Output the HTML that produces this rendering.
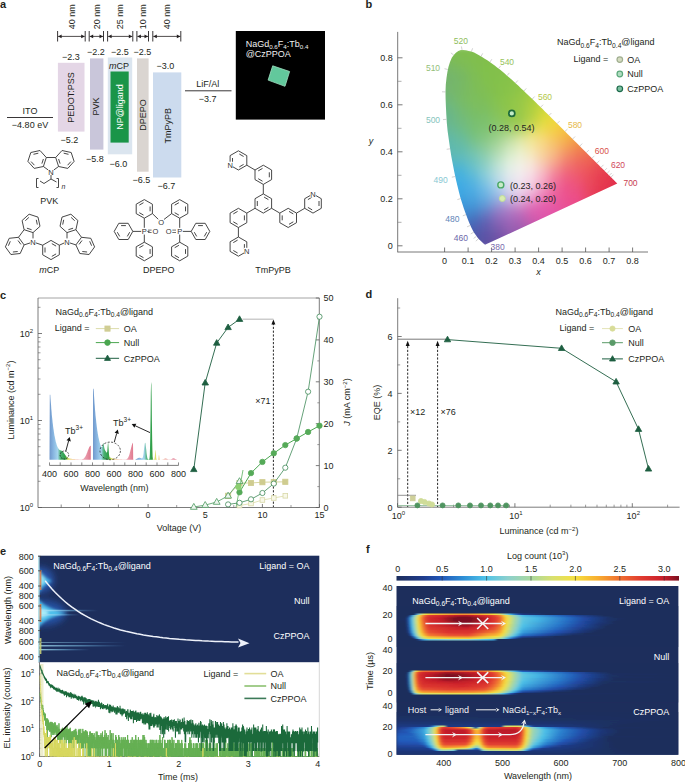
<!DOCTYPE html><html><head><meta charset="utf-8"><style>html,body{margin:0;padding:0;background:#fff;width:685px;height:783px;overflow:hidden}svg{display:block}</style></head><body><svg width="685" height="783" viewBox="0 0 685 783" style="font-family:'Liberation Sans',sans-serif"><defs><filter id="soft" x="-20%" y="-20%" width="140%" height="140%"><feGaussianBlur stdDeviation="0.5"/></filter><clipPath id="gam"><path d="M485.5,244.6 L485.4,244.7 L485.3,244.7 L485.2,244.7 L484.9,244.6 L484.3,244.2 L483.2,243.2 L481.4,241.6 L478.4,238.8 L473.8,232.2 L473.1,231.1 L472.2,229.3 L471.2,227.3 L470.2,225 L469,222.3 L467.8,219.2 L466.5,215.8 L465.1,212.1 L463.6,207.8 L462.1,203 L460.5,197.9 L459,192.2 L457.4,185.8 L455.8,179.1 L454.3,172 L452.8,164.3 L451.3,156.2 L450,148 L448.8,139.6 L447.6,131.1 L446.8,122.7 L446.3,114.6 L445.9,106.6 L445.6,98.8 L445.5,91.5 L445.8,84.5 L446.5,77.9 L447.4,71.9 L448.5,66.8 L450,62 L451.8,57.8 L453.8,54.9 L455.9,52.8 L458.3,51.1 L460.8,50 L463.3,49.9 L466,50.3 L468.7,50.9 L471.4,51.6 L474.1,52.6 L476.8,54 L479.5,55.6 L482.1,57.1 L484.7,58.7 L487.3,60.3 L489.8,62 L492.2,63.8 L494.7,65.6 L497.1,67.4 L499.6,69.3 L502,71.3 L504.4,73.3 L506.8,75.4 L509.2,77.5 L511.6,79.6 L514,81.7 L516.4,83.9 L518.7,86.1 L521.1,88.4 L523.5,90.6 L525.9,92.9 L528.3,95.2 L530.7,97.5 L533.1,99.8 L535.4,102.1 L537.8,104.5 L540.2,106.8 L542.6,109.1 L544.9,111.5 L547.3,113.8 L549.6,116.1 L552,118.4 L554.3,120.7 L556.6,123 L558.9,125.3 L561.1,127.6 L563.4,129.8 L565.6,132 L567.8,134.2 L569.9,136.3 L572.1,138.4 L574.1,140.5 L576.2,142.6 L578.2,144.6 L580.2,146.5 L582.1,148.4 L583.9,150.3 L585.7,152.1 L587.4,153.8 L589.1,155.4 L590.7,157 L592.2,158.5 L593.7,160 L595.1,161.4 L596.5,162.8 L597.7,164 L599,165.2 L600.1,166.4 L601.2,167.4 L602.2,168.5 L603.2,169.4 L604.1,170.3 L604.9,171.2 L605.7,172 L606.5,172.7 L607.2,173.4 L607.8,174.1 L608.4,174.7 L609,175.2 L609.5,175.8 L610.1,176.3 L610.5,176.8 L611,177.2 L611.4,177.6 L611.8,178 L612.2,178.4 L612.6,178.8 L612.9,179.2 L613.3,179.5 L613.6,179.8 L615.2,181.4 L616.5,182.7 L617,183.2 L617.3,183.5 Z"/></clipPath><filter id="blurv" x="-5%" y="-5%" width="110%" height="110%"><feGaussianBlur stdDeviation="1.5 2"/></filter><linearGradient id="cg0" gradientUnits="userSpaceOnUse" x1="439.9" y1="0" x2="623.2" y2="0"><stop offset="0.000" stop-color="#7ebc54"/><stop offset="0.062" stop-color="#7fbd50"/><stop offset="0.125" stop-color="#80be4f"/><stop offset="0.188" stop-color="#80be4e"/><stop offset="0.250" stop-color="#81bf4d"/><stop offset="0.312" stop-color="#82c04c"/><stop offset="0.375" stop-color="#82c04b"/><stop offset="0.438" stop-color="#84c14a"/><stop offset="0.500" stop-color="#87c348"/><stop offset="0.562" stop-color="#8bc447"/><stop offset="0.625" stop-color="#95c845"/><stop offset="0.688" stop-color="#a4cc42"/><stop offset="0.750" stop-color="#b3ce44"/><stop offset="0.812" stop-color="#b2b775"/><stop offset="0.875" stop-color="#a7a696"/><stop offset="0.938" stop-color="#a7a597"/><stop offset="1.000" stop-color="#a6a597"/></linearGradient><linearGradient id="cg1" gradientUnits="userSpaceOnUse" x1="439.9" y1="0" x2="623.2" y2="0"><stop offset="0.000" stop-color="#7dbb56"/><stop offset="0.062" stop-color="#7ebd52"/><stop offset="0.125" stop-color="#7fbe50"/><stop offset="0.188" stop-color="#80be4e"/><stop offset="0.250" stop-color="#81bf4d"/><stop offset="0.312" stop-color="#82c04b"/><stop offset="0.375" stop-color="#83c04b"/><stop offset="0.438" stop-color="#84c14a"/><stop offset="0.500" stop-color="#88c348"/><stop offset="0.562" stop-color="#8dc547"/><stop offset="0.625" stop-color="#98c844"/><stop offset="0.688" stop-color="#a7cd41"/><stop offset="0.750" stop-color="#b7d140"/><stop offset="0.812" stop-color="#bdc55e"/><stop offset="0.875" stop-color="#a9a793"/><stop offset="0.938" stop-color="#a7a597"/><stop offset="1.000" stop-color="#a6a597"/></linearGradient><linearGradient id="cg2" gradientUnits="userSpaceOnUse" x1="439.9" y1="0" x2="623.2" y2="0"><stop offset="0.000" stop-color="#7bba5a"/><stop offset="0.062" stop-color="#7ebc54"/><stop offset="0.125" stop-color="#7fbd50"/><stop offset="0.188" stop-color="#80be4f"/><stop offset="0.250" stop-color="#81bf4d"/><stop offset="0.312" stop-color="#82c04b"/><stop offset="0.375" stop-color="#83c04b"/><stop offset="0.438" stop-color="#85c249"/><stop offset="0.500" stop-color="#88c348"/><stop offset="0.562" stop-color="#8ec546"/><stop offset="0.625" stop-color="#9bc943"/><stop offset="0.688" stop-color="#aace40"/><stop offset="0.750" stop-color="#bbd33e"/><stop offset="0.812" stop-color="#c8d04b"/><stop offset="0.875" stop-color="#aeac8b"/><stop offset="0.938" stop-color="#a7a597"/><stop offset="1.000" stop-color="#a6a597"/></linearGradient><linearGradient id="cg3" gradientUnits="userSpaceOnUse" x1="439.9" y1="0" x2="623.2" y2="0"><stop offset="0.000" stop-color="#7ab95e"/><stop offset="0.062" stop-color="#7cbb57"/><stop offset="0.125" stop-color="#7ebd52"/><stop offset="0.188" stop-color="#80be4f"/><stop offset="0.250" stop-color="#81bf4c"/><stop offset="0.312" stop-color="#82c04b"/><stop offset="0.375" stop-color="#83c14a"/><stop offset="0.438" stop-color="#85c249"/><stop offset="0.500" stop-color="#89c448"/><stop offset="0.562" stop-color="#90c646"/><stop offset="0.625" stop-color="#9eca43"/><stop offset="0.688" stop-color="#aecf3f"/><stop offset="0.750" stop-color="#bfd43d"/><stop offset="0.812" stop-color="#d1d641"/><stop offset="0.875" stop-color="#b9b57b"/><stop offset="0.938" stop-color="#a7a596"/><stop offset="1.000" stop-color="#a6a597"/></linearGradient><linearGradient id="cg4" gradientUnits="userSpaceOnUse" x1="439.9" y1="0" x2="623.2" y2="0"><stop offset="0.000" stop-color="#78b862"/><stop offset="0.062" stop-color="#7bba5a"/><stop offset="0.125" stop-color="#7ebc54"/><stop offset="0.188" stop-color="#80be4f"/><stop offset="0.250" stop-color="#81bf4c"/><stop offset="0.312" stop-color="#82c04b"/><stop offset="0.375" stop-color="#83c14a"/><stop offset="0.438" stop-color="#86c249"/><stop offset="0.500" stop-color="#8ac447"/><stop offset="0.562" stop-color="#92c745"/><stop offset="0.625" stop-color="#a1cb42"/><stop offset="0.688" stop-color="#b1d03f"/><stop offset="0.750" stop-color="#c3d63c"/><stop offset="0.812" stop-color="#d7d93d"/><stop offset="0.875" stop-color="#cac364"/><stop offset="0.938" stop-color="#a8a695"/><stop offset="1.000" stop-color="#a7a597"/></linearGradient><linearGradient id="cg5" gradientUnits="userSpaceOnUse" x1="439.9" y1="0" x2="623.2" y2="0"><stop offset="0.000" stop-color="#77b765"/><stop offset="0.062" stop-color="#79b95e"/><stop offset="0.125" stop-color="#7dbb56"/><stop offset="0.188" stop-color="#7fbe50"/><stop offset="0.250" stop-color="#81bf4c"/><stop offset="0.312" stop-color="#82c04b"/><stop offset="0.375" stop-color="#84c14a"/><stop offset="0.438" stop-color="#86c249"/><stop offset="0.500" stop-color="#8bc447"/><stop offset="0.562" stop-color="#95c745"/><stop offset="0.625" stop-color="#a4cc41"/><stop offset="0.688" stop-color="#b5d13e"/><stop offset="0.750" stop-color="#c8d73c"/><stop offset="0.812" stop-color="#dcdb3b"/><stop offset="0.875" stop-color="#dbcf4f"/><stop offset="0.938" stop-color="#aca890"/><stop offset="1.000" stop-color="#a7a597"/></linearGradient><linearGradient id="cg6" gradientUnits="userSpaceOnUse" x1="439.9" y1="0" x2="623.2" y2="0"><stop offset="0.000" stop-color="#75b668"/><stop offset="0.062" stop-color="#78b862"/><stop offset="0.125" stop-color="#7bbb5a"/><stop offset="0.188" stop-color="#7fbe51"/><stop offset="0.250" stop-color="#81c04c"/><stop offset="0.312" stop-color="#82c04b"/><stop offset="0.375" stop-color="#84c14a"/><stop offset="0.438" stop-color="#87c348"/><stop offset="0.500" stop-color="#8dc547"/><stop offset="0.562" stop-color="#97c844"/><stop offset="0.625" stop-color="#a7cd40"/><stop offset="0.688" stop-color="#b9d33e"/><stop offset="0.750" stop-color="#cdd83b"/><stop offset="0.812" stop-color="#e1dc3a"/><stop offset="0.875" stop-color="#e6d643"/><stop offset="0.938" stop-color="#b4ad86"/><stop offset="1.000" stop-color="#a7a597"/></linearGradient><linearGradient id="cg7" gradientUnits="userSpaceOnUse" x1="439.9" y1="0" x2="623.2" y2="0"><stop offset="0.000" stop-color="#75b56a"/><stop offset="0.062" stop-color="#77b765"/><stop offset="0.125" stop-color="#7aba5d"/><stop offset="0.188" stop-color="#7fbe52"/><stop offset="0.250" stop-color="#81c04c"/><stop offset="0.312" stop-color="#83c04b"/><stop offset="0.375" stop-color="#84c14a"/><stop offset="0.438" stop-color="#88c348"/><stop offset="0.500" stop-color="#8ec546"/><stop offset="0.562" stop-color="#9ac943"/><stop offset="0.625" stop-color="#abce40"/><stop offset="0.688" stop-color="#bdd43d"/><stop offset="0.750" stop-color="#d2d93b"/><stop offset="0.812" stop-color="#e5dd39"/><stop offset="0.875" stop-color="#ecd83d"/><stop offset="0.938" stop-color="#c3b574"/><stop offset="1.000" stop-color="#a7a596"/></linearGradient><linearGradient id="cg8" gradientUnits="userSpaceOnUse" x1="439.9" y1="0" x2="623.2" y2="0"><stop offset="0.000" stop-color="#74b56c"/><stop offset="0.062" stop-color="#76b668"/><stop offset="0.125" stop-color="#79b960"/><stop offset="0.188" stop-color="#7ebd53"/><stop offset="0.250" stop-color="#81c04d"/><stop offset="0.312" stop-color="#83c04b"/><stop offset="0.375" stop-color="#85c24a"/><stop offset="0.438" stop-color="#89c348"/><stop offset="0.500" stop-color="#90c646"/><stop offset="0.562" stop-color="#9eca43"/><stop offset="0.625" stop-color="#aed03f"/><stop offset="0.688" stop-color="#c1d53c"/><stop offset="0.750" stop-color="#d7da3a"/><stop offset="0.812" stop-color="#e8dd39"/><stop offset="0.875" stop-color="#efd83b"/><stop offset="0.938" stop-color="#d6bd5e"/><stop offset="1.000" stop-color="#a9a694"/></linearGradient><linearGradient id="cg9" gradientUnits="userSpaceOnUse" x1="439.9" y1="0" x2="623.2" y2="0"><stop offset="0.000" stop-color="#74b56d"/><stop offset="0.062" stop-color="#75b66a"/><stop offset="0.125" stop-color="#78b862"/><stop offset="0.188" stop-color="#7ebd55"/><stop offset="0.250" stop-color="#81c04d"/><stop offset="0.312" stop-color="#83c14b"/><stop offset="0.375" stop-color="#85c249"/><stop offset="0.438" stop-color="#8ac448"/><stop offset="0.500" stop-color="#92c745"/><stop offset="0.562" stop-color="#a1cb42"/><stop offset="0.625" stop-color="#b2d13f"/><stop offset="0.688" stop-color="#c6d63c"/><stop offset="0.750" stop-color="#dbdb3a"/><stop offset="0.812" stop-color="#ebdc39"/><stop offset="0.875" stop-color="#f1d63a"/><stop offset="0.938" stop-color="#e5c24d"/><stop offset="1.000" stop-color="#ada78f"/></linearGradient><linearGradient id="cg10" gradientUnits="userSpaceOnUse" x1="439.9" y1="0" x2="623.2" y2="0"><stop offset="0.000" stop-color="#73b46d"/><stop offset="0.062" stop-color="#74b56b"/><stop offset="0.125" stop-color="#78b863"/><stop offset="0.188" stop-color="#7ebd56"/><stop offset="0.250" stop-color="#81c04e"/><stop offset="0.312" stop-color="#83c14b"/><stop offset="0.375" stop-color="#86c249"/><stop offset="0.438" stop-color="#8bc447"/><stop offset="0.500" stop-color="#94c745"/><stop offset="0.562" stop-color="#a4cc41"/><stop offset="0.625" stop-color="#b6d23e"/><stop offset="0.688" stop-color="#cad73b"/><stop offset="0.750" stop-color="#dfdc39"/><stop offset="0.812" stop-color="#eddc39"/><stop offset="0.875" stop-color="#f3d339"/><stop offset="0.938" stop-color="#edc243"/><stop offset="1.000" stop-color="#b7a884"/></linearGradient><linearGradient id="cg11" gradientUnits="userSpaceOnUse" x1="439.9" y1="0" x2="623.2" y2="0"><stop offset="0.000" stop-color="#73b46e"/><stop offset="0.062" stop-color="#74b56c"/><stop offset="0.125" stop-color="#78b964"/><stop offset="0.188" stop-color="#7dbd57"/><stop offset="0.250" stop-color="#81c04f"/><stop offset="0.312" stop-color="#83c14b"/><stop offset="0.375" stop-color="#87c249"/><stop offset="0.438" stop-color="#8cc547"/><stop offset="0.500" stop-color="#97c844"/><stop offset="0.562" stop-color="#a8cd41"/><stop offset="0.625" stop-color="#bad33d"/><stop offset="0.688" stop-color="#cfd93b"/><stop offset="0.750" stop-color="#e3dd39"/><stop offset="0.812" stop-color="#efda39"/><stop offset="0.875" stop-color="#f3d03a"/><stop offset="0.938" stop-color="#f1c03f"/><stop offset="1.000" stop-color="#c7aa72"/></linearGradient><linearGradient id="cg12" gradientUnits="userSpaceOnUse" x1="439.9" y1="0" x2="623.2" y2="0"><stop offset="0.000" stop-color="#73b46f"/><stop offset="0.062" stop-color="#74b66c"/><stop offset="0.125" stop-color="#78b964"/><stop offset="0.188" stop-color="#7dbd58"/><stop offset="0.250" stop-color="#81bf50"/><stop offset="0.312" stop-color="#84c14b"/><stop offset="0.375" stop-color="#87c349"/><stop offset="0.438" stop-color="#8ec547"/><stop offset="0.500" stop-color="#9ac944"/><stop offset="0.562" stop-color="#abce40"/><stop offset="0.625" stop-color="#bed43d"/><stop offset="0.688" stop-color="#d4da3a"/><stop offset="0.750" stop-color="#e7dd39"/><stop offset="0.812" stop-color="#f1d839"/><stop offset="0.875" stop-color="#f4cc3a"/><stop offset="0.938" stop-color="#f3bd3d"/><stop offset="1.000" stop-color="#d9a95d"/></linearGradient><linearGradient id="cg13" gradientUnits="userSpaceOnUse" x1="439.9" y1="0" x2="623.2" y2="0"><stop offset="0.000" stop-color="#72b571"/><stop offset="0.062" stop-color="#74b66d"/><stop offset="0.125" stop-color="#78b964"/><stop offset="0.188" stop-color="#7dbd59"/><stop offset="0.250" stop-color="#80bf51"/><stop offset="0.312" stop-color="#84c14c"/><stop offset="0.375" stop-color="#88c349"/><stop offset="0.438" stop-color="#8fc647"/><stop offset="0.500" stop-color="#9dca43"/><stop offset="0.562" stop-color="#afd03f"/><stop offset="0.625" stop-color="#c3d53c"/><stop offset="0.688" stop-color="#d9db3a"/><stop offset="0.750" stop-color="#eadc39"/><stop offset="0.812" stop-color="#f2d639"/><stop offset="0.875" stop-color="#f4c83a"/><stop offset="0.938" stop-color="#f4b93d"/><stop offset="1.000" stop-color="#e6a74e"/></linearGradient><linearGradient id="cg14" gradientUnits="userSpaceOnUse" x1="439.9" y1="0" x2="623.2" y2="0"><stop offset="0.000" stop-color="#72b573"/><stop offset="0.062" stop-color="#74b66e"/><stop offset="0.125" stop-color="#78ba64"/><stop offset="0.188" stop-color="#7dbd5a"/><stop offset="0.250" stop-color="#80bf53"/><stop offset="0.312" stop-color="#84c14c"/><stop offset="0.375" stop-color="#89c349"/><stop offset="0.438" stop-color="#91c646"/><stop offset="0.500" stop-color="#a0cb43"/><stop offset="0.562" stop-color="#b2d13f"/><stop offset="0.625" stop-color="#c8d73c"/><stop offset="0.688" stop-color="#dedc3a"/><stop offset="0.750" stop-color="#ecdb39"/><stop offset="0.812" stop-color="#f3d339"/><stop offset="0.875" stop-color="#f4c43b"/><stop offset="0.938" stop-color="#f4b43d"/><stop offset="1.000" stop-color="#eda247"/></linearGradient><linearGradient id="cg15" gradientUnits="userSpaceOnUse" x1="439.9" y1="0" x2="623.2" y2="0"><stop offset="0.000" stop-color="#70b576"/><stop offset="0.062" stop-color="#73b770"/><stop offset="0.125" stop-color="#78ba64"/><stop offset="0.188" stop-color="#7cbd5b"/><stop offset="0.250" stop-color="#7fbf55"/><stop offset="0.312" stop-color="#84c14d"/><stop offset="0.375" stop-color="#8ac449"/><stop offset="0.438" stop-color="#93c746"/><stop offset="0.500" stop-color="#a3cc42"/><stop offset="0.562" stop-color="#b6d23e"/><stop offset="0.625" stop-color="#cdd83b"/><stop offset="0.688" stop-color="#e2dc39"/><stop offset="0.750" stop-color="#eeda39"/><stop offset="0.812" stop-color="#f3cf3a"/><stop offset="0.875" stop-color="#f4c03b"/><stop offset="0.938" stop-color="#f4b03e"/><stop offset="1.000" stop-color="#f09d44"/></linearGradient><linearGradient id="cg16" gradientUnits="userSpaceOnUse" x1="439.9" y1="0" x2="623.2" y2="0"><stop offset="0.000" stop-color="#6fb57a"/><stop offset="0.062" stop-color="#72b773"/><stop offset="0.125" stop-color="#78bb65"/><stop offset="0.188" stop-color="#7cbe5c"/><stop offset="0.250" stop-color="#7fbf56"/><stop offset="0.312" stop-color="#85c24e"/><stop offset="0.375" stop-color="#8cc449"/><stop offset="0.438" stop-color="#95c746"/><stop offset="0.500" stop-color="#a5cd42"/><stop offset="0.562" stop-color="#bad33e"/><stop offset="0.625" stop-color="#d2d93b"/><stop offset="0.688" stop-color="#e5dc39"/><stop offset="0.750" stop-color="#f0d839"/><stop offset="0.812" stop-color="#f4cc3a"/><stop offset="0.875" stop-color="#f4bc3c"/><stop offset="0.938" stop-color="#f4ab3f"/><stop offset="1.000" stop-color="#f19843"/></linearGradient><linearGradient id="cg17" gradientUnits="userSpaceOnUse" x1="439.9" y1="0" x2="623.2" y2="0"><stop offset="0.000" stop-color="#6eb67f"/><stop offset="0.062" stop-color="#71b776"/><stop offset="0.125" stop-color="#78bb67"/><stop offset="0.188" stop-color="#7cbe5d"/><stop offset="0.250" stop-color="#7ebf59"/><stop offset="0.312" stop-color="#85c24f"/><stop offset="0.375" stop-color="#8dc54a"/><stop offset="0.438" stop-color="#97c846"/><stop offset="0.500" stop-color="#a8cd42"/><stop offset="0.562" stop-color="#bfd43d"/><stop offset="0.625" stop-color="#d7da3a"/><stop offset="0.688" stop-color="#e9dc39"/><stop offset="0.750" stop-color="#f1d539"/><stop offset="0.812" stop-color="#f4c83a"/><stop offset="0.875" stop-color="#f4b83d"/><stop offset="0.938" stop-color="#f3a63f"/><stop offset="1.000" stop-color="#f19343"/></linearGradient><linearGradient id="cg18" gradientUnits="userSpaceOnUse" x1="439.9" y1="0" x2="623.2" y2="0"><stop offset="0.000" stop-color="#6cb683"/><stop offset="0.062" stop-color="#70b87a"/><stop offset="0.125" stop-color="#77bb69"/><stop offset="0.188" stop-color="#7bbe5f"/><stop offset="0.250" stop-color="#7ebf5b"/><stop offset="0.312" stop-color="#86c251"/><stop offset="0.375" stop-color="#8dc54a"/><stop offset="0.438" stop-color="#98c847"/><stop offset="0.500" stop-color="#abce42"/><stop offset="0.562" stop-color="#c3d53d"/><stop offset="0.625" stop-color="#dbdb3a"/><stop offset="0.688" stop-color="#ebdb39"/><stop offset="0.750" stop-color="#f2d239"/><stop offset="0.812" stop-color="#f4c43b"/><stop offset="0.875" stop-color="#f4b43d"/><stop offset="0.938" stop-color="#f3a140"/><stop offset="1.000" stop-color="#f18e44"/></linearGradient><linearGradient id="cg19" gradientUnits="userSpaceOnUse" x1="439.9" y1="0" x2="623.2" y2="0"><stop offset="0.000" stop-color="#6bb686"/><stop offset="0.062" stop-color="#6eb87e"/><stop offset="0.125" stop-color="#76bb6c"/><stop offset="0.188" stop-color="#7bbe61"/><stop offset="0.250" stop-color="#7dbf5d"/><stop offset="0.312" stop-color="#86c253"/><stop offset="0.375" stop-color="#8ec54b"/><stop offset="0.438" stop-color="#99c847"/><stop offset="0.500" stop-color="#adcf42"/><stop offset="0.562" stop-color="#c8d63d"/><stop offset="0.625" stop-color="#e0db3a"/><stop offset="0.688" stop-color="#eed939"/><stop offset="0.750" stop-color="#f3cf3a"/><stop offset="0.812" stop-color="#f4c03b"/><stop offset="0.875" stop-color="#f4af3e"/><stop offset="0.938" stop-color="#f29c41"/><stop offset="1.000" stop-color="#f18944"/></linearGradient><linearGradient id="cg20" gradientUnits="userSpaceOnUse" x1="439.9" y1="0" x2="623.2" y2="0"><stop offset="0.000" stop-color="#6ab688"/><stop offset="0.062" stop-color="#6db781"/><stop offset="0.125" stop-color="#75bb70"/><stop offset="0.188" stop-color="#7abe64"/><stop offset="0.250" stop-color="#7dbf60"/><stop offset="0.312" stop-color="#86c256"/><stop offset="0.375" stop-color="#8fc54c"/><stop offset="0.438" stop-color="#99c948"/><stop offset="0.500" stop-color="#b0d042"/><stop offset="0.562" stop-color="#ccd83d"/><stop offset="0.625" stop-color="#e4db3a"/><stop offset="0.688" stop-color="#f0d739"/><stop offset="0.750" stop-color="#f4cb3a"/><stop offset="0.812" stop-color="#f4bb3c"/><stop offset="0.875" stop-color="#f4aa3f"/><stop offset="0.938" stop-color="#f29642"/><stop offset="1.000" stop-color="#f08545"/></linearGradient><linearGradient id="cg21" gradientUnits="userSpaceOnUse" x1="439.9" y1="0" x2="623.2" y2="0"><stop offset="0.000" stop-color="#6ab68a"/><stop offset="0.062" stop-color="#6cb784"/><stop offset="0.125" stop-color="#74bb73"/><stop offset="0.188" stop-color="#79be66"/><stop offset="0.250" stop-color="#7cc063"/><stop offset="0.312" stop-color="#86c359"/><stop offset="0.375" stop-color="#8fc54e"/><stop offset="0.438" stop-color="#9ac949"/><stop offset="0.500" stop-color="#b2d043"/><stop offset="0.562" stop-color="#d1d93d"/><stop offset="0.625" stop-color="#e7db3a"/><stop offset="0.688" stop-color="#f1d539"/><stop offset="0.750" stop-color="#f4c73b"/><stop offset="0.812" stop-color="#f4b73d"/><stop offset="0.875" stop-color="#f3a53f"/><stop offset="0.938" stop-color="#f29143"/><stop offset="1.000" stop-color="#f08145"/></linearGradient><linearGradient id="cg22" gradientUnits="userSpaceOnUse" x1="439.9" y1="0" x2="623.2" y2="0"><stop offset="0.000" stop-color="#69b68c"/><stop offset="0.062" stop-color="#6bb787"/><stop offset="0.125" stop-color="#73bb76"/><stop offset="0.188" stop-color="#79be69"/><stop offset="0.250" stop-color="#7cc067"/><stop offset="0.312" stop-color="#86c35c"/><stop offset="0.375" stop-color="#8fc650"/><stop offset="0.438" stop-color="#9bc94b"/><stop offset="0.500" stop-color="#b5d144"/><stop offset="0.562" stop-color="#d6d93e"/><stop offset="0.625" stop-color="#eada3a"/><stop offset="0.688" stop-color="#f2d23a"/><stop offset="0.750" stop-color="#f4c33b"/><stop offset="0.812" stop-color="#f4b33d"/><stop offset="0.875" stop-color="#f3a040"/><stop offset="0.938" stop-color="#f18c43"/><stop offset="1.000" stop-color="#f07c46"/></linearGradient><linearGradient id="cg23" gradientUnits="userSpaceOnUse" x1="439.9" y1="0" x2="623.2" y2="0"><stop offset="0.000" stop-color="#69b68d"/><stop offset="0.062" stop-color="#6bb789"/><stop offset="0.125" stop-color="#72bb7a"/><stop offset="0.188" stop-color="#78bf6c"/><stop offset="0.250" stop-color="#7cc16a"/><stop offset="0.312" stop-color="#86c460"/><stop offset="0.375" stop-color="#90c653"/><stop offset="0.438" stop-color="#9dca4d"/><stop offset="0.500" stop-color="#b9d247"/><stop offset="0.562" stop-color="#dbda3f"/><stop offset="0.625" stop-color="#edd93b"/><stop offset="0.688" stop-color="#f3ce3b"/><stop offset="0.750" stop-color="#f4bf3c"/><stop offset="0.812" stop-color="#f4ae3e"/><stop offset="0.875" stop-color="#f29a41"/><stop offset="0.938" stop-color="#f18844"/><stop offset="1.000" stop-color="#ef7847"/></linearGradient><linearGradient id="cg24" gradientUnits="userSpaceOnUse" x1="439.9" y1="0" x2="623.2" y2="0"><stop offset="0.000" stop-color="#68b68f"/><stop offset="0.062" stop-color="#6ab78c"/><stop offset="0.125" stop-color="#71bb7d"/><stop offset="0.188" stop-color="#78bf6f"/><stop offset="0.250" stop-color="#7dc16c"/><stop offset="0.312" stop-color="#87c565"/><stop offset="0.375" stop-color="#92c758"/><stop offset="0.438" stop-color="#a0cb52"/><stop offset="0.500" stop-color="#bfd44c"/><stop offset="0.562" stop-color="#e0da43"/><stop offset="0.625" stop-color="#efd73d"/><stop offset="0.688" stop-color="#f4ca3c"/><stop offset="0.750" stop-color="#f4ba3d"/><stop offset="0.812" stop-color="#f3a93f"/><stop offset="0.875" stop-color="#f29542"/><stop offset="0.938" stop-color="#f08345"/><stop offset="1.000" stop-color="#ee7348"/></linearGradient><linearGradient id="cg25" gradientUnits="userSpaceOnUse" x1="439.9" y1="0" x2="623.2" y2="0"><stop offset="0.000" stop-color="#68b791"/><stop offset="0.062" stop-color="#69b88f"/><stop offset="0.125" stop-color="#70bb80"/><stop offset="0.188" stop-color="#78bf72"/><stop offset="0.250" stop-color="#7ec26f"/><stop offset="0.312" stop-color="#89c66b"/><stop offset="0.375" stop-color="#95c95f"/><stop offset="0.438" stop-color="#a5cd58"/><stop offset="0.500" stop-color="#c6d653"/><stop offset="0.562" stop-color="#e4db47"/><stop offset="0.625" stop-color="#f1d43f"/><stop offset="0.688" stop-color="#f4c63d"/><stop offset="0.750" stop-color="#f4b63e"/><stop offset="0.812" stop-color="#f3a440"/><stop offset="0.875" stop-color="#f19043"/><stop offset="0.938" stop-color="#f07f46"/><stop offset="1.000" stop-color="#ee6e48"/></linearGradient><linearGradient id="cg26" gradientUnits="userSpaceOnUse" x1="439.9" y1="0" x2="623.2" y2="0"><stop offset="0.000" stop-color="#67b795"/><stop offset="0.062" stop-color="#68b893"/><stop offset="0.125" stop-color="#6fbc85"/><stop offset="0.188" stop-color="#78c074"/><stop offset="0.250" stop-color="#7fc372"/><stop offset="0.312" stop-color="#8cc871"/><stop offset="0.375" stop-color="#9bcc69"/><stop offset="0.438" stop-color="#add163"/><stop offset="0.500" stop-color="#cfd95d"/><stop offset="0.562" stop-color="#e9db4f"/><stop offset="0.625" stop-color="#f2d143"/><stop offset="0.688" stop-color="#f4c23f"/><stop offset="0.750" stop-color="#f4b13f"/><stop offset="0.812" stop-color="#f39e41"/><stop offset="0.875" stop-color="#f18b44"/><stop offset="0.938" stop-color="#ef7a47"/><stop offset="1.000" stop-color="#ed6849"/></linearGradient><linearGradient id="cg27" gradientUnits="userSpaceOnUse" x1="439.9" y1="0" x2="623.2" y2="0"><stop offset="0.000" stop-color="#65b799"/><stop offset="0.062" stop-color="#66b898"/><stop offset="0.125" stop-color="#6dbc89"/><stop offset="0.188" stop-color="#78c078"/><stop offset="0.250" stop-color="#81c476"/><stop offset="0.312" stop-color="#90ca78"/><stop offset="0.375" stop-color="#a2d075"/><stop offset="0.438" stop-color="#b8d671"/><stop offset="0.500" stop-color="#d8dc6a"/><stop offset="0.562" stop-color="#edda58"/><stop offset="0.625" stop-color="#f4ce48"/><stop offset="0.688" stop-color="#f4be41"/><stop offset="0.750" stop-color="#f4ac40"/><stop offset="0.812" stop-color="#f29842"/><stop offset="0.875" stop-color="#f18645"/><stop offset="0.938" stop-color="#ef7647"/><stop offset="1.000" stop-color="#ec624a"/></linearGradient><linearGradient id="cg28" gradientUnits="userSpaceOnUse" x1="439.9" y1="0" x2="623.2" y2="0"><stop offset="0.000" stop-color="#64b89e"/><stop offset="0.062" stop-color="#65b99d"/><stop offset="0.125" stop-color="#6cbc8f"/><stop offset="0.188" stop-color="#78c17c"/><stop offset="0.250" stop-color="#84c57a"/><stop offset="0.312" stop-color="#95cc80"/><stop offset="0.375" stop-color="#aad483"/><stop offset="0.438" stop-color="#c5db81"/><stop offset="0.500" stop-color="#e2df77"/><stop offset="0.562" stop-color="#f1da63"/><stop offset="0.625" stop-color="#f5cb4f"/><stop offset="0.688" stop-color="#f5ba44"/><stop offset="0.750" stop-color="#f3a742"/><stop offset="0.812" stop-color="#f29344"/><stop offset="0.875" stop-color="#f08146"/><stop offset="0.938" stop-color="#ee7048"/><stop offset="1.000" stop-color="#eb5b4b"/></linearGradient><linearGradient id="cg29" gradientUnits="userSpaceOnUse" x1="439.9" y1="0" x2="623.2" y2="0"><stop offset="0.000" stop-color="#63b8a3"/><stop offset="0.062" stop-color="#63b9a2"/><stop offset="0.125" stop-color="#6abc95"/><stop offset="0.188" stop-color="#78c181"/><stop offset="0.250" stop-color="#86c77f"/><stop offset="0.312" stop-color="#9acf87"/><stop offset="0.375" stop-color="#b3d891"/><stop offset="0.438" stop-color="#d0e091"/><stop offset="0.500" stop-color="#e9e284"/><stop offset="0.562" stop-color="#f4d96e"/><stop offset="0.625" stop-color="#f5c856"/><stop offset="0.688" stop-color="#f4b547"/><stop offset="0.750" stop-color="#f3a144"/><stop offset="0.812" stop-color="#f18d45"/><stop offset="0.875" stop-color="#f07c47"/><stop offset="0.938" stop-color="#ed6b49"/><stop offset="1.000" stop-color="#ea554c"/></linearGradient><linearGradient id="cg30" gradientUnits="userSpaceOnUse" x1="439.9" y1="0" x2="623.2" y2="0"><stop offset="0.000" stop-color="#61b8a7"/><stop offset="0.062" stop-color="#62b9a6"/><stop offset="0.125" stop-color="#69bc9b"/><stop offset="0.188" stop-color="#78c288"/><stop offset="0.250" stop-color="#89c885"/><stop offset="0.312" stop-color="#9ed18f"/><stop offset="0.375" stop-color="#bbdd9d"/><stop offset="0.438" stop-color="#d9e5a0"/><stop offset="0.500" stop-color="#eee490"/><stop offset="0.562" stop-color="#f5d879"/><stop offset="0.625" stop-color="#f6c55e"/><stop offset="0.688" stop-color="#f4b04c"/><stop offset="0.750" stop-color="#f39b46"/><stop offset="0.812" stop-color="#f18846"/><stop offset="0.875" stop-color="#ef7848"/><stop offset="0.938" stop-color="#ed654a"/><stop offset="1.000" stop-color="#e94f4d"/></linearGradient><linearGradient id="cg31" gradientUnits="userSpaceOnUse" x1="439.9" y1="0" x2="623.2" y2="0"><stop offset="0.000" stop-color="#60b9aa"/><stop offset="0.062" stop-color="#61b9aa"/><stop offset="0.125" stop-color="#68bca0"/><stop offset="0.188" stop-color="#78c28f"/><stop offset="0.250" stop-color="#8bca8c"/><stop offset="0.312" stop-color="#a3d496"/><stop offset="0.375" stop-color="#c2e0a8"/><stop offset="0.438" stop-color="#dfe8ac"/><stop offset="0.500" stop-color="#f1e599"/><stop offset="0.562" stop-color="#f7d781"/><stop offset="0.625" stop-color="#f6c267"/><stop offset="0.688" stop-color="#f4ab51"/><stop offset="0.750" stop-color="#f29449"/><stop offset="0.812" stop-color="#f08248"/><stop offset="0.875" stop-color="#ef7249"/><stop offset="0.938" stop-color="#ec5f4b"/><stop offset="1.000" stop-color="#e84a4d"/></linearGradient><linearGradient id="cg32" gradientUnits="userSpaceOnUse" x1="439.9" y1="0" x2="623.2" y2="0"><stop offset="0.000" stop-color="#60b9ac"/><stop offset="0.062" stop-color="#60b9ac"/><stop offset="0.125" stop-color="#66bca6"/><stop offset="0.188" stop-color="#78c398"/><stop offset="0.250" stop-color="#8dcb94"/><stop offset="0.312" stop-color="#a8d69e"/><stop offset="0.375" stop-color="#c8e3b1"/><stop offset="0.438" stop-color="#e3ebb6"/><stop offset="0.500" stop-color="#f3e6a2"/><stop offset="0.562" stop-color="#f7d689"/><stop offset="0.625" stop-color="#f6bf6e"/><stop offset="0.688" stop-color="#f4a556"/><stop offset="0.750" stop-color="#f28e4c"/><stop offset="0.812" stop-color="#f07d4a"/><stop offset="0.875" stop-color="#ee6d4a"/><stop offset="0.938" stop-color="#eb594c"/><stop offset="1.000" stop-color="#e8454d"/></linearGradient><linearGradient id="cg33" gradientUnits="userSpaceOnUse" x1="439.9" y1="0" x2="623.2" y2="0"><stop offset="0.000" stop-color="#5fb9af"/><stop offset="0.062" stop-color="#5fb9af"/><stop offset="0.125" stop-color="#65bcab"/><stop offset="0.188" stop-color="#77c3a0"/><stop offset="0.250" stop-color="#8ecc9c"/><stop offset="0.312" stop-color="#acd8a6"/><stop offset="0.375" stop-color="#cde6ba"/><stop offset="0.438" stop-color="#e6edc0"/><stop offset="0.500" stop-color="#f4e6ab"/><stop offset="0.562" stop-color="#f8d48f"/><stop offset="0.625" stop-color="#f7bc75"/><stop offset="0.688" stop-color="#f49f5c"/><stop offset="0.750" stop-color="#f1874f"/><stop offset="0.812" stop-color="#f0774c"/><stop offset="0.875" stop-color="#ed674b"/><stop offset="0.938" stop-color="#ea534d"/><stop offset="1.000" stop-color="#e7414e"/></linearGradient><linearGradient id="cg34" gradientUnits="userSpaceOnUse" x1="439.9" y1="0" x2="623.2" y2="0"><stop offset="0.000" stop-color="#5eb9b1"/><stop offset="0.062" stop-color="#5eb9b2"/><stop offset="0.125" stop-color="#64bcb0"/><stop offset="0.188" stop-color="#76c4a8"/><stop offset="0.250" stop-color="#8ecda4"/><stop offset="0.312" stop-color="#afdaae"/><stop offset="0.375" stop-color="#d1e8c2"/><stop offset="0.438" stop-color="#e9eec8"/><stop offset="0.500" stop-color="#f5e7b4"/><stop offset="0.562" stop-color="#f8d395"/><stop offset="0.625" stop-color="#f6b87b"/><stop offset="0.688" stop-color="#f39861"/><stop offset="0.750" stop-color="#f18053"/><stop offset="0.812" stop-color="#ef724e"/><stop offset="0.875" stop-color="#ec614d"/><stop offset="0.938" stop-color="#e94d4d"/><stop offset="1.000" stop-color="#e63e4e"/></linearGradient><linearGradient id="cg35" gradientUnits="userSpaceOnUse" x1="439.9" y1="0" x2="623.2" y2="0"><stop offset="0.000" stop-color="#5cb8b3"/><stop offset="0.062" stop-color="#5cb8b6"/><stop offset="0.125" stop-color="#62bcb6"/><stop offset="0.188" stop-color="#75c4b0"/><stop offset="0.250" stop-color="#8fceac"/><stop offset="0.312" stop-color="#b2dcb6"/><stop offset="0.375" stop-color="#d5eac9"/><stop offset="0.438" stop-color="#ebf0d0"/><stop offset="0.500" stop-color="#f5e7bc"/><stop offset="0.562" stop-color="#f8d19c"/><stop offset="0.625" stop-color="#f6b481"/><stop offset="0.688" stop-color="#f39166"/><stop offset="0.750" stop-color="#f17a56"/><stop offset="0.812" stop-color="#ef6d50"/><stop offset="0.875" stop-color="#ec5c4e"/><stop offset="0.938" stop-color="#e8494e"/><stop offset="1.000" stop-color="#e53b4d"/></linearGradient><linearGradient id="cg36" gradientUnits="userSpaceOnUse" x1="439.9" y1="0" x2="623.2" y2="0"><stop offset="0.000" stop-color="#5ab8b7"/><stop offset="0.062" stop-color="#59b8bb"/><stop offset="0.125" stop-color="#60bbbc"/><stop offset="0.188" stop-color="#73c4b6"/><stop offset="0.250" stop-color="#8fcfb4"/><stop offset="0.312" stop-color="#b5debe"/><stop offset="0.375" stop-color="#d9ecd0"/><stop offset="0.438" stop-color="#edf0d7"/><stop offset="0.500" stop-color="#f6e6c5"/><stop offset="0.562" stop-color="#f8cea2"/><stop offset="0.625" stop-color="#f6af85"/><stop offset="0.688" stop-color="#f38a6b"/><stop offset="0.750" stop-color="#f0745a"/><stop offset="0.812" stop-color="#ee6752"/><stop offset="0.875" stop-color="#eb564f"/><stop offset="0.938" stop-color="#e8454e"/><stop offset="1.000" stop-color="#e5394d"/></linearGradient><linearGradient id="cg37" gradientUnits="userSpaceOnUse" x1="439.9" y1="0" x2="623.2" y2="0"><stop offset="0.000" stop-color="#57b7bc"/><stop offset="0.062" stop-color="#56b7c1"/><stop offset="0.125" stop-color="#5dbac2"/><stop offset="0.188" stop-color="#71c3bc"/><stop offset="0.250" stop-color="#8fcfbb"/><stop offset="0.312" stop-color="#b7dfc6"/><stop offset="0.375" stop-color="#dcedd7"/><stop offset="0.438" stop-color="#eff0dd"/><stop offset="0.500" stop-color="#f6e6cd"/><stop offset="0.562" stop-color="#f8cba9"/><stop offset="0.625" stop-color="#f6a98a"/><stop offset="0.688" stop-color="#f2836f"/><stop offset="0.750" stop-color="#f06e5d"/><stop offset="0.812" stop-color="#ed6254"/><stop offset="0.875" stop-color="#ea5150"/><stop offset="0.938" stop-color="#e7414e"/><stop offset="1.000" stop-color="#e4374d"/></linearGradient><linearGradient id="cg38" gradientUnits="userSpaceOnUse" x1="439.9" y1="0" x2="623.2" y2="0"><stop offset="0.000" stop-color="#53b5c3"/><stop offset="0.062" stop-color="#51b5c9"/><stop offset="0.125" stop-color="#59b9c9"/><stop offset="0.188" stop-color="#6fc3c2"/><stop offset="0.250" stop-color="#8fcfc2"/><stop offset="0.312" stop-color="#b9e0cd"/><stop offset="0.375" stop-color="#deeddd"/><stop offset="0.438" stop-color="#f0f0e2"/><stop offset="0.500" stop-color="#f7e4d4"/><stop offset="0.562" stop-color="#f7c7b0"/><stop offset="0.625" stop-color="#f5a28e"/><stop offset="0.688" stop-color="#f27c72"/><stop offset="0.750" stop-color="#ef6961"/><stop offset="0.812" stop-color="#ed5e56"/><stop offset="0.875" stop-color="#e94d50"/><stop offset="0.938" stop-color="#e63f4e"/><stop offset="1.000" stop-color="#e4364d"/></linearGradient><linearGradient id="cg39" gradientUnits="userSpaceOnUse" x1="439.9" y1="0" x2="623.2" y2="0"><stop offset="0.000" stop-color="#4db4cb"/><stop offset="0.062" stop-color="#4cb4d0"/><stop offset="0.125" stop-color="#54b7cf"/><stop offset="0.188" stop-color="#6dc2c8"/><stop offset="0.250" stop-color="#8ecfc8"/><stop offset="0.312" stop-color="#bae0d4"/><stop offset="0.375" stop-color="#dfede2"/><stop offset="0.438" stop-color="#f1efe7"/><stop offset="0.500" stop-color="#f7e2da"/><stop offset="0.562" stop-color="#f7c3b7"/><stop offset="0.625" stop-color="#f49a92"/><stop offset="0.688" stop-color="#f17576"/><stop offset="0.750" stop-color="#ef6564"/><stop offset="0.812" stop-color="#ec5957"/><stop offset="0.875" stop-color="#e94950"/><stop offset="0.938" stop-color="#e63c4e"/><stop offset="1.000" stop-color="#e3344d"/></linearGradient><linearGradient id="cg40" gradientUnits="userSpaceOnUse" x1="439.9" y1="0" x2="623.2" y2="0"><stop offset="0.000" stop-color="#48b2d3"/><stop offset="0.062" stop-color="#48b2d7"/><stop offset="0.125" stop-color="#50b6d5"/><stop offset="0.188" stop-color="#6ac0cd"/><stop offset="0.250" stop-color="#8ecfce"/><stop offset="0.312" stop-color="#badfda"/><stop offset="0.375" stop-color="#e0ece6"/><stop offset="0.438" stop-color="#f1eeea"/><stop offset="0.500" stop-color="#f7e0de"/><stop offset="0.562" stop-color="#f7bebd"/><stop offset="0.625" stop-color="#f39296"/><stop offset="0.688" stop-color="#f06f79"/><stop offset="0.750" stop-color="#ef6167"/><stop offset="0.812" stop-color="#ec5559"/><stop offset="0.875" stop-color="#e84651"/><stop offset="0.938" stop-color="#e53a4e"/><stop offset="1.000" stop-color="#e3334c"/></linearGradient><linearGradient id="cg41" gradientUnits="userSpaceOnUse" x1="439.9" y1="0" x2="623.2" y2="0"><stop offset="0.000" stop-color="#44b1da"/><stop offset="0.062" stop-color="#44b1dc"/><stop offset="0.125" stop-color="#4cb4d9"/><stop offset="0.188" stop-color="#66bed2"/><stop offset="0.250" stop-color="#8cced4"/><stop offset="0.312" stop-color="#b9dede"/><stop offset="0.375" stop-color="#e0eae9"/><stop offset="0.438" stop-color="#f2ebec"/><stop offset="0.500" stop-color="#f7dde1"/><stop offset="0.562" stop-color="#f6b9c1"/><stop offset="0.625" stop-color="#f38a99"/><stop offset="0.688" stop-color="#f0697c"/><stop offset="0.750" stop-color="#ee5d6a"/><stop offset="0.812" stop-color="#ec525a"/><stop offset="0.875" stop-color="#e84351"/><stop offset="0.938" stop-color="#e5384e"/><stop offset="1.000" stop-color="#e3324c"/></linearGradient><linearGradient id="cg42" gradientUnits="userSpaceOnUse" x1="439.9" y1="0" x2="623.2" y2="0"><stop offset="0.000" stop-color="#41b0df"/><stop offset="0.062" stop-color="#41afe0"/><stop offset="0.125" stop-color="#49b2dd"/><stop offset="0.188" stop-color="#62bcd7"/><stop offset="0.250" stop-color="#8accd9"/><stop offset="0.312" stop-color="#b8dce2"/><stop offset="0.375" stop-color="#dfe8ec"/><stop offset="0.438" stop-color="#f1e9ee"/><stop offset="0.500" stop-color="#f6d9e3"/><stop offset="0.562" stop-color="#f6b3c4"/><stop offset="0.625" stop-color="#f2839c"/><stop offset="0.688" stop-color="#ef6480"/><stop offset="0.750" stop-color="#ee5a6e"/><stop offset="0.812" stop-color="#eb4f5b"/><stop offset="0.875" stop-color="#e74051"/><stop offset="0.938" stop-color="#e4374d"/><stop offset="1.000" stop-color="#e2314c"/></linearGradient><linearGradient id="cg43" gradientUnits="userSpaceOnUse" x1="439.9" y1="0" x2="623.2" y2="0"><stop offset="0.000" stop-color="#3fafe2"/><stop offset="0.062" stop-color="#40aee2"/><stop offset="0.125" stop-color="#47b0e0"/><stop offset="0.188" stop-color="#5eb9db"/><stop offset="0.250" stop-color="#86c9dc"/><stop offset="0.312" stop-color="#b5dae5"/><stop offset="0.375" stop-color="#dee5ed"/><stop offset="0.438" stop-color="#f1e6ef"/><stop offset="0.500" stop-color="#f6d5e3"/><stop offset="0.562" stop-color="#f5aec5"/><stop offset="0.625" stop-color="#f17c9d"/><stop offset="0.688" stop-color="#ee5f83"/><stop offset="0.750" stop-color="#ee5771"/><stop offset="0.812" stop-color="#eb4d5c"/><stop offset="0.875" stop-color="#e73e50"/><stop offset="0.938" stop-color="#e4354d"/><stop offset="1.000" stop-color="#e2304c"/></linearGradient><linearGradient id="cg44" gradientUnits="userSpaceOnUse" x1="439.9" y1="0" x2="623.2" y2="0"><stop offset="0.000" stop-color="#3eaee3"/><stop offset="0.062" stop-color="#3eade3"/><stop offset="0.125" stop-color="#45aee1"/><stop offset="0.188" stop-color="#5ab6de"/><stop offset="0.250" stop-color="#82c6df"/><stop offset="0.312" stop-color="#b1d6e7"/><stop offset="0.375" stop-color="#dce2ee"/><stop offset="0.438" stop-color="#f0e2ef"/><stop offset="0.500" stop-color="#f5d0e3"/><stop offset="0.562" stop-color="#f4a8c5"/><stop offset="0.625" stop-color="#f0769f"/><stop offset="0.688" stop-color="#ee5c85"/><stop offset="0.750" stop-color="#ed5574"/><stop offset="0.812" stop-color="#ea4b5e"/><stop offset="0.875" stop-color="#e63c50"/><stop offset="0.938" stop-color="#e3344d"/><stop offset="1.000" stop-color="#e2304c"/></linearGradient><linearGradient id="cg45" gradientUnits="userSpaceOnUse" x1="439.9" y1="0" x2="623.2" y2="0"><stop offset="0.000" stop-color="#3dade4"/><stop offset="0.062" stop-color="#3eace4"/><stop offset="0.125" stop-color="#43ace2"/><stop offset="0.188" stop-color="#57b3e0"/><stop offset="0.250" stop-color="#7dc2e1"/><stop offset="0.312" stop-color="#add2e7"/><stop offset="0.375" stop-color="#dadeee"/><stop offset="0.438" stop-color="#eedeee"/><stop offset="0.500" stop-color="#f4cbe1"/><stop offset="0.562" stop-color="#f3a1c4"/><stop offset="0.625" stop-color="#ef719f"/><stop offset="0.688" stop-color="#ed5988"/><stop offset="0.750" stop-color="#ed5378"/><stop offset="0.812" stop-color="#ea495f"/><stop offset="0.875" stop-color="#e63b50"/><stop offset="0.938" stop-color="#e3334d"/><stop offset="1.000" stop-color="#e22f4c"/></linearGradient><linearGradient id="cg46" gradientUnits="userSpaceOnUse" x1="439.9" y1="0" x2="623.2" y2="0"><stop offset="0.000" stop-color="#3cace5"/><stop offset="0.062" stop-color="#3daae4"/><stop offset="0.125" stop-color="#42aae3"/><stop offset="0.188" stop-color="#54b0e1"/><stop offset="0.250" stop-color="#78bee3"/><stop offset="0.312" stop-color="#a8cde7"/><stop offset="0.375" stop-color="#d7d9ed"/><stop offset="0.438" stop-color="#ecd9ed"/><stop offset="0.500" stop-color="#f2c4df"/><stop offset="0.562" stop-color="#f19ac2"/><stop offset="0.625" stop-color="#ee6c9f"/><stop offset="0.688" stop-color="#ed568a"/><stop offset="0.750" stop-color="#ec517b"/><stop offset="0.812" stop-color="#ea4760"/><stop offset="0.875" stop-color="#e53950"/><stop offset="0.938" stop-color="#e3324c"/><stop offset="1.000" stop-color="#e22f4b"/></linearGradient><linearGradient id="cg47" gradientUnits="userSpaceOnUse" x1="439.9" y1="0" x2="623.2" y2="0"><stop offset="0.000" stop-color="#3caae4"/><stop offset="0.062" stop-color="#3da9e4"/><stop offset="0.125" stop-color="#41a8e2"/><stop offset="0.188" stop-color="#51ade1"/><stop offset="0.250" stop-color="#73b9e3"/><stop offset="0.312" stop-color="#a2c7e7"/><stop offset="0.375" stop-color="#d3d3ec"/><stop offset="0.438" stop-color="#ead2ea"/><stop offset="0.500" stop-color="#f0bbdb"/><stop offset="0.562" stop-color="#f091bf"/><stop offset="0.625" stop-color="#ed689f"/><stop offset="0.688" stop-color="#ec548c"/><stop offset="0.750" stop-color="#ec507e"/><stop offset="0.812" stop-color="#e94662"/><stop offset="0.875" stop-color="#e5384f"/><stop offset="0.938" stop-color="#e2314c"/><stop offset="1.000" stop-color="#e12e4b"/></linearGradient><linearGradient id="cg48" gradientUnits="userSpaceOnUse" x1="439.9" y1="0" x2="623.2" y2="0"><stop offset="0.000" stop-color="#3ca9e4"/><stop offset="0.062" stop-color="#3ca6e3"/><stop offset="0.125" stop-color="#40a6e1"/><stop offset="0.188" stop-color="#4fa9e1"/><stop offset="0.250" stop-color="#6eb4e2"/><stop offset="0.312" stop-color="#9dc0e5"/><stop offset="0.375" stop-color="#cfcbe9"/><stop offset="0.438" stop-color="#e7cae7"/><stop offset="0.500" stop-color="#eeb0d6"/><stop offset="0.562" stop-color="#ed88bb"/><stop offset="0.625" stop-color="#ec649f"/><stop offset="0.688" stop-color="#ec538d"/><stop offset="0.750" stop-color="#ec4f81"/><stop offset="0.812" stop-color="#e94564"/><stop offset="0.875" stop-color="#e4364f"/><stop offset="0.938" stop-color="#e2304c"/><stop offset="1.000" stop-color="#e12e4b"/></linearGradient><linearGradient id="cg49" gradientUnits="userSpaceOnUse" x1="439.9" y1="0" x2="623.2" y2="0"><stop offset="0.000" stop-color="#3ba6e3"/><stop offset="0.062" stop-color="#3ca4e1"/><stop offset="0.125" stop-color="#3fa3e0"/><stop offset="0.188" stop-color="#4da6df"/><stop offset="0.250" stop-color="#6bafe0"/><stop offset="0.312" stop-color="#98b7e2"/><stop offset="0.375" stop-color="#c9c1e5"/><stop offset="0.438" stop-color="#e3bfe2"/><stop offset="0.500" stop-color="#eba3d0"/><stop offset="0.562" stop-color="#eb7eb8"/><stop offset="0.625" stop-color="#eb619f"/><stop offset="0.688" stop-color="#eb528f"/><stop offset="0.750" stop-color="#ec4e84"/><stop offset="0.812" stop-color="#e94466"/><stop offset="0.875" stop-color="#e4354f"/><stop offset="0.938" stop-color="#e2304c"/><stop offset="1.000" stop-color="#e12e4b"/></linearGradient><linearGradient id="cg50" gradientUnits="userSpaceOnUse" x1="439.9" y1="0" x2="623.2" y2="0"><stop offset="0.000" stop-color="#3ba4e1"/><stop offset="0.062" stop-color="#3ca1e0"/><stop offset="0.125" stop-color="#3f9fde"/><stop offset="0.188" stop-color="#4ba1dd"/><stop offset="0.250" stop-color="#68a8de"/><stop offset="0.312" stop-color="#95adde"/><stop offset="0.375" stop-color="#c3b4e0"/><stop offset="0.438" stop-color="#deb1dc"/><stop offset="0.500" stop-color="#e793c9"/><stop offset="0.562" stop-color="#e974b4"/><stop offset="0.625" stop-color="#e95ea0"/><stop offset="0.688" stop-color="#eb5190"/><stop offset="0.750" stop-color="#eb4d86"/><stop offset="0.812" stop-color="#e84368"/><stop offset="0.875" stop-color="#e3344f"/><stop offset="0.938" stop-color="#e22f4c"/><stop offset="1.000" stop-color="#e12e4b"/></linearGradient><linearGradient id="cg51" gradientUnits="userSpaceOnUse" x1="439.9" y1="0" x2="623.2" y2="0"><stop offset="0.000" stop-color="#3ba1e0"/><stop offset="0.062" stop-color="#3b9ede"/><stop offset="0.125" stop-color="#3e9bdc"/><stop offset="0.188" stop-color="#499cda"/><stop offset="0.250" stop-color="#66a0da"/><stop offset="0.312" stop-color="#92a2d9"/><stop offset="0.375" stop-color="#bda5da"/><stop offset="0.438" stop-color="#d8a1d4"/><stop offset="0.500" stop-color="#e484c2"/><stop offset="0.562" stop-color="#e66bb1"/><stop offset="0.625" stop-color="#e85ba1"/><stop offset="0.688" stop-color="#ea5192"/><stop offset="0.750" stop-color="#eb4d88"/><stop offset="0.812" stop-color="#e8436b"/><stop offset="0.875" stop-color="#e3334f"/><stop offset="0.938" stop-color="#e22f4c"/><stop offset="1.000" stop-color="#e12e4b"/></linearGradient><linearGradient id="cg52" gradientUnits="userSpaceOnUse" x1="439.9" y1="0" x2="623.2" y2="0"><stop offset="0.000" stop-color="#3a9ede"/><stop offset="0.062" stop-color="#3b9adb"/><stop offset="0.125" stop-color="#3d97d9"/><stop offset="0.188" stop-color="#4896d7"/><stop offset="0.250" stop-color="#6597d5"/><stop offset="0.312" stop-color="#9195d3"/><stop offset="0.375" stop-color="#b696d3"/><stop offset="0.438" stop-color="#d191cd"/><stop offset="0.500" stop-color="#e077bb"/><stop offset="0.562" stop-color="#e464ae"/><stop offset="0.625" stop-color="#e659a2"/><stop offset="0.688" stop-color="#e95094"/><stop offset="0.750" stop-color="#eb4d8a"/><stop offset="0.812" stop-color="#e8436d"/><stop offset="0.875" stop-color="#e3324e"/><stop offset="0.938" stop-color="#e22e4b"/><stop offset="1.000" stop-color="#e12d4b"/></linearGradient><linearGradient id="cg53" gradientUnits="userSpaceOnUse" x1="439.9" y1="0" x2="623.2" y2="0"><stop offset="0.000" stop-color="#3a9adb"/><stop offset="0.062" stop-color="#3a96d9"/><stop offset="0.125" stop-color="#3d92d5"/><stop offset="0.188" stop-color="#478fd2"/><stop offset="0.250" stop-color="#648dcf"/><stop offset="0.312" stop-color="#9089cd"/><stop offset="0.375" stop-color="#b188cc"/><stop offset="0.438" stop-color="#ca82c5"/><stop offset="0.500" stop-color="#dc6cb6"/><stop offset="0.562" stop-color="#e25ead"/><stop offset="0.625" stop-color="#e557a4"/><stop offset="0.688" stop-color="#e85196"/><stop offset="0.750" stop-color="#ea4d8b"/><stop offset="0.812" stop-color="#e8426f"/><stop offset="0.875" stop-color="#e3314e"/><stop offset="0.938" stop-color="#e12e4b"/><stop offset="1.000" stop-color="#e12d4b"/></linearGradient><linearGradient id="cg54" gradientUnits="userSpaceOnUse" x1="439.9" y1="0" x2="623.2" y2="0"><stop offset="0.000" stop-color="#3a96d9"/><stop offset="0.062" stop-color="#3a91d6"/><stop offset="0.125" stop-color="#3d8cd2"/><stop offset="0.188" stop-color="#4787cd"/><stop offset="0.250" stop-color="#6482c9"/><stop offset="0.312" stop-color="#8f7fc7"/><stop offset="0.375" stop-color="#ac7dc6"/><stop offset="0.438" stop-color="#c276bf"/><stop offset="0.500" stop-color="#d965b3"/><stop offset="0.562" stop-color="#e15bac"/><stop offset="0.625" stop-color="#e456a5"/><stop offset="0.688" stop-color="#e75199"/><stop offset="0.750" stop-color="#ea4d8d"/><stop offset="0.812" stop-color="#e84272"/><stop offset="0.875" stop-color="#e2314e"/><stop offset="0.938" stop-color="#e12e4b"/><stop offset="1.000" stop-color="#e12d4b"/></linearGradient><linearGradient id="cg55" gradientUnits="userSpaceOnUse" x1="439.9" y1="0" x2="623.2" y2="0"><stop offset="0.000" stop-color="#3992d6"/><stop offset="0.062" stop-color="#3a8cd2"/><stop offset="0.125" stop-color="#3d86cd"/><stop offset="0.188" stop-color="#487fc7"/><stop offset="0.250" stop-color="#6478c2"/><stop offset="0.312" stop-color="#8d75c1"/><stop offset="0.375" stop-color="#a774c1"/><stop offset="0.438" stop-color="#bb6dbb"/><stop offset="0.500" stop-color="#d460b0"/><stop offset="0.562" stop-color="#df59ab"/><stop offset="0.625" stop-color="#e356a6"/><stop offset="0.688" stop-color="#e6519c"/><stop offset="0.750" stop-color="#e94d8f"/><stop offset="0.812" stop-color="#e84374"/><stop offset="0.875" stop-color="#e2314f"/><stop offset="0.938" stop-color="#e12e4b"/><stop offset="1.000" stop-color="#e12d4b"/></linearGradient><linearGradient id="cg56" gradientUnits="userSpaceOnUse" x1="439.9" y1="0" x2="623.2" y2="0"><stop offset="0.000" stop-color="#398dd3"/><stop offset="0.062" stop-color="#3b87ce"/><stop offset="0.125" stop-color="#3e7fc8"/><stop offset="0.188" stop-color="#4876c1"/><stop offset="0.250" stop-color="#636fbc"/><stop offset="0.312" stop-color="#8a6ebc"/><stop offset="0.375" stop-color="#a36ebd"/><stop offset="0.438" stop-color="#b567b8"/><stop offset="0.500" stop-color="#cf5daf"/><stop offset="0.562" stop-color="#dd57ab"/><stop offset="0.625" stop-color="#e255a7"/><stop offset="0.688" stop-color="#e5529f"/><stop offset="0.750" stop-color="#e94e92"/><stop offset="0.812" stop-color="#e84376"/><stop offset="0.875" stop-color="#e2304f"/><stop offset="0.938" stop-color="#e12e4b"/><stop offset="1.000" stop-color="#e12d4b"/></linearGradient><linearGradient id="cg57" gradientUnits="userSpaceOnUse" x1="439.9" y1="0" x2="623.2" y2="0"><stop offset="0.000" stop-color="#3a88cf"/><stop offset="0.062" stop-color="#3b81ca"/><stop offset="0.125" stop-color="#3f78c3"/><stop offset="0.188" stop-color="#4a6fbc"/><stop offset="0.250" stop-color="#6268b7"/><stop offset="0.312" stop-color="#8667b8"/><stop offset="0.375" stop-color="#9e68b9"/><stop offset="0.438" stop-color="#ae63b5"/><stop offset="0.500" stop-color="#c95bae"/><stop offset="0.562" stop-color="#db57ab"/><stop offset="0.625" stop-color="#e155a8"/><stop offset="0.688" stop-color="#e453a2"/><stop offset="0.750" stop-color="#e84e95"/><stop offset="0.812" stop-color="#e84479"/><stop offset="0.875" stop-color="#e2304f"/><stop offset="0.938" stop-color="#e12e4b"/><stop offset="1.000" stop-color="#e12d4b"/></linearGradient><linearGradient id="cg58" gradientUnits="userSpaceOnUse" x1="439.9" y1="0" x2="623.2" y2="0"><stop offset="0.000" stop-color="#3a83cb"/><stop offset="0.062" stop-color="#3c7bc6"/><stop offset="0.125" stop-color="#4172be"/><stop offset="0.188" stop-color="#4b68b7"/><stop offset="0.250" stop-color="#6162b2"/><stop offset="0.312" stop-color="#8262b4"/><stop offset="0.375" stop-color="#9a64b6"/><stop offset="0.438" stop-color="#a960b3"/><stop offset="0.500" stop-color="#c259ad"/><stop offset="0.562" stop-color="#d856aa"/><stop offset="0.625" stop-color="#e055a9"/><stop offset="0.688" stop-color="#e353a4"/><stop offset="0.750" stop-color="#e74f98"/><stop offset="0.812" stop-color="#e8447c"/><stop offset="0.875" stop-color="#e2304f"/><stop offset="0.938" stop-color="#e12d4b"/><stop offset="1.000" stop-color="#e12d4b"/></linearGradient><linearGradient id="cg59" gradientUnits="userSpaceOnUse" x1="439.9" y1="0" x2="623.2" y2="0"><stop offset="0.000" stop-color="#3b7dc7"/><stop offset="0.062" stop-color="#3d75c1"/><stop offset="0.125" stop-color="#426cba"/><stop offset="0.188" stop-color="#4d63b3"/><stop offset="0.250" stop-color="#605daf"/><stop offset="0.312" stop-color="#7d5eb0"/><stop offset="0.375" stop-color="#9661b3"/><stop offset="0.438" stop-color="#a45eb1"/><stop offset="0.500" stop-color="#bb59ad"/><stop offset="0.562" stop-color="#d456aa"/><stop offset="0.625" stop-color="#df55a9"/><stop offset="0.688" stop-color="#e254a6"/><stop offset="0.750" stop-color="#e6509c"/><stop offset="0.812" stop-color="#e7467f"/><stop offset="0.875" stop-color="#e2304f"/><stop offset="0.938" stop-color="#e12d4b"/><stop offset="1.000" stop-color="#e12d4b"/></linearGradient><linearGradient id="cg60" gradientUnits="userSpaceOnUse" x1="439.9" y1="0" x2="623.2" y2="0"><stop offset="0.000" stop-color="#3c78c3"/><stop offset="0.062" stop-color="#3f6fbd"/><stop offset="0.125" stop-color="#4466b6"/><stop offset="0.188" stop-color="#4e5eaf"/><stop offset="0.250" stop-color="#5f5aac"/><stop offset="0.312" stop-color="#795bad"/><stop offset="0.375" stop-color="#925eb1"/><stop offset="0.438" stop-color="#9f5cb0"/><stop offset="0.500" stop-color="#b358ac"/><stop offset="0.562" stop-color="#cf56aa"/><stop offset="0.625" stop-color="#dd55a9"/><stop offset="0.688" stop-color="#e154a7"/><stop offset="0.750" stop-color="#e5519f"/><stop offset="0.812" stop-color="#e74783"/><stop offset="0.875" stop-color="#e23050"/><stop offset="0.938" stop-color="#e12d4b"/><stop offset="1.000" stop-color="#e12d4b"/></linearGradient><linearGradient id="cg61" gradientUnits="userSpaceOnUse" x1="439.9" y1="0" x2="623.2" y2="0"><stop offset="0.000" stop-color="#3d72bf"/><stop offset="0.062" stop-color="#406ab9"/><stop offset="0.125" stop-color="#4662b2"/><stop offset="0.188" stop-color="#4f5bac"/><stop offset="0.250" stop-color="#5e57a9"/><stop offset="0.312" stop-color="#7558ab"/><stop offset="0.375" stop-color="#8e5baf"/><stop offset="0.438" stop-color="#9c5aae"/><stop offset="0.500" stop-color="#ad57ac"/><stop offset="0.562" stop-color="#c956aa"/><stop offset="0.625" stop-color="#db55aa"/><stop offset="0.688" stop-color="#e054a8"/><stop offset="0.750" stop-color="#e452a2"/><stop offset="0.812" stop-color="#e64988"/><stop offset="0.875" stop-color="#e23050"/><stop offset="0.938" stop-color="#e12d4b"/><stop offset="1.000" stop-color="#e12d4b"/></linearGradient><linearGradient id="cg62" gradientUnits="userSpaceOnUse" x1="439.9" y1="0" x2="623.2" y2="0"><stop offset="0.000" stop-color="#3e6dbb"/><stop offset="0.062" stop-color="#4265b5"/><stop offset="0.125" stop-color="#485eaf"/><stop offset="0.188" stop-color="#5058aa"/><stop offset="0.250" stop-color="#5d54a7"/><stop offset="0.312" stop-color="#7255a8"/><stop offset="0.375" stop-color="#8b59ac"/><stop offset="0.438" stop-color="#9959ad"/><stop offset="0.500" stop-color="#a757ac"/><stop offset="0.562" stop-color="#c256aa"/><stop offset="0.625" stop-color="#d855aa"/><stop offset="0.688" stop-color="#e055a9"/><stop offset="0.750" stop-color="#e353a4"/><stop offset="0.812" stop-color="#e64a8d"/><stop offset="0.875" stop-color="#e23051"/><stop offset="0.938" stop-color="#e12d4b"/><stop offset="1.000" stop-color="#e12d4b"/></linearGradient><linearGradient id="cg63" gradientUnits="userSpaceOnUse" x1="439.9" y1="0" x2="623.2" y2="0"><stop offset="0.000" stop-color="#4069b8"/><stop offset="0.062" stop-color="#4461b2"/><stop offset="0.125" stop-color="#495bac"/><stop offset="0.188" stop-color="#5156a8"/><stop offset="0.250" stop-color="#5d53a5"/><stop offset="0.312" stop-color="#6f53a7"/><stop offset="0.375" stop-color="#8857ab"/><stop offset="0.438" stop-color="#9758ac"/><stop offset="0.500" stop-color="#a256ab"/><stop offset="0.562" stop-color="#ba55aa"/><stop offset="0.625" stop-color="#d455aa"/><stop offset="0.688" stop-color="#de55a9"/><stop offset="0.750" stop-color="#e254a6"/><stop offset="0.812" stop-color="#e54c93"/><stop offset="0.875" stop-color="#e23052"/><stop offset="0.938" stop-color="#e12d4b"/><stop offset="1.000" stop-color="#e12d4b"/></linearGradient><linearGradient id="cg64" gradientUnits="userSpaceOnUse" x1="439.9" y1="0" x2="623.2" y2="0"><stop offset="0.000" stop-color="#4165b4"/><stop offset="0.062" stop-color="#455eaf"/><stop offset="0.125" stop-color="#4b58aa"/><stop offset="0.188" stop-color="#5254a6"/><stop offset="0.250" stop-color="#5c51a4"/><stop offset="0.312" stop-color="#6d52a5"/><stop offset="0.375" stop-color="#8555a9"/><stop offset="0.438" stop-color="#9557ab"/><stop offset="0.500" stop-color="#9e56ab"/><stop offset="0.562" stop-color="#b255aa"/><stop offset="0.625" stop-color="#cf55aa"/><stop offset="0.688" stop-color="#dd55a9"/><stop offset="0.750" stop-color="#e154a7"/><stop offset="0.812" stop-color="#e44e98"/><stop offset="0.875" stop-color="#e23153"/><stop offset="0.938" stop-color="#e12d4b"/><stop offset="1.000" stop-color="#e12d4b"/></linearGradient><linearGradient id="cg65" gradientUnits="userSpaceOnUse" x1="439.9" y1="0" x2="623.2" y2="0"><stop offset="0.000" stop-color="#4361b2"/><stop offset="0.062" stop-color="#475bad"/><stop offset="0.125" stop-color="#4c56a8"/><stop offset="0.188" stop-color="#5352a4"/><stop offset="0.250" stop-color="#5c50a2"/><stop offset="0.312" stop-color="#6b50a3"/><stop offset="0.375" stop-color="#8354a8"/><stop offset="0.438" stop-color="#9356ab"/><stop offset="0.500" stop-color="#9b56ab"/><stop offset="0.562" stop-color="#ab55aa"/><stop offset="0.625" stop-color="#c855aa"/><stop offset="0.688" stop-color="#da55aa"/><stop offset="0.750" stop-color="#e054a8"/><stop offset="0.812" stop-color="#e3509d"/><stop offset="0.875" stop-color="#e23255"/><stop offset="0.938" stop-color="#e12e4b"/><stop offset="1.000" stop-color="#e12d4b"/></linearGradient><linearGradient id="spg" x1="0" y1="0" x2="1" y2="0"><stop offset="0" stop-color="#7098cc"/><stop offset="0.1" stop-color="#8ab8e2"/><stop offset="0.2" stop-color="#a6d6ee"/><stop offset="0.27" stop-color="#48b070"/><stop offset="0.38" stop-color="#2f9e48"/><stop offset="0.45" stop-color="#d8e060"/><stop offset="0.52" stop-color="#f2d890"/><stop offset="0.65" stop-color="#f4c8b8"/><stop offset="0.85" stop-color="#eaa0b0"/><stop offset="1" stop-color="#e0788e"/></linearGradient><filter id="bl2" x="-50%" y="-50%" width="200%" height="200%"><feGaussianBlur stdDeviation="2.2"/></filter><filter id="bl1" x="-50%" y="-50%" width="200%" height="200%"><feGaussianBlur stdDeviation="0.7"/></filter><clipPath id="eclip"><rect x="38" y="555.7" width="281.3" height="106.5"/></clipPath><linearGradient id="lfade" x1="0" y1="0" x2="1" y2="0"><stop offset="0" stop-color="#b0e8f8" stop-opacity="0.95"/><stop offset="0.5" stop-color="#80c8ec" stop-opacity="0.6"/><stop offset="1" stop-color="#5aa0e0" stop-opacity="0"/></linearGradient><filter id="bl3" x="-50%" y="-50%" width="200%" height="200%"><feGaussianBlur stdDeviation="3"/></filter><filter id="bl15" x="-50%" y="-50%" width="200%" height="200%"><feGaussianBlur stdDeviation="1.5"/></filter><clipPath id="dclip"><rect x="39.5" y="663" width="280" height="93.5"/></clipPath><linearGradient id="cbar" x1="0" y1="0" x2="1" y2="0"><stop offset="0.000" stop-color="#1d2e5c"/><stop offset="0.095" stop-color="#1f3c8c"/><stop offset="0.158" stop-color="#2157b8"/><stop offset="0.237" stop-color="#2e8fd6"/><stop offset="0.315" stop-color="#4fc3e8"/><stop offset="0.394" stop-color="#8cd0cd"/><stop offset="0.473" stop-color="#a8d8a0"/><stop offset="0.552" stop-color="#d8e070"/><stop offset="0.631" stop-color="#f5e040"/><stop offset="0.710" stop-color="#f8b030"/><stop offset="0.789" stop-color="#f07030"/><stop offset="0.868" stop-color="#e03a30"/><stop offset="0.946" stop-color="#c81e2a"/><stop offset="1.000" stop-color="#7a1020"/></linearGradient><clipPath id="fclip"><rect x="396.5" y="586" width="281.9" height="168.8"/></clipPath><filter id="fbl" x="-5%" y="-30%" width="110%" height="160%"><feGaussianBlur stdDeviation="1.5 0.7"/></filter><linearGradient id="h1_0" x1="0" y1="0" x2="1" y2="0"><stop offset="0.000" stop-color="#1d2e5c"/><stop offset="0.993" stop-color="#1d2e5c"/></linearGradient><linearGradient id="h1_1" x1="0" y1="0" x2="1" y2="0"><stop offset="0.000" stop-color="#1d2e5c"/><stop offset="0.993" stop-color="#1d2e5c"/></linearGradient><linearGradient id="h1_2" x1="0" y1="0" x2="1" y2="0"><stop offset="0.000" stop-color="#1d2e5c"/><stop offset="0.993" stop-color="#1d2e5c"/></linearGradient><linearGradient id="h1_3" x1="0" y1="0" x2="1" y2="0"><stop offset="0.000" stop-color="#1d2e5c"/><stop offset="0.993" stop-color="#1d2e5c"/></linearGradient><linearGradient id="h1_4" x1="0" y1="0" x2="1" y2="0"><stop offset="0.000" stop-color="#1d2e5c"/><stop offset="0.993" stop-color="#1d2e5c"/></linearGradient><linearGradient id="h1_5" x1="0" y1="0" x2="1" y2="0"><stop offset="0.000" stop-color="#1d2e5c"/><stop offset="0.064" stop-color="#1d2e5c"/><stop offset="0.071" stop-color="#2773c7"/><stop offset="0.078" stop-color="#7dcdd4"/><stop offset="0.085" stop-color="#b5da93"/><stop offset="0.092" stop-color="#d9e06f"/><stop offset="0.099" stop-color="#ece04f"/><stop offset="0.106" stop-color="#f5db3e"/><stop offset="0.114" stop-color="#f7c738"/><stop offset="0.234" stop-color="#f49030"/><stop offset="0.263" stop-color="#f59630"/><stop offset="0.319" stop-color="#f7bb34"/><stop offset="0.348" stop-color="#f5df40"/><stop offset="0.369" stop-color="#d7e071"/><stop offset="0.390" stop-color="#84ced1"/><stop offset="0.397" stop-color="#61c7e0"/><stop offset="0.404" stop-color="#46b4e3"/><stop offset="0.419" stop-color="#297bcb"/><stop offset="0.433" stop-color="#204ea9"/><stop offset="0.447" stop-color="#1f3981"/><stop offset="0.539" stop-color="#1d2e5c"/><stop offset="0.993" stop-color="#1d2e5c"/></linearGradient><linearGradient id="h1_6" x1="0" y1="0" x2="1" y2="0"><stop offset="0.000" stop-color="#1d2e5c"/><stop offset="0.043" stop-color="#1d2e5c"/><stop offset="0.050" stop-color="#2048a0"/><stop offset="0.057" stop-color="#369bda"/><stop offset="0.064" stop-color="#78ccd6"/><stop offset="0.071" stop-color="#aed99a"/><stop offset="0.078" stop-color="#ebe050"/><stop offset="0.085" stop-color="#f7bd34"/><stop offset="0.099" stop-color="#ee6830"/><stop offset="0.114" stop-color="#e03a30"/><stop offset="0.213" stop-color="#c01d29"/><stop offset="0.248" stop-color="#af1927"/><stop offset="0.277" stop-color="#ca202a"/><stop offset="0.333" stop-color="#de382f"/><stop offset="0.348" stop-color="#e44930"/><stop offset="0.369" stop-color="#f28430"/><stop offset="0.383" stop-color="#f6d13b"/><stop offset="0.390" stop-color="#e9e053"/><stop offset="0.404" stop-color="#bedc8a"/><stop offset="0.419" stop-color="#97d3bb"/><stop offset="0.426" stop-color="#89cfce"/><stop offset="0.440" stop-color="#51c4e7"/><stop offset="0.454" stop-color="#43b0e1"/><stop offset="0.568" stop-color="#256ac2"/><stop offset="0.639" stop-color="#1f4397"/><stop offset="0.738" stop-color="#1d2e5c"/><stop offset="0.993" stop-color="#1d2e5c"/></linearGradient><linearGradient id="h1_7" x1="0" y1="0" x2="1" y2="0"><stop offset="0.000" stop-color="#1d2e5c"/><stop offset="0.035" stop-color="#1d2e5c"/><stop offset="0.043" stop-color="#1f4296"/><stop offset="0.050" stop-color="#2d8cd4"/><stop offset="0.057" stop-color="#61c7e0"/><stop offset="0.064" stop-color="#9ad4b6"/><stop offset="0.071" stop-color="#cede7a"/><stop offset="0.078" stop-color="#f6d73d"/><stop offset="0.085" stop-color="#f7a530"/><stop offset="0.092" stop-color="#f07430"/><stop offset="0.099" stop-color="#e65030"/><stop offset="0.114" stop-color="#d52d2d"/><stop offset="0.156" stop-color="#c91f2a"/><stop offset="0.220" stop-color="#7a1020"/><stop offset="0.263" stop-color="#801121"/><stop offset="0.326" stop-color="#ce252b"/><stop offset="0.355" stop-color="#e24130"/><stop offset="0.369" stop-color="#ed6630"/><stop offset="0.383" stop-color="#f7b933"/><stop offset="0.390" stop-color="#f5db3e"/><stop offset="0.404" stop-color="#d6e072"/><stop offset="0.419" stop-color="#a6d7a4"/><stop offset="0.433" stop-color="#8cd0cd"/><stop offset="0.447" stop-color="#5dc6e2"/><stop offset="0.497" stop-color="#45b3e2"/><stop offset="0.610" stop-color="#2569c2"/><stop offset="0.674" stop-color="#204398"/><stop offset="0.773" stop-color="#1d2e5c"/><stop offset="0.993" stop-color="#1d2e5c"/></linearGradient><linearGradient id="h1_8" x1="0" y1="0" x2="1" y2="0"><stop offset="0.000" stop-color="#1d2e5c"/><stop offset="0.035" stop-color="#1d2f5e"/><stop offset="0.043" stop-color="#204da8"/><stop offset="0.050" stop-color="#3499d9"/><stop offset="0.057" stop-color="#6bc9db"/><stop offset="0.064" stop-color="#9ed5b0"/><stop offset="0.071" stop-color="#d3df75"/><stop offset="0.078" stop-color="#f6d33c"/><stop offset="0.092" stop-color="#f07030"/><stop offset="0.099" stop-color="#e54c30"/><stop offset="0.114" stop-color="#d42c2d"/><stop offset="0.156" stop-color="#c31d29"/><stop offset="0.206" stop-color="#7b1020"/><stop offset="0.270" stop-color="#7f1121"/><stop offset="0.312" stop-color="#b61b28"/><stop offset="0.319" stop-color="#c81e2a"/><stop offset="0.355" stop-color="#e13e30"/><stop offset="0.369" stop-color="#ec6230"/><stop offset="0.383" stop-color="#f8b632"/><stop offset="0.390" stop-color="#f6d83d"/><stop offset="0.404" stop-color="#d9e06e"/><stop offset="0.419" stop-color="#a7d8a1"/><stop offset="0.433" stop-color="#8ed1ca"/><stop offset="0.447" stop-color="#61c7e0"/><stop offset="0.497" stop-color="#47b7e4"/><stop offset="0.610" stop-color="#266dc4"/><stop offset="0.667" stop-color="#2049a2"/><stop offset="0.752" stop-color="#1d3168"/><stop offset="0.816" stop-color="#1d2e5c"/><stop offset="0.993" stop-color="#1d2e5c"/></linearGradient><linearGradient id="h1_9" x1="0" y1="0" x2="1" y2="0"><stop offset="0.000" stop-color="#1d2e5c"/><stop offset="0.035" stop-color="#1d2f60"/><stop offset="0.043" stop-color="#204ea9"/><stop offset="0.050" stop-color="#3499d9"/><stop offset="0.057" stop-color="#6bc9dc"/><stop offset="0.064" stop-color="#9ed5b1"/><stop offset="0.071" stop-color="#d2df76"/><stop offset="0.078" stop-color="#f6d43c"/><stop offset="0.085" stop-color="#f6a330"/><stop offset="0.092" stop-color="#f07230"/><stop offset="0.099" stop-color="#e64e30"/><stop offset="0.114" stop-color="#d42c2d"/><stop offset="0.156" stop-color="#c61e2a"/><stop offset="0.206" stop-color="#7c1020"/><stop offset="0.263" stop-color="#7a1020"/><stop offset="0.326" stop-color="#cd242b"/><stop offset="0.355" stop-color="#e13f30"/><stop offset="0.369" stop-color="#ec6430"/><stop offset="0.383" stop-color="#f8b732"/><stop offset="0.390" stop-color="#f5d93e"/><stop offset="0.404" stop-color="#d8e070"/><stop offset="0.419" stop-color="#a7d8a2"/><stop offset="0.433" stop-color="#8dd0cb"/><stop offset="0.447" stop-color="#5fc6e1"/><stop offset="0.497" stop-color="#46b5e3"/><stop offset="0.603" stop-color="#2771c6"/><stop offset="0.660" stop-color="#204ca6"/><stop offset="0.738" stop-color="#1e346f"/><stop offset="0.795" stop-color="#1d2e5c"/><stop offset="0.993" stop-color="#1d2e5c"/></linearGradient><linearGradient id="h1_10" x1="0" y1="0" x2="1" y2="0"><stop offset="0.000" stop-color="#1d2e5c"/><stop offset="0.035" stop-color="#1d2f5e"/><stop offset="0.043" stop-color="#204ca7"/><stop offset="0.050" stop-color="#3396d9"/><stop offset="0.057" stop-color="#68c8dd"/><stop offset="0.064" stop-color="#9cd5b3"/><stop offset="0.071" stop-color="#d0df78"/><stop offset="0.078" stop-color="#f6d73d"/><stop offset="0.085" stop-color="#f7a730"/><stop offset="0.092" stop-color="#f17530"/><stop offset="0.099" stop-color="#e75130"/><stop offset="0.114" stop-color="#d62e2d"/><stop offset="0.163" stop-color="#c11d29"/><stop offset="0.220" stop-color="#7a1020"/><stop offset="0.263" stop-color="#7f1121"/><stop offset="0.319" stop-color="#ca212b"/><stop offset="0.348" stop-color="#db352f"/><stop offset="0.369" stop-color="#ed6730"/><stop offset="0.383" stop-color="#f7ba33"/><stop offset="0.390" stop-color="#f5dc3f"/><stop offset="0.404" stop-color="#d5e073"/><stop offset="0.419" stop-color="#a5d7a5"/><stop offset="0.433" stop-color="#8bd0cd"/><stop offset="0.447" stop-color="#5cc6e2"/><stop offset="0.504" stop-color="#42aee1"/><stop offset="0.610" stop-color="#2568c1"/><stop offset="0.674" stop-color="#1f4397"/><stop offset="0.773" stop-color="#1d2e5c"/><stop offset="0.993" stop-color="#1d2e5c"/></linearGradient><linearGradient id="h1_11" x1="0" y1="0" x2="1" y2="0"><stop offset="0.000" stop-color="#1d2e5c"/><stop offset="0.035" stop-color="#1d2e5c"/><stop offset="0.043" stop-color="#204aa3"/><stop offset="0.050" stop-color="#3093d7"/><stop offset="0.057" stop-color="#63c7df"/><stop offset="0.064" stop-color="#9ad4b6"/><stop offset="0.071" stop-color="#ccde7c"/><stop offset="0.078" stop-color="#f5db3e"/><stop offset="0.085" stop-color="#f7ab30"/><stop offset="0.099" stop-color="#e85530"/><stop offset="0.114" stop-color="#d8302e"/><stop offset="0.170" stop-color="#c11d29"/><stop offset="0.227" stop-color="#831221"/><stop offset="0.248" stop-color="#7d1120"/><stop offset="0.312" stop-color="#c81f2a"/><stop offset="0.348" stop-color="#dd372f"/><stop offset="0.369" stop-color="#ef6b30"/><stop offset="0.383" stop-color="#f7bd34"/><stop offset="0.390" stop-color="#f5e040"/><stop offset="0.404" stop-color="#d2df76"/><stop offset="0.419" stop-color="#a3d7a8"/><stop offset="0.433" stop-color="#87cfcf"/><stop offset="0.447" stop-color="#57c5e4"/><stop offset="0.575" stop-color="#2a7ecd"/><stop offset="0.653" stop-color="#204ba5"/><stop offset="0.724" stop-color="#1e3472"/><stop offset="0.780" stop-color="#1d2e5c"/><stop offset="0.993" stop-color="#1d2e5c"/></linearGradient><linearGradient id="h1_12" x1="0" y1="0" x2="1" y2="0"><stop offset="0.000" stop-color="#1d2e5c"/><stop offset="0.035" stop-color="#1d2e5c"/><stop offset="0.043" stop-color="#20479e"/><stop offset="0.050" stop-color="#2e8ed5"/><stop offset="0.057" stop-color="#5ec6e1"/><stop offset="0.064" stop-color="#97d3bb"/><stop offset="0.078" stop-color="#f5df40"/><stop offset="0.085" stop-color="#f8b130"/><stop offset="0.099" stop-color="#e95a30"/><stop offset="0.114" stop-color="#da332e"/><stop offset="0.184" stop-color="#c01d29"/><stop offset="0.234" stop-color="#951523"/><stop offset="0.255" stop-color="#971524"/><stop offset="0.298" stop-color="#c91f2a"/><stop offset="0.348" stop-color="#e03a30"/><stop offset="0.369" stop-color="#f07030"/><stop offset="0.383" stop-color="#f7c236"/><stop offset="0.390" stop-color="#f3e044"/><stop offset="0.419" stop-color="#a0d6ac"/><stop offset="0.433" stop-color="#81ced2"/><stop offset="0.447" stop-color="#52c4e7"/><stop offset="0.575" stop-color="#2978ca"/><stop offset="0.646" stop-color="#204ba5"/><stop offset="0.717" stop-color="#1e3472"/><stop offset="0.766" stop-color="#1d2e5c"/><stop offset="0.993" stop-color="#1d2e5c"/></linearGradient><linearGradient id="h1_13" x1="0" y1="0" x2="1" y2="0"><stop offset="0.000" stop-color="#1d2e5c"/><stop offset="0.035" stop-color="#1d2e5c"/><stop offset="0.043" stop-color="#204397"/><stop offset="0.050" stop-color="#2c87d2"/><stop offset="0.057" stop-color="#57c5e4"/><stop offset="0.064" stop-color="#94d2c0"/><stop offset="0.078" stop-color="#f2e044"/><stop offset="0.085" stop-color="#f8b632"/><stop offset="0.099" stop-color="#eb6030"/><stop offset="0.114" stop-color="#dc362f"/><stop offset="0.206" stop-color="#bf1c29"/><stop offset="0.248" stop-color="#a81826"/><stop offset="0.284" stop-color="#c9202a"/><stop offset="0.341" stop-color="#df3930"/><stop offset="0.355" stop-color="#e75330"/><stop offset="0.369" stop-color="#f17830"/><stop offset="0.383" stop-color="#f7c738"/><stop offset="0.390" stop-color="#efe049"/><stop offset="0.419" stop-color="#9dd5b1"/><stop offset="0.433" stop-color="#7accd5"/><stop offset="0.447" stop-color="#4dc0e7"/><stop offset="0.575" stop-color="#2772c7"/><stop offset="0.646" stop-color="#20489f"/><stop offset="0.745" stop-color="#1d2e5c"/><stop offset="0.993" stop-color="#1d2e5c"/></linearGradient><linearGradient id="h1_14" x1="0" y1="0" x2="1" y2="0"><stop offset="0.000" stop-color="#1d2e5c"/><stop offset="0.035" stop-color="#1d2e5c"/><stop offset="0.043" stop-color="#1f3e8f"/><stop offset="0.050" stop-color="#2a7fce"/><stop offset="0.057" stop-color="#4fc3e8"/><stop offset="0.064" stop-color="#91d1c6"/><stop offset="0.078" stop-color="#efe04a"/><stop offset="0.085" stop-color="#f7bc34"/><stop offset="0.099" stop-color="#ed6630"/><stop offset="0.114" stop-color="#df3930"/><stop offset="0.248" stop-color="#bf1c29"/><stop offset="0.333" stop-color="#e03b30"/><stop offset="0.355" stop-color="#ea5c30"/><stop offset="0.369" stop-color="#f28230"/><stop offset="0.383" stop-color="#f6ce3a"/><stop offset="0.390" stop-color="#ebe050"/><stop offset="0.404" stop-color="#c2dc86"/><stop offset="0.411" stop-color="#a7d8a1"/><stop offset="0.426" stop-color="#8dd0cb"/><stop offset="0.440" stop-color="#57c5e5"/><stop offset="0.454" stop-color="#46b5e3"/><stop offset="0.568" stop-color="#276fc5"/><stop offset="0.639" stop-color="#20469c"/><stop offset="0.745" stop-color="#1d2e5c"/><stop offset="0.993" stop-color="#1d2e5c"/></linearGradient><linearGradient id="h1_15" x1="0" y1="0" x2="1" y2="0"><stop offset="0.000" stop-color="#1d2e5c"/><stop offset="0.035" stop-color="#1d2e5c"/><stop offset="0.043" stop-color="#1f3b88"/><stop offset="0.050" stop-color="#2876c9"/><stop offset="0.057" stop-color="#49bae5"/><stop offset="0.064" stop-color="#8cd0cd"/><stop offset="0.071" stop-color="#b5da93"/><stop offset="0.078" stop-color="#eae052"/><stop offset="0.085" stop-color="#f7c336"/><stop offset="0.099" stop-color="#f06e30"/><stop offset="0.114" stop-color="#e24030"/><stop offset="0.220" stop-color="#cd242b"/><stop offset="0.277" stop-color="#d32b2d"/><stop offset="0.326" stop-color="#e34530"/><stop offset="0.348" stop-color="#e95930"/><stop offset="0.369" stop-color="#f48e30"/><stop offset="0.383" stop-color="#f6d63d"/><stop offset="0.397" stop-color="#d6e072"/><stop offset="0.411" stop-color="#a3d7a8"/><stop offset="0.426" stop-color="#85ced0"/><stop offset="0.440" stop-color="#4ec2e7"/><stop offset="0.447" stop-color="#43b1e2"/><stop offset="0.568" stop-color="#2566c0"/><stop offset="0.667" stop-color="#1e3880"/><stop offset="0.731" stop-color="#1d2e5c"/><stop offset="0.993" stop-color="#1d2e5c"/></linearGradient><linearGradient id="h1_16" x1="0" y1="0" x2="1" y2="0"><stop offset="0.000" stop-color="#1d2e5c"/><stop offset="0.035" stop-color="#1d2e5c"/><stop offset="0.043" stop-color="#1e387f"/><stop offset="0.050" stop-color="#266bc3"/><stop offset="0.057" stop-color="#43b0e1"/><stop offset="0.064" stop-color="#81ced2"/><stop offset="0.071" stop-color="#acd99c"/><stop offset="0.078" stop-color="#e5e05a"/><stop offset="0.085" stop-color="#f6cb39"/><stop offset="0.099" stop-color="#f17930"/><stop offset="0.114" stop-color="#e54a30"/><stop offset="0.184" stop-color="#d62f2e"/><stop offset="0.263" stop-color="#d42c2d"/><stop offset="0.348" stop-color="#ee6a30"/><stop offset="0.369" stop-color="#f69c30"/><stop offset="0.383" stop-color="#f5df40"/><stop offset="0.411" stop-color="#9ed5b0"/><stop offset="0.426" stop-color="#7accd5"/><stop offset="0.440" stop-color="#48b8e4"/><stop offset="0.447" stop-color="#3da7de"/><stop offset="0.575" stop-color="#2157b8"/><stop offset="0.667" stop-color="#1e3677"/><stop offset="0.717" stop-color="#1d2e5c"/><stop offset="0.993" stop-color="#1d2e5c"/></linearGradient><linearGradient id="h1_17" x1="0" y1="0" x2="1" y2="0"><stop offset="0.000" stop-color="#1d2e5c"/><stop offset="0.035" stop-color="#1d2e5c"/><stop offset="0.043" stop-color="#1e3574"/><stop offset="0.050" stop-color="#225cbb"/><stop offset="0.057" stop-color="#3ba3dd"/><stop offset="0.064" stop-color="#72cbd8"/><stop offset="0.071" stop-color="#a4d7a7"/><stop offset="0.078" stop-color="#dfe065"/><stop offset="0.085" stop-color="#f6d63d"/><stop offset="0.099" stop-color="#f38730"/><stop offset="0.114" stop-color="#e85630"/><stop offset="0.177" stop-color="#dd362f"/><stop offset="0.263" stop-color="#db342f"/><stop offset="0.341" stop-color="#f17b30"/><stop offset="0.355" stop-color="#f48e30"/><stop offset="0.369" stop-color="#f8ae30"/><stop offset="0.383" stop-color="#eee04b"/><stop offset="0.411" stop-color="#97d3bb"/><stop offset="0.426" stop-color="#6cc9db"/><stop offset="0.433" stop-color="#50c3e8"/><stop offset="0.447" stop-color="#369bda"/><stop offset="0.568" stop-color="#2151af"/><stop offset="0.653" stop-color="#1e3576"/><stop offset="0.702" stop-color="#1d2e5c"/><stop offset="0.993" stop-color="#1d2e5c"/></linearGradient><linearGradient id="h1_18" x1="0" y1="0" x2="1" y2="0"><stop offset="0.000" stop-color="#1d2e5c"/><stop offset="0.035" stop-color="#1d2e5c"/><stop offset="0.043" stop-color="#1d3064"/><stop offset="0.050" stop-color="#204da8"/><stop offset="0.057" stop-color="#2f90d7"/><stop offset="0.064" stop-color="#5ec6e1"/><stop offset="0.071" stop-color="#9bd4b5"/><stop offset="0.078" stop-color="#d5df73"/><stop offset="0.085" stop-color="#f3e044"/><stop offset="0.099" stop-color="#f59a30"/><stop offset="0.114" stop-color="#ed6530"/><stop offset="0.192" stop-color="#e13f30"/><stop offset="0.255" stop-color="#e03a30"/><stop offset="0.326" stop-color="#f48d30"/><stop offset="0.348" stop-color="#f59730"/><stop offset="0.369" stop-color="#f7be35"/><stop offset="0.376" stop-color="#f6d83d"/><stop offset="0.390" stop-color="#cdde7b"/><stop offset="0.411" stop-color="#8fd1c9"/><stop offset="0.426" stop-color="#59c5e4"/><stop offset="0.447" stop-color="#2d8bd4"/><stop offset="0.546" stop-color="#204fab"/><stop offset="0.631" stop-color="#1e3573"/><stop offset="0.674" stop-color="#1d2e5c"/><stop offset="0.993" stop-color="#1d2e5c"/></linearGradient><linearGradient id="h1_19" x1="0" y1="0" x2="1" y2="0"><stop offset="0.000" stop-color="#1d2e5c"/><stop offset="0.043" stop-color="#1d2e5c"/><stop offset="0.050" stop-color="#1f3b88"/><stop offset="0.057" stop-color="#2771c6"/><stop offset="0.064" stop-color="#46b4e3"/><stop offset="0.071" stop-color="#8dd0cb"/><stop offset="0.078" stop-color="#bfdc89"/><stop offset="0.085" stop-color="#e6e058"/><stop offset="0.092" stop-color="#f6d43c"/><stop offset="0.106" stop-color="#f59a30"/><stop offset="0.114" stop-color="#f27f30"/><stop offset="0.184" stop-color="#e95930"/><stop offset="0.255" stop-color="#e75230"/><stop offset="0.326" stop-color="#f7a830"/><stop offset="0.355" stop-color="#f7bd34"/><stop offset="0.369" stop-color="#f6d43c"/><stop offset="0.376" stop-color="#ece04e"/><stop offset="0.397" stop-color="#a1d6ac"/><stop offset="0.404" stop-color="#91d1c5"/><stop offset="0.419" stop-color="#57c5e5"/><stop offset="0.440" stop-color="#2b81cf"/><stop offset="0.447" stop-color="#276fc5"/><stop offset="0.518" stop-color="#204aa3"/><stop offset="0.624" stop-color="#1d2f5e"/><stop offset="0.993" stop-color="#1d2e5c"/></linearGradient><linearGradient id="h1_20" x1="0" y1="0" x2="1" y2="0"><stop offset="0.000" stop-color="#1d2e5c"/><stop offset="0.050" stop-color="#1d2e5c"/><stop offset="0.057" stop-color="#204398"/><stop offset="0.064" stop-color="#2b82cf"/><stop offset="0.071" stop-color="#5ac5e3"/><stop offset="0.078" stop-color="#9fd5ae"/><stop offset="0.085" stop-color="#ccde7c"/><stop offset="0.092" stop-color="#e7e058"/><stop offset="0.099" stop-color="#f5d83d"/><stop offset="0.114" stop-color="#f8b030"/><stop offset="0.184" stop-color="#f38630"/><stop offset="0.255" stop-color="#f27e30"/><stop offset="0.305" stop-color="#f8b833"/><stop offset="0.355" stop-color="#f4e041"/><stop offset="0.369" stop-color="#e5e05b"/><stop offset="0.376" stop-color="#d3df75"/><stop offset="0.383" stop-color="#afd999"/><stop offset="0.397" stop-color="#86cfd0"/><stop offset="0.411" stop-color="#47b7e4"/><stop offset="0.433" stop-color="#266bc3"/><stop offset="0.440" stop-color="#2154b2"/><stop offset="0.447" stop-color="#2048a0"/><stop offset="0.568" stop-color="#1d2e5c"/><stop offset="0.993" stop-color="#1d2e5c"/></linearGradient><linearGradient id="h1_21" x1="0" y1="0" x2="1" y2="0"><stop offset="0.000" stop-color="#1d2e5c"/><stop offset="0.057" stop-color="#1d2e5c"/><stop offset="0.064" stop-color="#1e387f"/><stop offset="0.071" stop-color="#2771c6"/><stop offset="0.078" stop-color="#57c5e4"/><stop offset="0.085" stop-color="#94d2bf"/><stop offset="0.099" stop-color="#cade7e"/><stop offset="0.114" stop-color="#e8e056"/><stop offset="0.184" stop-color="#f5d93e"/><stop offset="0.255" stop-color="#f6d33c"/><stop offset="0.291" stop-color="#ece04e"/><stop offset="0.348" stop-color="#cbde7d"/><stop offset="0.369" stop-color="#a4d7a7"/><stop offset="0.376" stop-color="#94d2c1"/><stop offset="0.383" stop-color="#6fcada"/><stop offset="0.390" stop-color="#49b9e5"/><stop offset="0.411" stop-color="#225cbb"/><stop offset="0.426" stop-color="#1f3b89"/><stop offset="0.440" stop-color="#1d3064"/><stop offset="0.461" stop-color="#1d2e5c"/><stop offset="0.993" stop-color="#1d2e5c"/></linearGradient><linearGradient id="h1_22" x1="0" y1="0" x2="1" y2="0"><stop offset="0.000" stop-color="#1d2e5c"/><stop offset="0.071" stop-color="#1d2e5c"/><stop offset="0.078" stop-color="#1e387f"/><stop offset="0.085" stop-color="#2567c0"/><stop offset="0.099" stop-color="#44b2e2"/><stop offset="0.106" stop-color="#53c4e6"/><stop offset="0.114" stop-color="#6cc9db"/><stop offset="0.184" stop-color="#8ad0ce"/><stop offset="0.263" stop-color="#88cfcf"/><stop offset="0.326" stop-color="#4cbfe6"/><stop offset="0.348" stop-color="#3ca5de"/><stop offset="0.355" stop-color="#1d2e5c"/><stop offset="0.993" stop-color="#1d2e5c"/></linearGradient><linearGradient id="h1_23" x1="0" y1="0" x2="1" y2="0"><stop offset="0.000" stop-color="#1d2e5c"/><stop offset="0.993" stop-color="#1d2e5c"/></linearGradient><linearGradient id="h1_24" x1="0" y1="0" x2="1" y2="0"><stop offset="0.000" stop-color="#1d2e5c"/><stop offset="0.993" stop-color="#1d2e5c"/></linearGradient><linearGradient id="h1_25" x1="0" y1="0" x2="1" y2="0"><stop offset="0.000" stop-color="#1d2e5c"/><stop offset="0.993" stop-color="#1d2e5c"/></linearGradient><linearGradient id="h1_26" x1="0" y1="0" x2="1" y2="0"><stop offset="0.000" stop-color="#1d2e5c"/><stop offset="0.993" stop-color="#1d2e5c"/></linearGradient><linearGradient id="h2_0" x1="0" y1="0" x2="1" y2="0"><stop offset="0.000" stop-color="#1d2e5c"/><stop offset="0.993" stop-color="#1d2e5c"/></linearGradient><linearGradient id="h2_1" x1="0" y1="0" x2="1" y2="0"><stop offset="0.000" stop-color="#1d2e5c"/><stop offset="0.993" stop-color="#1d2e5c"/></linearGradient><linearGradient id="h2_2" x1="0" y1="0" x2="1" y2="0"><stop offset="0.000" stop-color="#1d2e5c"/><stop offset="0.993" stop-color="#1d2e5c"/></linearGradient><linearGradient id="h2_3" x1="0" y1="0" x2="1" y2="0"><stop offset="0.000" stop-color="#1d2e5c"/><stop offset="0.993" stop-color="#1d2e5c"/></linearGradient><linearGradient id="h2_4" x1="0" y1="0" x2="1" y2="0"><stop offset="0.000" stop-color="#1d2e5c"/><stop offset="0.993" stop-color="#1d2e5c"/></linearGradient><linearGradient id="h2_5" x1="0" y1="0" x2="1" y2="0"><stop offset="0.000" stop-color="#1d2e5c"/><stop offset="0.043" stop-color="#1d2e5c"/><stop offset="0.050" stop-color="#1f3980"/><stop offset="0.057" stop-color="#4abbe5"/><stop offset="0.064" stop-color="#cdde7b"/><stop offset="0.071" stop-color="#f6d03b"/><stop offset="0.078" stop-color="#f69d30"/><stop offset="0.092" stop-color="#f06f30"/><stop offset="0.192" stop-color="#e75030"/><stop offset="0.291" stop-color="#ef6d30"/><stop offset="0.312" stop-color="#f17730"/><stop offset="0.348" stop-color="#f7be35"/><stop offset="0.362" stop-color="#f5db3e"/><stop offset="0.376" stop-color="#dce06a"/><stop offset="0.404" stop-color="#88cfcf"/><stop offset="0.419" stop-color="#4bbce6"/><stop offset="0.440" stop-color="#2772c7"/><stop offset="0.447" stop-color="#2360bd"/><stop offset="0.553" stop-color="#1e3880"/><stop offset="0.631" stop-color="#1d2e5c"/><stop offset="0.993" stop-color="#1d2e5c"/></linearGradient><linearGradient id="h2_6" x1="0" y1="0" x2="1" y2="0"><stop offset="0.000" stop-color="#1d2e5c"/><stop offset="0.035" stop-color="#1d2e5c"/><stop offset="0.043" stop-color="#1e3679"/><stop offset="0.050" stop-color="#3da6de"/><stop offset="0.057" stop-color="#a8d8a0"/><stop offset="0.064" stop-color="#f7bc34"/><stop offset="0.071" stop-color="#ee6830"/><stop offset="0.078" stop-color="#e13c30"/><stop offset="0.099" stop-color="#d0272c"/><stop offset="0.149" stop-color="#c11d29"/><stop offset="0.177" stop-color="#a71826"/><stop offset="0.220" stop-color="#b01a27"/><stop offset="0.284" stop-color="#cd242b"/><stop offset="0.326" stop-color="#db342f"/><stop offset="0.341" stop-color="#e44930"/><stop offset="0.362" stop-color="#f17a30"/><stop offset="0.383" stop-color="#f6cf3a"/><stop offset="0.390" stop-color="#f0e048"/><stop offset="0.419" stop-color="#9ed5b0"/><stop offset="0.433" stop-color="#7bccd4"/><stop offset="0.447" stop-color="#4dc0e7"/><stop offset="0.568" stop-color="#2877c9"/><stop offset="0.639" stop-color="#204ba4"/><stop offset="0.724" stop-color="#1e3269"/><stop offset="0.759" stop-color="#1d2e5c"/><stop offset="0.993" stop-color="#1d2e5c"/></linearGradient><linearGradient id="h2_7" x1="0" y1="0" x2="1" y2="0"><stop offset="0.000" stop-color="#1d2e5c"/><stop offset="0.035" stop-color="#1d2e5c"/><stop offset="0.043" stop-color="#1f3f91"/><stop offset="0.050" stop-color="#4cbee6"/><stop offset="0.057" stop-color="#badb8e"/><stop offset="0.064" stop-color="#f7aa30"/><stop offset="0.071" stop-color="#e95730"/><stop offset="0.078" stop-color="#da332e"/><stop offset="0.099" stop-color="#c9202a"/><stop offset="0.135" stop-color="#af1927"/><stop offset="0.177" stop-color="#7f1121"/><stop offset="0.213" stop-color="#851221"/><stop offset="0.305" stop-color="#c9202a"/><stop offset="0.341" stop-color="#df3930"/><stop offset="0.362" stop-color="#ee6830"/><stop offset="0.383" stop-color="#f7c035"/><stop offset="0.390" stop-color="#f5da3e"/><stop offset="0.404" stop-color="#d8e070"/><stop offset="0.419" stop-color="#a6d8a2"/><stop offset="0.433" stop-color="#8dd0cb"/><stop offset="0.447" stop-color="#5fc6e1"/><stop offset="0.504" stop-color="#43b1e2"/><stop offset="0.610" stop-color="#266bc3"/><stop offset="0.667" stop-color="#2048a0"/><stop offset="0.766" stop-color="#1d2f60"/><stop offset="0.993" stop-color="#1d2e5c"/></linearGradient><linearGradient id="h2_8" x1="0" y1="0" x2="1" y2="0"><stop offset="0.000" stop-color="#1d2e5c"/><stop offset="0.035" stop-color="#1d2e5c"/><stop offset="0.043" stop-color="#1f4195"/><stop offset="0.050" stop-color="#4ec1e7"/><stop offset="0.057" stop-color="#bcdb8c"/><stop offset="0.064" stop-color="#f7a830"/><stop offset="0.071" stop-color="#e85630"/><stop offset="0.078" stop-color="#d9322e"/><stop offset="0.099" stop-color="#c91f2a"/><stop offset="0.142" stop-color="#a21725"/><stop offset="0.177" stop-color="#7a1020"/><stop offset="0.220" stop-color="#851221"/><stop offset="0.305" stop-color="#c91f2a"/><stop offset="0.341" stop-color="#df3930"/><stop offset="0.362" stop-color="#ed6730"/><stop offset="0.383" stop-color="#f7bf35"/><stop offset="0.390" stop-color="#f5d83d"/><stop offset="0.404" stop-color="#d9e06f"/><stop offset="0.419" stop-color="#a7d8a1"/><stop offset="0.433" stop-color="#8ed0ca"/><stop offset="0.447" stop-color="#60c7e0"/><stop offset="0.497" stop-color="#47b6e4"/><stop offset="0.610" stop-color="#266cc3"/><stop offset="0.667" stop-color="#2049a1"/><stop offset="0.752" stop-color="#1d3167"/><stop offset="0.816" stop-color="#1d2e5c"/><stop offset="0.993" stop-color="#1d2e5c"/></linearGradient><linearGradient id="h2_9" x1="0" y1="0" x2="1" y2="0"><stop offset="0.000" stop-color="#1d2e5c"/><stop offset="0.035" stop-color="#1d2e5c"/><stop offset="0.043" stop-color="#1f4093"/><stop offset="0.050" stop-color="#4cbfe7"/><stop offset="0.057" stop-color="#badb8e"/><stop offset="0.064" stop-color="#f7ab30"/><stop offset="0.071" stop-color="#e95830"/><stop offset="0.078" stop-color="#da342f"/><stop offset="0.099" stop-color="#ca212b"/><stop offset="0.128" stop-color="#b91b28"/><stop offset="0.177" stop-color="#811121"/><stop offset="0.213" stop-color="#861222"/><stop offset="0.298" stop-color="#c91f2a"/><stop offset="0.333" stop-color="#d9322e"/><stop offset="0.362" stop-color="#ee6930"/><stop offset="0.383" stop-color="#f7c136"/><stop offset="0.390" stop-color="#f5db3e"/><stop offset="0.404" stop-color="#d7e071"/><stop offset="0.419" stop-color="#a6d7a3"/><stop offset="0.433" stop-color="#8cd0cc"/><stop offset="0.447" stop-color="#5dc6e2"/><stop offset="0.497" stop-color="#45b4e3"/><stop offset="0.610" stop-color="#256ac2"/><stop offset="0.667" stop-color="#20489f"/><stop offset="0.766" stop-color="#1d2f60"/><stop offset="0.993" stop-color="#1d2e5c"/></linearGradient><linearGradient id="h2_10" x1="0" y1="0" x2="1" y2="0"><stop offset="0.000" stop-color="#1d2e5c"/><stop offset="0.035" stop-color="#1d2e5c"/><stop offset="0.043" stop-color="#1f3e8f"/><stop offset="0.050" stop-color="#4abbe5"/><stop offset="0.057" stop-color="#b6da92"/><stop offset="0.064" stop-color="#f8af30"/><stop offset="0.071" stop-color="#ea5c30"/><stop offset="0.078" stop-color="#dc362f"/><stop offset="0.099" stop-color="#cc232b"/><stop offset="0.128" stop-color="#c31d29"/><stop offset="0.177" stop-color="#8f1423"/><stop offset="0.220" stop-color="#981524"/><stop offset="0.291" stop-color="#c9202a"/><stop offset="0.326" stop-color="#d62e2d"/><stop offset="0.348" stop-color="#e64d30"/><stop offset="0.362" stop-color="#ef6d30"/><stop offset="0.383" stop-color="#f7c537"/><stop offset="0.390" stop-color="#f5de3f"/><stop offset="0.404" stop-color="#d3df75"/><stop offset="0.419" stop-color="#a4d7a7"/><stop offset="0.433" stop-color="#89cfcf"/><stop offset="0.447" stop-color="#59c5e4"/><stop offset="0.539" stop-color="#3396d9"/><stop offset="0.646" stop-color="#2050ad"/><stop offset="0.717" stop-color="#1e3678"/><stop offset="0.780" stop-color="#1d2e5c"/><stop offset="0.993" stop-color="#1d2e5c"/></linearGradient><linearGradient id="h2_11" x1="0" y1="0" x2="1" y2="0"><stop offset="0.000" stop-color="#1d2e5c"/><stop offset="0.035" stop-color="#1d2e5c"/><stop offset="0.043" stop-color="#1f3b8a"/><stop offset="0.050" stop-color="#47b6e4"/><stop offset="0.057" stop-color="#b2da96"/><stop offset="0.064" stop-color="#f8b431"/><stop offset="0.071" stop-color="#eb6130"/><stop offset="0.078" stop-color="#de3830"/><stop offset="0.099" stop-color="#ce252c"/><stop offset="0.142" stop-color="#c11d29"/><stop offset="0.177" stop-color="#a21725"/><stop offset="0.234" stop-color="#b01a27"/><stop offset="0.284" stop-color="#ca212b"/><stop offset="0.326" stop-color="#d8312e"/><stop offset="0.348" stop-color="#e75230"/><stop offset="0.362" stop-color="#f07230"/><stop offset="0.383" stop-color="#f6c938"/><stop offset="0.390" stop-color="#f4e042"/><stop offset="0.404" stop-color="#cfdf79"/><stop offset="0.419" stop-color="#a1d6ab"/><stop offset="0.433" stop-color="#83ced1"/><stop offset="0.447" stop-color="#54c4e6"/><stop offset="0.575" stop-color="#297bcb"/><stop offset="0.646" stop-color="#204da7"/><stop offset="0.724" stop-color="#1e3470"/><stop offset="0.773" stop-color="#1d2e5c"/><stop offset="0.993" stop-color="#1d2e5c"/></linearGradient><linearGradient id="h2_12" x1="0" y1="0" x2="1" y2="0"><stop offset="0.000" stop-color="#1d2e5c"/><stop offset="0.035" stop-color="#1d2e5c"/><stop offset="0.043" stop-color="#1f3a86"/><stop offset="0.050" stop-color="#43b1e2"/><stop offset="0.057" stop-color="#add99b"/><stop offset="0.064" stop-color="#f7b933"/><stop offset="0.071" stop-color="#ed6730"/><stop offset="0.078" stop-color="#e13c30"/><stop offset="0.099" stop-color="#d1282c"/><stop offset="0.156" stop-color="#c41d2a"/><stop offset="0.192" stop-color="#b61b28"/><stop offset="0.312" stop-color="#d2292c"/><stop offset="0.333" stop-color="#e03a30"/><stop offset="0.362" stop-color="#f17930"/><stop offset="0.383" stop-color="#f6ce3a"/><stop offset="0.390" stop-color="#f0e048"/><stop offset="0.419" stop-color="#9ed5b0"/><stop offset="0.433" stop-color="#7ccdd4"/><stop offset="0.447" stop-color="#4ec1e7"/><stop offset="0.575" stop-color="#2874c8"/><stop offset="0.646" stop-color="#2049a1"/><stop offset="0.738" stop-color="#1d3062"/><stop offset="0.993" stop-color="#1d2e5c"/></linearGradient><linearGradient id="h2_13" x1="0" y1="0" x2="1" y2="0"><stop offset="0.000" stop-color="#1d2e5c"/><stop offset="0.035" stop-color="#1d2e5c"/><stop offset="0.043" stop-color="#1e3880"/><stop offset="0.050" stop-color="#3fa9df"/><stop offset="0.057" stop-color="#a7d8a2"/><stop offset="0.064" stop-color="#f7c035"/><stop offset="0.071" stop-color="#ef6e30"/><stop offset="0.078" stop-color="#e34430"/><stop offset="0.092" stop-color="#d62e2d"/><stop offset="0.220" stop-color="#ca202a"/><stop offset="0.319" stop-color="#d9322e"/><stop offset="0.341" stop-color="#e65030"/><stop offset="0.362" stop-color="#f28230"/><stop offset="0.383" stop-color="#f6d53c"/><stop offset="0.397" stop-color="#dce069"/><stop offset="0.411" stop-color="#a8d8a0"/><stop offset="0.426" stop-color="#8ed0ca"/><stop offset="0.440" stop-color="#58c5e4"/><stop offset="0.447" stop-color="#49bae5"/><stop offset="0.568" stop-color="#2771c6"/><stop offset="0.631" stop-color="#204aa4"/><stop offset="0.724" stop-color="#1d3165"/><stop offset="0.766" stop-color="#1d2e5c"/><stop offset="0.993" stop-color="#1d2e5c"/></linearGradient><linearGradient id="h2_14" x1="0" y1="0" x2="1" y2="0"><stop offset="0.000" stop-color="#1d2e5c"/><stop offset="0.035" stop-color="#1d2e5c"/><stop offset="0.043" stop-color="#1e3679"/><stop offset="0.050" stop-color="#39a0dc"/><stop offset="0.057" stop-color="#a2d6aa"/><stop offset="0.064" stop-color="#f7c838"/><stop offset="0.071" stop-color="#f17830"/><stop offset="0.078" stop-color="#e54c30"/><stop offset="0.092" stop-color="#d9322e"/><stop offset="0.227" stop-color="#cf262c"/><stop offset="0.319" stop-color="#dd362f"/><stop offset="0.341" stop-color="#e95830"/><stop offset="0.362" stop-color="#f48c30"/><stop offset="0.383" stop-color="#f5dc3f"/><stop offset="0.397" stop-color="#d7e071"/><stop offset="0.411" stop-color="#a4d7a7"/><stop offset="0.426" stop-color="#86cfd0"/><stop offset="0.440" stop-color="#4fc3e8"/><stop offset="0.447" stop-color="#44b2e2"/><stop offset="0.568" stop-color="#2568c1"/><stop offset="0.667" stop-color="#1f3981"/><stop offset="0.738" stop-color="#1d2e5c"/><stop offset="0.993" stop-color="#1d2e5c"/></linearGradient><linearGradient id="h2_15" x1="0" y1="0" x2="1" y2="0"><stop offset="0.000" stop-color="#1d2e5c"/><stop offset="0.035" stop-color="#1d2e5c"/><stop offset="0.043" stop-color="#1e3470"/><stop offset="0.050" stop-color="#3295d8"/><stop offset="0.057" stop-color="#9cd5b3"/><stop offset="0.064" stop-color="#f6d13b"/><stop offset="0.071" stop-color="#f38430"/><stop offset="0.078" stop-color="#e85630"/><stop offset="0.092" stop-color="#de382f"/><stop offset="0.234" stop-color="#d42b2d"/><stop offset="0.319" stop-color="#e13d30"/><stop offset="0.348" stop-color="#f07330"/><stop offset="0.362" stop-color="#f59830"/><stop offset="0.383" stop-color="#f2e046"/><stop offset="0.397" stop-color="#cede7a"/><stop offset="0.411" stop-color="#9ed5b0"/><stop offset="0.426" stop-color="#7accd5"/><stop offset="0.440" stop-color="#48b9e4"/><stop offset="0.447" stop-color="#3ea8df"/><stop offset="0.582" stop-color="#2155b4"/><stop offset="0.674" stop-color="#1e3574"/><stop offset="0.724" stop-color="#1d2e5c"/><stop offset="0.993" stop-color="#1d2e5c"/></linearGradient><linearGradient id="h2_16" x1="0" y1="0" x2="1" y2="0"><stop offset="0.000" stop-color="#1d2e5c"/><stop offset="0.035" stop-color="#1d2e5c"/><stop offset="0.043" stop-color="#1d3064"/><stop offset="0.050" stop-color="#2c86d1"/><stop offset="0.057" stop-color="#95d3bf"/><stop offset="0.064" stop-color="#f5de3f"/><stop offset="0.071" stop-color="#f59530"/><stop offset="0.078" stop-color="#ec6430"/><stop offset="0.092" stop-color="#e24230"/><stop offset="0.213" stop-color="#d9322e"/><stop offset="0.312" stop-color="#e24130"/><stop offset="0.341" stop-color="#f07030"/><stop offset="0.369" stop-color="#f7c035"/><stop offset="0.376" stop-color="#f5d93e"/><stop offset="0.390" stop-color="#dbe06b"/><stop offset="0.404" stop-color="#a7d8a1"/><stop offset="0.419" stop-color="#87cfcf"/><stop offset="0.433" stop-color="#4fc3e8"/><stop offset="0.447" stop-color="#369bda"/><stop offset="0.568" stop-color="#2152af"/><stop offset="0.653" stop-color="#1e3677"/><stop offset="0.702" stop-color="#1d2e5c"/><stop offset="0.993" stop-color="#1d2e5c"/></linearGradient><linearGradient id="h2_17" x1="0" y1="0" x2="1" y2="0"><stop offset="0.000" stop-color="#1d2e5c"/><stop offset="0.043" stop-color="#1d2e5c"/><stop offset="0.050" stop-color="#2770c5"/><stop offset="0.057" stop-color="#88cfcf"/><stop offset="0.064" stop-color="#ece04f"/><stop offset="0.071" stop-color="#f7ab30"/><stop offset="0.078" stop-color="#f17730"/><stop offset="0.092" stop-color="#e85430"/><stop offset="0.192" stop-color="#e13e30"/><stop offset="0.277" stop-color="#e44730"/><stop offset="0.319" stop-color="#ea5d30"/><stop offset="0.341" stop-color="#f38630"/><stop offset="0.369" stop-color="#f6d13b"/><stop offset="0.376" stop-color="#efe04a"/><stop offset="0.390" stop-color="#ccde7c"/><stop offset="0.404" stop-color="#9dd5b1"/><stop offset="0.419" stop-color="#72cad9"/><stop offset="0.426" stop-color="#56c4e5"/><stop offset="0.447" stop-color="#2c88d2"/><stop offset="0.546" stop-color="#204ea9"/><stop offset="0.639" stop-color="#1e336f"/><stop offset="0.681" stop-color="#1d2e5c"/><stop offset="0.993" stop-color="#1d2e5c"/></linearGradient><linearGradient id="h2_18" x1="0" y1="0" x2="1" y2="0"><stop offset="0.000" stop-color="#1d2e5c"/><stop offset="0.043" stop-color="#1d2e5c"/><stop offset="0.050" stop-color="#204fac"/><stop offset="0.057" stop-color="#62c7e0"/><stop offset="0.064" stop-color="#dae06c"/><stop offset="0.071" stop-color="#f7c838"/><stop offset="0.078" stop-color="#f59a30"/><stop offset="0.092" stop-color="#f07130"/><stop offset="0.192" stop-color="#ea5a30"/><stop offset="0.277" stop-color="#ed6430"/><stop offset="0.312" stop-color="#f07130"/><stop offset="0.355" stop-color="#f7c738"/><stop offset="0.369" stop-color="#eee04b"/><stop offset="0.404" stop-color="#8ed1ca"/><stop offset="0.419" stop-color="#50c3e8"/><stop offset="0.440" stop-color="#297bcb"/><stop offset="0.447" stop-color="#2569c2"/><stop offset="0.525" stop-color="#204498"/><stop offset="0.631" stop-color="#1d2e5c"/><stop offset="0.993" stop-color="#1d2e5c"/></linearGradient><linearGradient id="h2_19" x1="0" y1="0" x2="1" y2="0"><stop offset="0.000" stop-color="#1d2e5c"/><stop offset="0.043" stop-color="#1d2e5c"/><stop offset="0.050" stop-color="#1e3471"/><stop offset="0.057" stop-color="#3398d9"/><stop offset="0.064" stop-color="#a8d8a0"/><stop offset="0.071" stop-color="#e6e059"/><stop offset="0.078" stop-color="#f6ce3a"/><stop offset="0.092" stop-color="#f8ac30"/><stop offset="0.184" stop-color="#f49330"/><stop offset="0.270" stop-color="#f69d30"/><stop offset="0.319" stop-color="#f7b833"/><stop offset="0.348" stop-color="#f0e048"/><stop offset="0.362" stop-color="#dfe064"/><stop offset="0.390" stop-color="#92d2c3"/><stop offset="0.404" stop-color="#53c4e6"/><stop offset="0.419" stop-color="#2f90d6"/><stop offset="0.433" stop-color="#225dbb"/><stop offset="0.447" stop-color="#1f4092"/><stop offset="0.560" stop-color="#1d2e5c"/><stop offset="0.993" stop-color="#1d2e5c"/></linearGradient><linearGradient id="h2_20" x1="0" y1="0" x2="1" y2="0"><stop offset="0.000" stop-color="#1d2e5c"/><stop offset="0.050" stop-color="#1d2e5c"/><stop offset="0.057" stop-color="#1e387d"/><stop offset="0.064" stop-color="#49b9e5"/><stop offset="0.071" stop-color="#98d3ba"/><stop offset="0.078" stop-color="#bddc8b"/><stop offset="0.085" stop-color="#d4df74"/><stop offset="0.099" stop-color="#e0e063"/><stop offset="0.206" stop-color="#e8e056"/><stop offset="0.284" stop-color="#e0e063"/><stop offset="0.319" stop-color="#d2df76"/><stop offset="0.362" stop-color="#94d2c1"/><stop offset="0.376" stop-color="#60c7e0"/><stop offset="0.383" stop-color="#47b7e4"/><stop offset="0.404" stop-color="#225cbb"/><stop offset="0.419" stop-color="#1f3a85"/><stop offset="0.433" stop-color="#1d2f60"/><stop offset="0.993" stop-color="#1d2e5c"/></linearGradient><linearGradient id="h2_21" x1="0" y1="0" x2="1" y2="0"><stop offset="0.000" stop-color="#1d2e5c"/><stop offset="0.993" stop-color="#1d2e5c"/></linearGradient><linearGradient id="h2_22" x1="0" y1="0" x2="1" y2="0"><stop offset="0.000" stop-color="#1d2e5c"/><stop offset="0.993" stop-color="#1d2e5c"/></linearGradient><linearGradient id="h2_23" x1="0" y1="0" x2="1" y2="0"><stop offset="0.000" stop-color="#1d2e5c"/><stop offset="0.993" stop-color="#1d2e5c"/></linearGradient><linearGradient id="h2_24" x1="0" y1="0" x2="1" y2="0"><stop offset="0.000" stop-color="#1d2e5c"/><stop offset="0.993" stop-color="#1d2e5c"/></linearGradient><linearGradient id="h2_25" x1="0" y1="0" x2="1" y2="0"><stop offset="0.000" stop-color="#1d2e5c"/><stop offset="0.993" stop-color="#1d2e5c"/></linearGradient><linearGradient id="h3_0" x1="0" y1="0" x2="1" y2="0"><stop offset="0.000" stop-color="#1d2f5e"/><stop offset="0.993" stop-color="#1d2e5c"/></linearGradient><linearGradient id="h3_1" x1="0" y1="0" x2="1" y2="0"><stop offset="0.000" stop-color="#1d2f5f"/><stop offset="0.993" stop-color="#1d2e5c"/></linearGradient><linearGradient id="h3_2" x1="0" y1="0" x2="1" y2="0"><stop offset="0.000" stop-color="#1d2f61"/><stop offset="0.993" stop-color="#1d2e5c"/></linearGradient><linearGradient id="h3_3" x1="0" y1="0" x2="1" y2="0"><stop offset="0.000" stop-color="#1d3063"/><stop offset="0.993" stop-color="#1d2e5c"/></linearGradient><linearGradient id="h3_4" x1="0" y1="0" x2="1" y2="0"><stop offset="0.000" stop-color="#1d3166"/><stop offset="0.709" stop-color="#1d2f5e"/><stop offset="0.993" stop-color="#1d2e5c"/></linearGradient><linearGradient id="h3_5" x1="0" y1="0" x2="1" y2="0"><stop offset="0.000" stop-color="#1e3269"/><stop offset="0.639" stop-color="#1d3063"/><stop offset="0.993" stop-color="#1d2e5c"/></linearGradient><linearGradient id="h3_6" x1="0" y1="0" x2="1" y2="0"><stop offset="0.000" stop-color="#1e336e"/><stop offset="0.603" stop-color="#1d3168"/><stop offset="0.901" stop-color="#1d2e5c"/><stop offset="0.993" stop-color="#1d2e5c"/></linearGradient><linearGradient id="h3_7" x1="0" y1="0" x2="1" y2="0"><stop offset="0.000" stop-color="#1e3574"/><stop offset="0.582" stop-color="#1e336e"/><stop offset="0.837" stop-color="#1d2e5c"/><stop offset="0.993" stop-color="#1d2e5c"/></linearGradient><linearGradient id="h3_8" x1="0" y1="0" x2="1" y2="0"><stop offset="0.000" stop-color="#1e377a"/><stop offset="0.568" stop-color="#1e3575"/><stop offset="0.809" stop-color="#1d2e5c"/><stop offset="0.993" stop-color="#1d2e5c"/></linearGradient><linearGradient id="h3_9" x1="0" y1="0" x2="1" y2="0"><stop offset="0.000" stop-color="#1f3982"/><stop offset="0.114" stop-color="#1f3b89"/><stop offset="0.121" stop-color="#204da8"/><stop offset="0.128" stop-color="#266dc4"/><stop offset="0.135" stop-color="#3ea9df"/><stop offset="0.142" stop-color="#73cbd8"/><stop offset="0.156" stop-color="#d3df75"/><stop offset="0.170" stop-color="#c9de7f"/><stop offset="0.177" stop-color="#1f3983"/><stop offset="0.376" stop-color="#1f3983"/><stop offset="0.383" stop-color="#ccde7c"/><stop offset="0.426" stop-color="#eae053"/><stop offset="0.440" stop-color="#d8e070"/><stop offset="0.447" stop-color="#b9db8f"/><stop offset="0.454" stop-color="#92d2c3"/><stop offset="0.461" stop-color="#54c4e6"/><stop offset="0.468" stop-color="#3498d9"/><stop offset="0.475" stop-color="#266bc3"/><stop offset="0.482" stop-color="#20489f"/><stop offset="0.490" stop-color="#1f3b8a"/><stop offset="0.788" stop-color="#1d2e5c"/><stop offset="0.993" stop-color="#1d2e5c"/></linearGradient><linearGradient id="h3_10" x1="0" y1="0" x2="1" y2="0"><stop offset="0.000" stop-color="#1f3b8a"/><stop offset="0.035" stop-color="#20459b"/><stop offset="0.071" stop-color="#2463be"/><stop offset="0.099" stop-color="#2d89d3"/><stop offset="0.114" stop-color="#54c4e6"/><stop offset="0.121" stop-color="#7dcdd4"/><stop offset="0.128" stop-color="#9bd4b6"/><stop offset="0.142" stop-color="#f1e046"/><stop offset="0.149" stop-color="#f6a430"/><stop offset="0.156" stop-color="#e95930"/><stop offset="0.170" stop-color="#de3830"/><stop offset="0.199" stop-color="#e64e30"/><stop offset="0.227" stop-color="#f27e30"/><stop offset="0.248" stop-color="#f7bb34"/><stop offset="0.255" stop-color="#f1e046"/><stop offset="0.263" stop-color="#d5e073"/><stop offset="0.270" stop-color="#98d4b9"/><stop offset="0.277" stop-color="#1f3c8b"/><stop offset="0.284" stop-color="#1f3c8b"/><stop offset="0.291" stop-color="#60c7e1"/><stop offset="0.298" stop-color="#d7e071"/><stop offset="0.305" stop-color="#f69f30"/><stop offset="0.312" stop-color="#ee6930"/><stop offset="0.326" stop-color="#e23f30"/><stop offset="0.426" stop-color="#d8312e"/><stop offset="0.433" stop-color="#e03a30"/><stop offset="0.440" stop-color="#e85530"/><stop offset="0.447" stop-color="#f27d30"/><stop offset="0.454" stop-color="#f7c035"/><stop offset="0.461" stop-color="#e7e057"/><stop offset="0.475" stop-color="#a2d6a9"/><stop offset="0.482" stop-color="#8bd0ce"/><stop offset="0.504" stop-color="#51c3e7"/><stop offset="0.532" stop-color="#3092d7"/><stop offset="0.589" stop-color="#2155b5"/><stop offset="0.681" stop-color="#1e3676"/><stop offset="0.738" stop-color="#1d2f5f"/><stop offset="0.993" stop-color="#1d2e5c"/></linearGradient><linearGradient id="h3_11" x1="0" y1="0" x2="1" y2="0"><stop offset="0.000" stop-color="#1f4194"/><stop offset="0.050" stop-color="#235ebc"/><stop offset="0.099" stop-color="#3ba4dd"/><stop offset="0.106" stop-color="#4dc0e7"/><stop offset="0.121" stop-color="#95d2bf"/><stop offset="0.128" stop-color="#acd99c"/><stop offset="0.135" stop-color="#e0e062"/><stop offset="0.142" stop-color="#f6c938"/><stop offset="0.149" stop-color="#f27c30"/><stop offset="0.156" stop-color="#de3830"/><stop offset="0.170" stop-color="#cb212b"/><stop offset="0.248" stop-color="#d52d2d"/><stop offset="0.255" stop-color="#e24130"/><stop offset="0.263" stop-color="#eb6130"/><stop offset="0.277" stop-color="#f6cb39"/><stop offset="0.284" stop-color="#ebe050"/><stop offset="0.291" stop-color="#f6d63d"/><stop offset="0.298" stop-color="#f6a030"/><stop offset="0.305" stop-color="#e75230"/><stop offset="0.312" stop-color="#db342f"/><stop offset="0.326" stop-color="#ca202a"/><stop offset="0.426" stop-color="#c61e2a"/><stop offset="0.440" stop-color="#dc362f"/><stop offset="0.447" stop-color="#e95930"/><stop offset="0.454" stop-color="#f69d30"/><stop offset="0.461" stop-color="#f5d83d"/><stop offset="0.468" stop-color="#dfe064"/><stop offset="0.482" stop-color="#9dd5b2"/><stop offset="0.504" stop-color="#78ccd6"/><stop offset="0.525" stop-color="#4abbe5"/><stop offset="0.582" stop-color="#2a7dcc"/><stop offset="0.653" stop-color="#204ea9"/><stop offset="0.724" stop-color="#1e3575"/><stop offset="0.788" stop-color="#1d2e5c"/><stop offset="0.993" stop-color="#1d2e5c"/></linearGradient><linearGradient id="h3_12" x1="0" y1="0" x2="1" y2="0"><stop offset="0.000" stop-color="#2048a0"/><stop offset="0.050" stop-color="#2361be"/><stop offset="0.099" stop-color="#3da7de"/><stop offset="0.106" stop-color="#50c3e8"/><stop offset="0.114" stop-color="#7accd5"/><stop offset="0.128" stop-color="#b0d998"/><stop offset="0.135" stop-color="#e3e05e"/><stop offset="0.142" stop-color="#f7c537"/><stop offset="0.149" stop-color="#f17630"/><stop offset="0.156" stop-color="#dc352f"/><stop offset="0.170" stop-color="#c71e2a"/><stop offset="0.184" stop-color="#bc1c28"/><stop offset="0.241" stop-color="#c21d29"/><stop offset="0.255" stop-color="#d62e2e"/><stop offset="0.263" stop-color="#e24030"/><stop offset="0.277" stop-color="#f69c30"/><stop offset="0.284" stop-color="#f7bd34"/><stop offset="0.291" stop-color="#f8b331"/><stop offset="0.298" stop-color="#f38730"/><stop offset="0.305" stop-color="#e44630"/><stop offset="0.319" stop-color="#cc232b"/><stop offset="0.326" stop-color="#bc1c28"/><stop offset="0.426" stop-color="#bb1c28"/><stop offset="0.440" stop-color="#da332e"/><stop offset="0.447" stop-color="#e85430"/><stop offset="0.454" stop-color="#f59730"/><stop offset="0.461" stop-color="#f6d43c"/><stop offset="0.468" stop-color="#e2e060"/><stop offset="0.482" stop-color="#a0d6ad"/><stop offset="0.504" stop-color="#7dcdd3"/><stop offset="0.525" stop-color="#4dc0e7"/><stop offset="0.589" stop-color="#2a7dcc"/><stop offset="0.660" stop-color="#204da8"/><stop offset="0.731" stop-color="#1e3575"/><stop offset="0.795" stop-color="#1d2e5c"/><stop offset="0.993" stop-color="#1d2e5c"/></linearGradient><linearGradient id="h3_13" x1="0" y1="0" x2="1" y2="0"><stop offset="0.000" stop-color="#204faa"/><stop offset="0.035" stop-color="#2154b3"/><stop offset="0.078" stop-color="#2d89d3"/><stop offset="0.099" stop-color="#3da6de"/><stop offset="0.106" stop-color="#4fc3e8"/><stop offset="0.121" stop-color="#96d3bd"/><stop offset="0.128" stop-color="#afd999"/><stop offset="0.135" stop-color="#e2e060"/><stop offset="0.142" stop-color="#f7c637"/><stop offset="0.149" stop-color="#f17830"/><stop offset="0.156" stop-color="#dd362f"/><stop offset="0.170" stop-color="#c81e2a"/><stop offset="0.184" stop-color="#bd1c29"/><stop offset="0.241" stop-color="#bd1c29"/><stop offset="0.248" stop-color="#c81e2a"/><stop offset="0.263" stop-color="#e13c30"/><stop offset="0.277" stop-color="#f59430"/><stop offset="0.284" stop-color="#f8b532"/><stop offset="0.291" stop-color="#f8ad30"/><stop offset="0.298" stop-color="#f38430"/><stop offset="0.305" stop-color="#e44630"/><stop offset="0.319" stop-color="#cc232b"/><stop offset="0.326" stop-color="#bd1c29"/><stop offset="0.426" stop-color="#bd1c29"/><stop offset="0.440" stop-color="#db342f"/><stop offset="0.447" stop-color="#e85530"/><stop offset="0.454" stop-color="#f59930"/><stop offset="0.461" stop-color="#f6d53c"/><stop offset="0.468" stop-color="#e1e061"/><stop offset="0.482" stop-color="#9fd5ae"/><stop offset="0.504" stop-color="#7ccdd4"/><stop offset="0.525" stop-color="#4cbfe7"/><stop offset="0.582" stop-color="#2b81ce"/><stop offset="0.653" stop-color="#2050ad"/><stop offset="0.724" stop-color="#1e3678"/><stop offset="0.795" stop-color="#1d2e5c"/><stop offset="0.993" stop-color="#1d2e5c"/></linearGradient><linearGradient id="h3_14" x1="0" y1="0" x2="1" y2="0"><stop offset="0.000" stop-color="#2154b3"/><stop offset="0.050" stop-color="#225cbb"/><stop offset="0.099" stop-color="#3ba3dd"/><stop offset="0.106" stop-color="#4dbfe7"/><stop offset="0.121" stop-color="#94d2c0"/><stop offset="0.128" stop-color="#acd99c"/><stop offset="0.135" stop-color="#e0e062"/><stop offset="0.142" stop-color="#f6c938"/><stop offset="0.149" stop-color="#f17c30"/><stop offset="0.156" stop-color="#de3830"/><stop offset="0.170" stop-color="#ca202a"/><stop offset="0.241" stop-color="#c21d29"/><stop offset="0.255" stop-color="#d52e2d"/><stop offset="0.263" stop-color="#e13e30"/><stop offset="0.277" stop-color="#f59630"/><stop offset="0.284" stop-color="#f8b732"/><stop offset="0.291" stop-color="#f8b030"/><stop offset="0.298" stop-color="#f38730"/><stop offset="0.305" stop-color="#e44930"/><stop offset="0.312" stop-color="#d8302e"/><stop offset="0.326" stop-color="#c31d29"/><stop offset="0.426" stop-color="#c31d29"/><stop offset="0.440" stop-color="#dc352f"/><stop offset="0.447" stop-color="#e95830"/><stop offset="0.454" stop-color="#f69c30"/><stop offset="0.461" stop-color="#f6d83d"/><stop offset="0.468" stop-color="#e0e064"/><stop offset="0.482" stop-color="#9dd5b1"/><stop offset="0.504" stop-color="#79ccd6"/><stop offset="0.525" stop-color="#4bbce6"/><stop offset="0.582" stop-color="#2a7ecd"/><stop offset="0.653" stop-color="#204eaa"/><stop offset="0.724" stop-color="#1e3676"/><stop offset="0.788" stop-color="#1d2e5c"/><stop offset="0.993" stop-color="#1d2e5c"/></linearGradient><linearGradient id="h3_15" x1="0" y1="0" x2="1" y2="0"><stop offset="0.000" stop-color="#2159b9"/><stop offset="0.057" stop-color="#2462be"/><stop offset="0.099" stop-color="#389fdb"/><stop offset="0.106" stop-color="#4abbe5"/><stop offset="0.121" stop-color="#92d2c3"/><stop offset="0.128" stop-color="#a8d8a0"/><stop offset="0.135" stop-color="#dee066"/><stop offset="0.142" stop-color="#f6cd3a"/><stop offset="0.149" stop-color="#f28130"/><stop offset="0.156" stop-color="#e03a30"/><stop offset="0.170" stop-color="#cb222b"/><stop offset="0.248" stop-color="#cb222b"/><stop offset="0.263" stop-color="#e24230"/><stop offset="0.277" stop-color="#f59b30"/><stop offset="0.284" stop-color="#f7ba33"/><stop offset="0.291" stop-color="#f8b331"/><stop offset="0.298" stop-color="#f48c30"/><stop offset="0.305" stop-color="#e64d30"/><stop offset="0.312" stop-color="#da322e"/><stop offset="0.326" stop-color="#c91f2a"/><stop offset="0.426" stop-color="#c91f2a"/><stop offset="0.440" stop-color="#de372f"/><stop offset="0.447" stop-color="#ea5c30"/><stop offset="0.454" stop-color="#f6a130"/><stop offset="0.461" stop-color="#f5db3e"/><stop offset="0.475" stop-color="#badb8e"/><stop offset="0.482" stop-color="#9bd4b4"/><stop offset="0.497" stop-color="#85ced0"/><stop offset="0.518" stop-color="#53c4e6"/><stop offset="0.575" stop-color="#2b81cf"/><stop offset="0.653" stop-color="#204ca6"/><stop offset="0.731" stop-color="#1e336f"/><stop offset="0.780" stop-color="#1d2e5c"/><stop offset="0.993" stop-color="#1d2e5c"/></linearGradient><linearGradient id="h3_16" x1="0" y1="0" x2="1" y2="0"><stop offset="0.000" stop-color="#225dbb"/><stop offset="0.064" stop-color="#2568c1"/><stop offset="0.099" stop-color="#359ada"/><stop offset="0.106" stop-color="#47b7e4"/><stop offset="0.114" stop-color="#6ac9dc"/><stop offset="0.121" stop-color="#8fd1c7"/><stop offset="0.128" stop-color="#a6d7a4"/><stop offset="0.135" stop-color="#dbe06b"/><stop offset="0.142" stop-color="#f6d23b"/><stop offset="0.149" stop-color="#f38730"/><stop offset="0.156" stop-color="#e23f30"/><stop offset="0.170" stop-color="#ce252b"/><stop offset="0.248" stop-color="#ce252b"/><stop offset="0.263" stop-color="#e44830"/><stop offset="0.277" stop-color="#f6a230"/><stop offset="0.284" stop-color="#f7bf35"/><stop offset="0.291" stop-color="#f7b833"/><stop offset="0.298" stop-color="#f49230"/><stop offset="0.305" stop-color="#e75230"/><stop offset="0.312" stop-color="#dc352f"/><stop offset="0.326" stop-color="#cb212b"/><stop offset="0.426" stop-color="#cb222b"/><stop offset="0.440" stop-color="#e03a30"/><stop offset="0.447" stop-color="#ec6130"/><stop offset="0.454" stop-color="#f7a730"/><stop offset="0.461" stop-color="#f5e040"/><stop offset="0.482" stop-color="#99d4b9"/><stop offset="0.497" stop-color="#7fcdd3"/><stop offset="0.518" stop-color="#4ec1e7"/><stop offset="0.575" stop-color="#2a7ccc"/><stop offset="0.653" stop-color="#2049a1"/><stop offset="0.752" stop-color="#1d2f5e"/><stop offset="0.993" stop-color="#1d2e5c"/></linearGradient><linearGradient id="h3_17" x1="0" y1="0" x2="1" y2="0"><stop offset="0.000" stop-color="#235ebc"/><stop offset="0.064" stop-color="#2462be"/><stop offset="0.099" stop-color="#3194d8"/><stop offset="0.106" stop-color="#43b1e2"/><stop offset="0.114" stop-color="#63c7df"/><stop offset="0.121" stop-color="#8cd0cd"/><stop offset="0.128" stop-color="#a2d6a9"/><stop offset="0.135" stop-color="#d8e070"/><stop offset="0.142" stop-color="#f6d73d"/><stop offset="0.149" stop-color="#f48e30"/><stop offset="0.156" stop-color="#e34530"/><stop offset="0.170" stop-color="#d1282c"/><stop offset="0.248" stop-color="#d1282c"/><stop offset="0.263" stop-color="#e64f30"/><stop offset="0.277" stop-color="#f7aa30"/><stop offset="0.284" stop-color="#f7c637"/><stop offset="0.291" stop-color="#f7bf35"/><stop offset="0.298" stop-color="#f59a30"/><stop offset="0.305" stop-color="#e95830"/><stop offset="0.312" stop-color="#df3830"/><stop offset="0.326" stop-color="#ce252b"/><stop offset="0.426" stop-color="#ce252b"/><stop offset="0.440" stop-color="#e24030"/><stop offset="0.447" stop-color="#ed6730"/><stop offset="0.454" stop-color="#f8ae30"/><stop offset="0.461" stop-color="#f2e045"/><stop offset="0.468" stop-color="#d7e071"/><stop offset="0.475" stop-color="#b0d998"/><stop offset="0.482" stop-color="#96d3bd"/><stop offset="0.497" stop-color="#78ccd6"/><stop offset="0.518" stop-color="#4abce5"/><stop offset="0.568" stop-color="#2a7ecd"/><stop offset="0.631" stop-color="#204fab"/><stop offset="0.709" stop-color="#1e3574"/><stop offset="0.759" stop-color="#1d2e5c"/><stop offset="0.993" stop-color="#1d2e5c"/></linearGradient><linearGradient id="h3_18" x1="0" y1="0" x2="1" y2="0"><stop offset="0.000" stop-color="#225cbb"/><stop offset="0.071" stop-color="#2463be"/><stop offset="0.099" stop-color="#2d8cd4"/><stop offset="0.114" stop-color="#59c5e3"/><stop offset="0.121" stop-color="#83ced1"/><stop offset="0.128" stop-color="#9ed5b0"/><stop offset="0.135" stop-color="#d0df78"/><stop offset="0.142" stop-color="#f5df40"/><stop offset="0.149" stop-color="#f59930"/><stop offset="0.156" stop-color="#e64e30"/><stop offset="0.170" stop-color="#d52d2d"/><stop offset="0.248" stop-color="#d62e2d"/><stop offset="0.263" stop-color="#ea5a30"/><stop offset="0.277" stop-color="#f8b732"/><stop offset="0.284" stop-color="#f6d13b"/><stop offset="0.291" stop-color="#f6c938"/><stop offset="0.298" stop-color="#f7a630"/><stop offset="0.305" stop-color="#ec6230"/><stop offset="0.312" stop-color="#e24030"/><stop offset="0.326" stop-color="#d2292c"/><stop offset="0.426" stop-color="#d1292c"/><stop offset="0.440" stop-color="#e44830"/><stop offset="0.447" stop-color="#f06f30"/><stop offset="0.454" stop-color="#f8b632"/><stop offset="0.461" stop-color="#ede04c"/><stop offset="0.475" stop-color="#a9d89f"/><stop offset="0.482" stop-color="#91d2c4"/><stop offset="0.511" stop-color="#4ec2e8"/><stop offset="0.532" stop-color="#379ddb"/><stop offset="0.603" stop-color="#2157b7"/><stop offset="0.688" stop-color="#1e377b"/><stop offset="0.759" stop-color="#1d2e5c"/><stop offset="0.993" stop-color="#1d2e5c"/></linearGradient><linearGradient id="h3_19" x1="0" y1="0" x2="1" y2="0"><stop offset="0.000" stop-color="#2157b8"/><stop offset="0.071" stop-color="#225bba"/><stop offset="0.099" stop-color="#2b82cf"/><stop offset="0.114" stop-color="#4fc3e8"/><stop offset="0.128" stop-color="#99d4b8"/><stop offset="0.142" stop-color="#f0e048"/><stop offset="0.149" stop-color="#f7a430"/><stop offset="0.156" stop-color="#e95830"/><stop offset="0.170" stop-color="#d9322e"/><stop offset="0.248" stop-color="#db342f"/><stop offset="0.263" stop-color="#ed6730"/><stop offset="0.277" stop-color="#f7c336"/><stop offset="0.284" stop-color="#f5de3f"/><stop offset="0.291" stop-color="#f6d53c"/><stop offset="0.298" stop-color="#f8b331"/><stop offset="0.305" stop-color="#ef6c30"/><stop offset="0.312" stop-color="#e54930"/><stop offset="0.326" stop-color="#d62e2e"/><stop offset="0.426" stop-color="#d62e2d"/><stop offset="0.433" stop-color="#de3830"/><stop offset="0.440" stop-color="#e75130"/><stop offset="0.447" stop-color="#f17a30"/><stop offset="0.454" stop-color="#f7be35"/><stop offset="0.461" stop-color="#e9e055"/><stop offset="0.475" stop-color="#a4d7a7"/><stop offset="0.482" stop-color="#8dd0cc"/><stop offset="0.504" stop-color="#54c4e6"/><stop offset="0.532" stop-color="#3295d8"/><stop offset="0.596" stop-color="#2154b3"/><stop offset="0.688" stop-color="#1e3574"/><stop offset="0.766" stop-color="#1d2e5c"/><stop offset="0.993" stop-color="#1d2e5c"/></linearGradient><linearGradient id="h3_20" x1="0" y1="0" x2="1" y2="0"><stop offset="0.000" stop-color="#2152b0"/><stop offset="0.078" stop-color="#2158b8"/><stop offset="0.099" stop-color="#2876c8"/><stop offset="0.106" stop-color="#3194d8"/><stop offset="0.114" stop-color="#47b7e4"/><stop offset="0.121" stop-color="#6ac9dc"/><stop offset="0.128" stop-color="#93d2c3"/><stop offset="0.142" stop-color="#eae053"/><stop offset="0.149" stop-color="#f8b331"/><stop offset="0.156" stop-color="#ed6530"/><stop offset="0.170" stop-color="#df3930"/><stop offset="0.248" stop-color="#e24030"/><stop offset="0.263" stop-color="#f17b30"/><stop offset="0.270" stop-color="#f8ad30"/><stop offset="0.277" stop-color="#f6d43c"/><stop offset="0.284" stop-color="#ebe050"/><stop offset="0.291" stop-color="#f2e044"/><stop offset="0.298" stop-color="#f7c136"/><stop offset="0.305" stop-color="#f17b30"/><stop offset="0.312" stop-color="#e85630"/><stop offset="0.319" stop-color="#e13f30"/><stop offset="0.333" stop-color="#dc352f"/><stop offset="0.426" stop-color="#db342f"/><stop offset="0.433" stop-color="#e24130"/><stop offset="0.440" stop-color="#ea5d30"/><stop offset="0.447" stop-color="#f38830"/><stop offset="0.454" stop-color="#f6c838"/><stop offset="0.461" stop-color="#e2e05f"/><stop offset="0.482" stop-color="#80ced2"/><stop offset="0.497" stop-color="#58c5e4"/><stop offset="0.532" stop-color="#2d89d3"/><stop offset="0.582" stop-color="#2153b2"/><stop offset="0.674" stop-color="#1e3576"/><stop offset="0.773" stop-color="#1d2e5c"/><stop offset="0.993" stop-color="#1d2e5c"/></linearGradient><linearGradient id="h3_21" x1="0" y1="0" x2="1" y2="0"><stop offset="0.000" stop-color="#204da7"/><stop offset="0.078" stop-color="#204eaa"/><stop offset="0.099" stop-color="#2465c0"/><stop offset="0.114" stop-color="#3ea7de"/><stop offset="0.121" stop-color="#58c5e4"/><stop offset="0.128" stop-color="#88cfcf"/><stop offset="0.135" stop-color="#add99b"/><stop offset="0.142" stop-color="#e1e062"/><stop offset="0.149" stop-color="#f7c236"/><stop offset="0.156" stop-color="#f17830"/><stop offset="0.170" stop-color="#e54a30"/><stop offset="0.241" stop-color="#e75130"/><stop offset="0.248" stop-color="#e95830"/><stop offset="0.263" stop-color="#f59930"/><stop offset="0.270" stop-color="#f7c537"/><stop offset="0.277" stop-color="#ede04d"/><stop offset="0.284" stop-color="#dbe06a"/><stop offset="0.291" stop-color="#e4e05b"/><stop offset="0.298" stop-color="#f6d43c"/><stop offset="0.305" stop-color="#f49030"/><stop offset="0.312" stop-color="#ed6730"/><stop offset="0.326" stop-color="#e24130"/><stop offset="0.426" stop-color="#e13e30"/><stop offset="0.440" stop-color="#ef6c30"/><stop offset="0.447" stop-color="#f59a30"/><stop offset="0.454" stop-color="#f6d63d"/><stop offset="0.461" stop-color="#dae06d"/><stop offset="0.468" stop-color="#b0d998"/><stop offset="0.475" stop-color="#96d3bd"/><stop offset="0.482" stop-color="#6fcada"/><stop offset="0.497" stop-color="#4abce6"/><stop offset="0.525" stop-color="#2b82cf"/><stop offset="0.575" stop-color="#204eaa"/><stop offset="0.646" stop-color="#1e377c"/><stop offset="0.773" stop-color="#1d2e5c"/><stop offset="0.993" stop-color="#1d2e5c"/></linearGradient><linearGradient id="h3_22" x1="0" y1="0" x2="1" y2="0"><stop offset="0.000" stop-color="#20469c"/><stop offset="0.085" stop-color="#20489f"/><stop offset="0.099" stop-color="#2151af"/><stop offset="0.114" stop-color="#2f91d7"/><stop offset="0.121" stop-color="#45b4e3"/><stop offset="0.128" stop-color="#6dc9db"/><stop offset="0.142" stop-color="#d1df77"/><stop offset="0.149" stop-color="#f6d83d"/><stop offset="0.156" stop-color="#f59530"/><stop offset="0.170" stop-color="#ed6530"/><stop offset="0.241" stop-color="#f17730"/><stop offset="0.248" stop-color="#f28130"/><stop offset="0.263" stop-color="#f7c336"/><stop offset="0.270" stop-color="#eee04b"/><stop offset="0.284" stop-color="#b3da95"/><stop offset="0.291" stop-color="#c8dd80"/><stop offset="0.298" stop-color="#ebe051"/><stop offset="0.305" stop-color="#f8af30"/><stop offset="0.312" stop-color="#f28330"/><stop offset="0.326" stop-color="#e95a30"/><stop offset="0.426" stop-color="#e85430"/><stop offset="0.440" stop-color="#f38530"/><stop offset="0.447" stop-color="#f8b331"/><stop offset="0.454" stop-color="#efe049"/><stop offset="0.468" stop-color="#a1d6ab"/><stop offset="0.475" stop-color="#89cfce"/><stop offset="0.482" stop-color="#57c5e5"/><stop offset="0.504" stop-color="#3499d9"/><stop offset="0.532" stop-color="#2464bf"/><stop offset="0.589" stop-color="#1f3b89"/><stop offset="0.773" stop-color="#1d2e5c"/><stop offset="0.993" stop-color="#1d2e5c"/></linearGradient><linearGradient id="h3_23" x1="0" y1="0" x2="1" y2="0"><stop offset="0.000" stop-color="#1f3f91"/><stop offset="0.099" stop-color="#1f4093"/><stop offset="0.106" stop-color="#204da8"/><stop offset="0.121" stop-color="#2f91d7"/><stop offset="0.128" stop-color="#48b8e4"/><stop offset="0.135" stop-color="#8ad0ce"/><stop offset="0.142" stop-color="#aed99a"/><stop offset="0.149" stop-color="#e5e05a"/><stop offset="0.156" stop-color="#f7c035"/><stop offset="0.170" stop-color="#f59630"/><stop offset="0.213" stop-color="#f7aa30"/><stop offset="0.248" stop-color="#f7c537"/><stop offset="0.255" stop-color="#f4e042"/><stop offset="0.263" stop-color="#e2e05f"/><stop offset="0.277" stop-color="#99d4b8"/><stop offset="0.284" stop-color="#7accd5"/><stop offset="0.291" stop-color="#97d3bb"/><stop offset="0.298" stop-color="#c8dd80"/><stop offset="0.305" stop-color="#f6d53c"/><stop offset="0.319" stop-color="#f59630"/><stop offset="0.326" stop-color="#f28430"/><stop offset="0.426" stop-color="#f17830"/><stop offset="0.440" stop-color="#f8ad30"/><stop offset="0.447" stop-color="#f6d13b"/><stop offset="0.454" stop-color="#dde067"/><stop offset="0.461" stop-color="#abd89d"/><stop offset="0.468" stop-color="#90d1c6"/><stop offset="0.475" stop-color="#63c7df"/><stop offset="0.482" stop-color="#3faadf"/><stop offset="0.504" stop-color="#2978ca"/><stop offset="0.525" stop-color="#204fac"/><stop offset="0.560" stop-color="#1f3b88"/><stop offset="0.780" stop-color="#1d2e5c"/><stop offset="0.993" stop-color="#1d2e5c"/></linearGradient><linearGradient id="h3_24" x1="0" y1="0" x2="1" y2="0"><stop offset="0.000" stop-color="#1f3b87"/><stop offset="0.114" stop-color="#1f3e8e"/><stop offset="0.121" stop-color="#2153b2"/><stop offset="0.128" stop-color="#297acb"/><stop offset="0.135" stop-color="#48b7e4"/><stop offset="0.142" stop-color="#87cfcf"/><stop offset="0.156" stop-color="#e4e05c"/><stop offset="0.170" stop-color="#f5dd3f"/><stop offset="0.213" stop-color="#e3e05d"/><stop offset="0.241" stop-color="#cdde7b"/><stop offset="0.248" stop-color="#c0dc88"/><stop offset="0.263" stop-color="#8fd1c9"/><stop offset="0.270" stop-color="#51c3e7"/><stop offset="0.277" stop-color="#2d89d3"/><stop offset="0.284" stop-color="#2156b6"/><stop offset="0.291" stop-color="#3296d8"/><stop offset="0.298" stop-color="#88cfcf"/><stop offset="0.305" stop-color="#d3df75"/><stop offset="0.312" stop-color="#ede04d"/><stop offset="0.326" stop-color="#f6c938"/><stop offset="0.426" stop-color="#f7b933"/><stop offset="0.440" stop-color="#f5e040"/><stop offset="0.447" stop-color="#e0e062"/><stop offset="0.454" stop-color="#b0d998"/><stop offset="0.461" stop-color="#8dd0cc"/><stop offset="0.468" stop-color="#56c5e5"/><stop offset="0.475" stop-color="#389fdc"/><stop offset="0.482" stop-color="#2773c7"/><stop offset="0.497" stop-color="#2152af"/><stop offset="0.518" stop-color="#1f3b88"/><stop offset="0.788" stop-color="#1d2e5c"/><stop offset="0.993" stop-color="#1d2e5c"/></linearGradient><linearGradient id="h3_25" x1="0" y1="0" x2="1" y2="0"><stop offset="0.000" stop-color="#1e387f"/><stop offset="0.128" stop-color="#1f3980"/><stop offset="0.135" stop-color="#204ba5"/><stop offset="0.142" stop-color="#2b82cf"/><stop offset="0.149" stop-color="#50c3e8"/><stop offset="0.156" stop-color="#90d1c6"/><stop offset="0.170" stop-color="#9dd5b2"/><stop offset="0.192" stop-color="#8dd0cc"/><stop offset="0.206" stop-color="#6fcada"/><stop offset="0.213" stop-color="#1f3980"/><stop offset="0.298" stop-color="#1f3980"/><stop offset="0.305" stop-color="#6dc9db"/><stop offset="0.312" stop-color="#9ad4b6"/><stop offset="0.326" stop-color="#b6da92"/><stop offset="0.426" stop-color="#d5e073"/><stop offset="0.440" stop-color="#b0d998"/><stop offset="0.447" stop-color="#99d4b8"/><stop offset="0.454" stop-color="#64c7df"/><stop offset="0.461" stop-color="#359ada"/><stop offset="0.468" stop-color="#2568c1"/><stop offset="0.475" stop-color="#20469d"/><stop offset="0.482" stop-color="#1f3980"/><stop offset="0.802" stop-color="#1d2e5c"/><stop offset="0.993" stop-color="#1d2e5c"/></linearGradient><linearGradient id="h3_26" x1="0" y1="0" x2="1" y2="0"><stop offset="0.000" stop-color="#1e3678"/><stop offset="0.568" stop-color="#1e3573"/><stop offset="0.816" stop-color="#1d2e5c"/><stop offset="0.993" stop-color="#1d2e5c"/></linearGradient><linearGradient id="h3_27" x1="0" y1="0" x2="1" y2="0"><stop offset="0.000" stop-color="#1e3472"/><stop offset="0.589" stop-color="#1e336c"/><stop offset="0.851" stop-color="#1d2e5c"/><stop offset="0.993" stop-color="#1d2e5c"/></linearGradient><linearGradient id="h3_28" x1="0" y1="0" x2="1" y2="0"><stop offset="0.000" stop-color="#1e336c"/><stop offset="0.617" stop-color="#1d3166"/><stop offset="0.965" stop-color="#1d2e5c"/><stop offset="0.993" stop-color="#1d2e5c"/></linearGradient></defs><text x="0" y="8.1" font-size="11" text-anchor="start" fill="#231f20" font-weight="bold">a</text>
<line x1="57.6" y1="31" x2="57.6" y2="41.5" stroke="#231f20" stroke-width="0.9" />
<line x1="85.2" y1="31" x2="85.2" y2="41.5" stroke="#231f20" stroke-width="0.9" />
<line x1="58.1" y1="36.4" x2="84.7" y2="36.4" stroke="#231f20" stroke-width="0.8" />
<path d="M58.1,36.4 L61.6,34.6 L61.6,38.2 Z" stroke="none" fill="#231f20" stroke-width="0.8" />
<path d="M84.7,36.4 L81.2,34.6 L81.2,38.2 Z" stroke="none" fill="#231f20" stroke-width="0.8" />
<text transform="translate(71.4,16.8) rotate(-90)" x="0" y="3.2" font-size="9" text-anchor="middle" fill="#231f20" >40 nm</text>
<line x1="89.2" y1="31" x2="89.2" y2="41.5" stroke="#231f20" stroke-width="0.9" />
<line x1="103.5" y1="31" x2="103.5" y2="41.5" stroke="#231f20" stroke-width="0.9" />
<line x1="89.7" y1="36.4" x2="103" y2="36.4" stroke="#231f20" stroke-width="0.8" />
<path d="M89.7,36.4 L93.2,34.6 L93.2,38.2 Z" stroke="none" fill="#231f20" stroke-width="0.8" />
<path d="M103,36.4 L99.5,34.6 L99.5,38.2 Z" stroke="none" fill="#231f20" stroke-width="0.8" />
<text transform="translate(96.3,16.8) rotate(-90)" x="0" y="3.2" font-size="9" text-anchor="middle" fill="#231f20" >20 nm</text>
<line x1="107.6" y1="31" x2="107.6" y2="41.5" stroke="#231f20" stroke-width="0.9" />
<line x1="132.8" y1="31" x2="132.8" y2="41.5" stroke="#231f20" stroke-width="0.9" />
<line x1="108.1" y1="36.4" x2="132.3" y2="36.4" stroke="#231f20" stroke-width="0.8" />
<path d="M108.1,36.4 L111.6,34.6 L111.6,38.2 Z" stroke="none" fill="#231f20" stroke-width="0.8" />
<path d="M132.3,36.4 L128.8,34.6 L128.8,38.2 Z" stroke="none" fill="#231f20" stroke-width="0.8" />
<text transform="translate(120.2,16.8) rotate(-90)" x="0" y="3.2" font-size="9" text-anchor="middle" fill="#231f20" >25 nm</text>
<line x1="136.9" y1="31" x2="136.9" y2="41.5" stroke="#231f20" stroke-width="0.9" />
<line x1="148.5" y1="31" x2="148.5" y2="41.5" stroke="#231f20" stroke-width="0.9" />
<line x1="137.4" y1="36.4" x2="148" y2="36.4" stroke="#231f20" stroke-width="0.8" />
<path d="M137.4,36.4 L140.9,34.6 L140.9,38.2 Z" stroke="none" fill="#231f20" stroke-width="0.8" />
<path d="M148,36.4 L144.5,34.6 L144.5,38.2 Z" stroke="none" fill="#231f20" stroke-width="0.8" />
<text transform="translate(142.7,16.8) rotate(-90)" x="0" y="3.2" font-size="9" text-anchor="middle" fill="#231f20" >10 nm</text>
<line x1="152.8" y1="31" x2="152.8" y2="41.5" stroke="#231f20" stroke-width="0.9" />
<line x1="180.8" y1="31" x2="180.8" y2="41.5" stroke="#231f20" stroke-width="0.9" />
<line x1="153.3" y1="36.4" x2="180.3" y2="36.4" stroke="#231f20" stroke-width="0.8" />
<path d="M153.3,36.4 L156.8,34.6 L156.8,38.2 Z" stroke="none" fill="#231f20" stroke-width="0.8" />
<path d="M180.3,36.4 L176.8,34.6 L176.8,38.2 Z" stroke="none" fill="#231f20" stroke-width="0.8" />
<text transform="translate(166.8,16.8) rotate(-90)" x="0" y="3.2" font-size="9" text-anchor="middle" fill="#231f20" >40 nm</text>
<rect x="57.9" y="62.8" width="26.6" height="68.8" fill="#e4d6e6" />
<rect x="90" y="58.4" width="13.4" height="91.2" fill="#c9c6da" />
<rect x="107.8" y="57.5" width="24.4" height="96.8" fill="#dbe5ef" />
<rect x="137" y="58.4" width="11.6" height="113.3" fill="#dad5d1" />
<rect x="153" y="72.4" width="28.3" height="105.1" fill="#ccdbee" />
<rect x="110.5" y="71.5" width="18.2" height="71.1" fill="#1a9548" />
<text transform="translate(71,97.4) rotate(-90)" x="0" y="3.2" font-size="9" text-anchor="middle" fill="#231f20" >PEDOT:PSS</text>
<text transform="translate(96,106.5) rotate(-90)" x="0" y="3.2" font-size="9" text-anchor="middle" fill="#231f20" >PVK</text>
<text transform="translate(120,107) rotate(-90)" x="0" y="3.2" font-size="9" text-anchor="middle" fill="#ffffff" >NP@ligand</text>
<text transform="translate(142.6,115) rotate(-90)" x="0" y="3.2" font-size="9" text-anchor="middle" fill="#231f20" >DPEPO</text>
<text transform="translate(167.4,125.8) rotate(-90)" x="0" y="3.2" font-size="9" text-anchor="middle" fill="#231f20" >TmPyPB</text>
<text x="71" y="59.6" font-size="9" text-anchor="middle" fill="#231f20" >−2.3</text>
<text x="96" y="55.2" font-size="9" text-anchor="middle" fill="#231f20" >−2.2</text>
<text x="120" y="55.2" font-size="9" text-anchor="middle" fill="#231f20" >−2.5</text>
<text x="142.5" y="55.2" font-size="9" text-anchor="middle" fill="#231f20" >−2.5</text>
<text x="165.4" y="68.5" font-size="9" text-anchor="middle" fill="#231f20" >−3.0</text>
<text x="69.5" y="142.5" font-size="9" text-anchor="middle" fill="#231f20" >−5.2</text>
<text x="95" y="161.8" font-size="9" text-anchor="middle" fill="#231f20" >−5.8</text>
<text x="118.5" y="166.6" font-size="9" text-anchor="middle" fill="#231f20" >−6.0</text>
<text x="141.5" y="183" font-size="9" text-anchor="middle" fill="#231f20" >−6.5</text>
<text x="166.5" y="189" font-size="9" text-anchor="middle" fill="#231f20" >−6.7</text>
<text x="119" y="68.5" font-size="9" text-anchor="middle" fill="#231f20" ><tspan font-style="italic">m</tspan>CP</text>
<line x1="7" y1="117.5" x2="53" y2="117.5" stroke="#231f20" stroke-width="0.9" />
<text x="30" y="113.6" font-size="9" text-anchor="middle" fill="#231f20" >ITO</text>
<text x="30" y="127.7" font-size="9" text-anchor="middle" fill="#231f20" >−4.80 eV</text>
<line x1="185" y1="90.8" x2="231.5" y2="90.8" stroke="#231f20" stroke-width="0.9" />
<text x="207.8" y="86.8" font-size="9" text-anchor="middle" fill="#231f20" >LiF/Al</text>
<text x="207.6" y="101.7" font-size="9" text-anchor="middle" fill="#231f20" >−3.7</text>
<rect x="235.8" y="31" width="89.2" height="88.6" fill="#000000" />
<text x="245.7" y="47.1" font-size="9" text-anchor="start" fill="#f0f0f0" >NaGd<tspan font-size="6.2" dy="2">0.6</tspan><tspan dy="-2">F</tspan><tspan font-size="6.2" dy="2">4</tspan><tspan dy="-2">:Tb</tspan><tspan font-size="6.2" dy="2">0.4</tspan></text>
<text x="245.7" y="56.6" font-size="9" text-anchor="start" fill="#f0f0f0" >@CzPPOA</text>
<path d="M272.7,65.8 L289.6,71.5 L285,86.3 L268.1,80.1 Z" stroke="#9ee0c0" fill="#62c89c" stroke-width="0.8" filter="url(#soft)"/>
<path d="M43.4,166.5 L34.2,168.4 L27.9,161.4 L30.8,152.5 L40,150.5 L46.3,157.5 Z" stroke="#333333" fill="none" stroke-width="0.9" />
<line x1="34.4" y1="165.2" x2="31.1" y2="161.6" stroke="#333333" stroke-width="0.9" />
<line x1="33.5" y1="154.3" x2="38.3" y2="153.2" stroke="#333333" stroke-width="0.9" />
<line x1="43.4" y1="159" x2="41.9" y2="163.6" stroke="#333333" stroke-width="0.9" />
<path d="M55.7,157.5 L62,150.5 L71.2,152.5 L74.1,161.4 L67.8,168.4 L58.6,166.5 Z" stroke="#333333" fill="none" stroke-width="0.9" />
<line x1="63.7" y1="153.2" x2="68.5" y2="154.3" stroke="#333333" stroke-width="0.9" />
<line x1="70.9" y1="161.6" x2="67.6" y2="165.2" stroke="#333333" stroke-width="0.9" />
<line x1="60.1" y1="163.6" x2="58.6" y2="159" stroke="#333333" stroke-width="0.9" />
<line x1="51" y1="172" x2="43.4" y2="166.5" stroke="#333333" stroke-width="0.9" />
<line x1="46.3" y1="157.5" x2="55.7" y2="157.5" stroke="#333333" stroke-width="0.9" />
<line x1="58.6" y1="166.5" x2="51" y2="172" stroke="#333333" stroke-width="0.9" />
<rect x="48.2" y="168.4" width="5.6" height="7.2" fill="#fff"/>
<text x="51" y="174.7" font-size="7.5" text-anchor="middle" fill="#333333" >N</text>
<line x1="51" y1="175" x2="51" y2="179" stroke="#333333" stroke-width="0.9" />
<line x1="51" y1="179" x2="44" y2="183.5" stroke="#333333" stroke-width="0.9" />
<line x1="51" y1="179" x2="56.5" y2="182" stroke="#333333" stroke-width="0.9" />
<line x1="44" y1="183.5" x2="40" y2="181" stroke="#333333" stroke-width="0.9" />
<path d="M38.5,178.5 L36.5,178.5 L36.5,187.5 L38.5,187.5" stroke="#333333" fill="none" stroke-width="0.9" />
<path d="M56.5,178.5 L58.5,178.5 L58.5,187.5 L56.5,187.5" stroke="#333333" fill="none" stroke-width="0.9" />
<text x="61.5" y="189" font-size="7" text-anchor="start" fill="#333333" font-style="italic">n</text>
<text x="49.2" y="203.5" font-size="9" text-anchor="middle" fill="#231f20" >PVK</text>
<path d="M24.1,244.9 L20.2,253.5 L10.9,254.5 L5.4,246.9 L9.2,238.3 L18.5,237.3 Z" stroke="#333333" fill="none" stroke-width="0.9" />
<line x1="17.7" y1="251.5" x2="12.9" y2="252" stroke="#333333" stroke-width="0.9" />
<line x1="8.4" y1="245.7" x2="10.3" y2="241.3" stroke="#333333" stroke-width="0.9" />
<line x1="18" y1="240.5" x2="20.9" y2="244.4" stroke="#333333" stroke-width="0.9" />
<path d="M24.1,229.7 L22.1,220.5 L29.1,214.2 L38,217.1 L40,226.3 L33,232.6 Z" stroke="#333333" fill="none" stroke-width="0.9" />
<line x1="25.3" y1="220.7" x2="28.9" y2="217.4" stroke="#333333" stroke-width="0.9" />
<line x1="36.3" y1="219.8" x2="37.3" y2="224.6" stroke="#333333" stroke-width="0.9" />
<line x1="31.6" y1="229.7" x2="26.9" y2="228.2" stroke="#333333" stroke-width="0.9" />
<line x1="33" y1="242" x2="24.1" y2="244.9" stroke="#333333" stroke-width="0.9" />
<line x1="18.5" y1="237.3" x2="24.1" y2="229.7" stroke="#333333" stroke-width="0.9" />
<line x1="33" y1="232.6" x2="33" y2="242" stroke="#333333" stroke-width="0.9" />
<path d="M67,232.6 L60,226.3 L62,217.1 L70.9,214.2 L77.9,220.5 L75.9,229.7 Z" stroke="#333333" fill="none" stroke-width="0.9" />
<line x1="62.7" y1="224.6" x2="63.7" y2="219.8" stroke="#333333" stroke-width="0.9" />
<line x1="71.1" y1="217.4" x2="74.7" y2="220.7" stroke="#333333" stroke-width="0.9" />
<line x1="73.1" y1="228.2" x2="68.4" y2="229.7" stroke="#333333" stroke-width="0.9" />
<path d="M81.5,237.3 L90.8,238.3 L94.6,246.9 L89.1,254.5 L79.8,253.5 L75.9,244.9 Z" stroke="#333333" fill="none" stroke-width="0.9" />
<line x1="89.7" y1="241.3" x2="91.6" y2="245.7" stroke="#333333" stroke-width="0.9" />
<line x1="87.1" y1="252" x2="82.3" y2="251.5" stroke="#333333" stroke-width="0.9" />
<line x1="79.1" y1="244.4" x2="82" y2="240.5" stroke="#333333" stroke-width="0.9" />
<line x1="67" y1="242" x2="67" y2="232.6" stroke="#333333" stroke-width="0.9" />
<line x1="75.9" y1="229.7" x2="81.5" y2="237.3" stroke="#333333" stroke-width="0.9" />
<line x1="75.9" y1="244.9" x2="67" y2="242" stroke="#333333" stroke-width="0.9" />
<path d="M51,240.4 L42.7,245.2 L42.7,254.8 L51,259.6 L59.3,254.8 L59.3,245.2 Z" stroke="#333333" fill="none" stroke-width="0.9" />
<line x1="45" y1="247.5" x2="45" y2="252.5" stroke="#333333" stroke-width="0.9" />
<line x1="51.8" y1="256.4" x2="56.1" y2="253.9" stroke="#333333" stroke-width="0.9" />
<line x1="56.1" y1="246.1" x2="51.8" y2="243.6" stroke="#333333" stroke-width="0.9" />
<line x1="35" y1="242.6" x2="42.7" y2="245.2" stroke="#333333" stroke-width="0.9" />
<line x1="65" y1="242.6" x2="59.3" y2="245.2" stroke="#333333" stroke-width="0.9" />
<rect x="30.2" y="238.4" width="5.6" height="7.2" fill="#fff"/>
<text x="33" y="244.7" font-size="7.5" text-anchor="middle" fill="#333333" >N</text>
<rect x="64.2" y="238.4" width="5.6" height="7.2" fill="#fff"/>
<text x="67" y="244.7" font-size="7.5" text-anchor="middle" fill="#333333" >N</text>
<text x="49.2" y="273.3" font-size="9" text-anchor="middle" fill="#231f20" ><tspan font-style="italic">m</tspan>CP</text>
<path d="M144.3,199.6 L136.2,204.2 L136.2,213.6 L144.3,218.2 L152.4,213.6 L152.4,204.2 Z" stroke="#333333" fill="none" stroke-width="0.9" />
<line x1="143.5" y1="202.7" x2="139.3" y2="205.1" stroke="#333333" stroke-width="0.9" />
<line x1="139.3" y1="212.7" x2="143.5" y2="215.1" stroke="#333333" stroke-width="0.9" />
<line x1="150.1" y1="211.3" x2="150.1" y2="206.5" stroke="#333333" stroke-width="0.9" />
<path d="M179.7,199.6 L171.6,204.2 L171.6,213.6 L179.7,218.2 L187.8,213.6 L187.8,204.2 Z" stroke="#333333" fill="none" stroke-width="0.9" />
<line x1="178.9" y1="202.7" x2="174.7" y2="205.1" stroke="#333333" stroke-width="0.9" />
<line x1="174.7" y1="212.7" x2="178.9" y2="215.1" stroke="#333333" stroke-width="0.9" />
<line x1="185.5" y1="211.3" x2="185.5" y2="206.5" stroke="#333333" stroke-width="0.9" />
<line x1="152.4" y1="213.6" x2="158.6" y2="219.6" stroke="#333333" stroke-width="0.9" />
<line x1="163.8" y1="219.6" x2="171.6" y2="213.6" stroke="#333333" stroke-width="0.9" />
<rect x="158.4" y="218.2" width="5.6" height="7.2" fill="#fff"/>
<text x="161.2" y="224.5" font-size="7.5" text-anchor="middle" fill="#333333" >O</text>
<line x1="144.3" y1="218.2" x2="144.3" y2="228" stroke="#333333" stroke-width="0.9" />
<line x1="179.7" y1="218.2" x2="179.7" y2="228" stroke="#333333" stroke-width="0.9" />
<rect x="141.5" y="227.8" width="5.6" height="7.2" fill="#fff"/>
<text x="144.3" y="234.1" font-size="7.5" text-anchor="middle" fill="#333333" >P</text>
<rect x="176.9" y="227.8" width="5.6" height="7.2" fill="#fff"/>
<text x="179.7" y="234.1" font-size="7.5" text-anchor="middle" fill="#333333" >P</text>
<path d="M132.8,231.4 L128.2,223.3 L118.8,223.3 L114.2,231.4 L118.8,239.5 L128.2,239.5 Z" stroke="#333333" fill="none" stroke-width="0.9" />
<line x1="125.9" y1="225.6" x2="121.1" y2="225.6" stroke="#333333" stroke-width="0.9" />
<line x1="117.3" y1="232.2" x2="119.7" y2="236.4" stroke="#333333" stroke-width="0.9" />
<line x1="127.3" y1="236.4" x2="129.7" y2="232.2" stroke="#333333" stroke-width="0.9" />
<path d="M209.8,231.4 L205.2,223.3 L195.8,223.3 L191.2,231.4 L195.8,239.5 L205.2,239.5 Z" stroke="#333333" fill="none" stroke-width="0.9" />
<line x1="202.9" y1="225.6" x2="198.1" y2="225.6" stroke="#333333" stroke-width="0.9" />
<line x1="194.3" y1="232.2" x2="196.7" y2="236.4" stroke="#333333" stroke-width="0.9" />
<line x1="204.3" y1="236.4" x2="206.7" y2="232.2" stroke="#333333" stroke-width="0.9" />
<path d="M144.3,242.2 L136.2,246.8 L136.2,256.1 L144.3,260.8 L152.4,256.1 L152.4,246.8 Z" stroke="#333333" fill="none" stroke-width="0.9" />
<line x1="143.5" y1="245.3" x2="139.3" y2="247.7" stroke="#333333" stroke-width="0.9" />
<line x1="139.3" y1="255.3" x2="143.5" y2="257.7" stroke="#333333" stroke-width="0.9" />
<line x1="150.1" y1="253.9" x2="150.1" y2="249.1" stroke="#333333" stroke-width="0.9" />
<path d="M179.7,242.2 L171.6,246.8 L171.6,256.1 L179.7,260.8 L187.8,256.1 L187.8,246.8 Z" stroke="#333333" fill="none" stroke-width="0.9" />
<line x1="178.9" y1="245.3" x2="174.7" y2="247.7" stroke="#333333" stroke-width="0.9" />
<line x1="174.7" y1="255.3" x2="178.9" y2="257.7" stroke="#333333" stroke-width="0.9" />
<line x1="185.5" y1="253.9" x2="185.5" y2="249.1" stroke="#333333" stroke-width="0.9" />
<line x1="132.8" y1="231.4" x2="141.2" y2="231.4" stroke="#333333" stroke-width="0.9" />
<line x1="147.4" y1="231.4" x2="149.5" y2="231.4" stroke="#333333" stroke-width="0.9" />
<line x1="182.8" y1="231.4" x2="191.2" y2="231.4" stroke="#333333" stroke-width="0.9" />
<line x1="144.3" y1="234.6" x2="144.3" y2="242.2" stroke="#333333" stroke-width="0.9" />
<line x1="179.7" y1="234.6" x2="179.7" y2="242.2" stroke="#333333" stroke-width="0.9" />
<line x1="148" y1="230.1" x2="151.6" y2="230.1" stroke="#333333" stroke-width="0.7" />
<line x1="148" y1="232.5" x2="151.6" y2="232.5" stroke="#333333" stroke-width="0.7" />
<text x="155.3" y="234.1" font-size="7.5" text-anchor="middle" fill="#333333" >O</text>
<line x1="172.3" y1="230.1" x2="176" y2="230.1" stroke="#333333" stroke-width="0.7" />
<line x1="172.3" y1="232.5" x2="176" y2="232.5" stroke="#333333" stroke-width="0.7" />
<text x="168.6" y="234.1" font-size="7.5" text-anchor="middle" fill="#333333" >O</text>
<text x="158.8" y="273.1" font-size="9" text-anchor="middle" fill="#231f20" >DPEPO</text>
<path d="M263.3,193.9 L255,198.7 L255,208.3 L263.3,213.1 L271.6,208.3 L271.6,198.7 Z" stroke="#333333" fill="none" stroke-width="0.9" />
<line x1="257.3" y1="201" x2="257.3" y2="206" stroke="#333333" stroke-width="0.9" />
<line x1="264.1" y1="209.9" x2="268.4" y2="207.4" stroke="#333333" stroke-width="0.9" />
<line x1="268.4" y1="199.6" x2="264.1" y2="197.1" stroke="#333333" stroke-width="0.9" />
<path d="M263.3,165.2 L255,170 L255,179.6 L263.3,184.4 L271.6,179.6 L271.6,170 Z" stroke="#333333" fill="none" stroke-width="0.9" />
<line x1="262.5" y1="168.4" x2="258.2" y2="170.9" stroke="#333333" stroke-width="0.9" />
<line x1="258.2" y1="178.7" x2="262.5" y2="181.2" stroke="#333333" stroke-width="0.9" />
<line x1="269.3" y1="177.3" x2="269.3" y2="172.3" stroke="#333333" stroke-width="0.9" />
<line x1="263.3" y1="193.9" x2="263.3" y2="184.4" stroke="#333333" stroke-width="0.9" />
<path d="M238.4,150.8 L230.1,155.6 L230.1,165.2 L238.4,170 L246.8,165.2 L246.8,155.6 Z" stroke="#333333" fill="none" stroke-width="0.9" />
<line x1="232.5" y1="158" x2="232.5" y2="162.9" stroke="#333333" stroke-width="0.9" />
<line x1="239.3" y1="166.9" x2="243.6" y2="164.4" stroke="#333333" stroke-width="0.9" />
<line x1="243.6" y1="156.5" x2="239.3" y2="154" stroke="#333333" stroke-width="0.9" />
<line x1="255" y1="170" x2="246.8" y2="165.2" stroke="#333333" stroke-width="0.9" />
<path d="M238.4,208.3 L230.1,213.1 L230.1,222.7 L238.4,227.5 L246.8,222.7 L246.8,213.1 Z" stroke="#333333" fill="none" stroke-width="0.9" />
<line x1="237.6" y1="211.4" x2="233.3" y2="213.9" stroke="#333333" stroke-width="0.9" />
<line x1="233.3" y1="221.8" x2="237.6" y2="224.3" stroke="#333333" stroke-width="0.9" />
<line x1="244.4" y1="220.3" x2="244.4" y2="215.4" stroke="#333333" stroke-width="0.9" />
<line x1="255" y1="208.3" x2="246.8" y2="213.1" stroke="#333333" stroke-width="0.9" />
<path d="M238.4,237 L230.1,241.8 L230.1,251.4 L238.4,256.2 L246.8,251.4 L246.8,241.8 Z" stroke="#333333" fill="none" stroke-width="0.9" />
<line x1="237.6" y1="240.1" x2="233.3" y2="242.6" stroke="#333333" stroke-width="0.9" />
<line x1="233.3" y1="250.5" x2="237.6" y2="253" stroke="#333333" stroke-width="0.9" />
<line x1="244.4" y1="249" x2="244.4" y2="244.1" stroke="#333333" stroke-width="0.9" />
<line x1="238.4" y1="227.5" x2="238.4" y2="237" stroke="#333333" stroke-width="0.9" />
<path d="M288.2,208.3 L279.8,213.1 L279.8,222.7 L288.2,227.5 L296.5,222.7 L296.5,213.1 Z" stroke="#333333" fill="none" stroke-width="0.9" />
<line x1="282.2" y1="215.4" x2="282.2" y2="220.3" stroke="#333333" stroke-width="0.9" />
<line x1="289" y1="224.3" x2="293.3" y2="221.8" stroke="#333333" stroke-width="0.9" />
<line x1="293.3" y1="213.9" x2="289" y2="211.4" stroke="#333333" stroke-width="0.9" />
<line x1="271.6" y1="208.3" x2="279.8" y2="213.1" stroke="#333333" stroke-width="0.9" />
<path d="M313,193.9 L304.7,198.7 L304.7,208.3 L313,213.1 L321.3,208.3 L321.3,198.7 Z" stroke="#333333" fill="none" stroke-width="0.9" />
<line x1="312.2" y1="197.1" x2="307.9" y2="199.6" stroke="#333333" stroke-width="0.9" />
<line x1="307.9" y1="207.4" x2="312.2" y2="209.9" stroke="#333333" stroke-width="0.9" />
<line x1="319" y1="206" x2="319" y2="201" stroke="#333333" stroke-width="0.9" />
<line x1="296.5" y1="213.1" x2="304.7" y2="208.3" stroke="#333333" stroke-width="0.9" />
<rect x="227.3" y="161.7" width="5.6" height="7.2" fill="#fff"/>
<text x="230.1" y="167.9" font-size="7.5" text-anchor="middle" fill="#333333" >N</text>
<rect x="244" y="247.8" width="5.6" height="7.2" fill="#fff"/>
<text x="246.8" y="254.1" font-size="7.5" text-anchor="middle" fill="#333333" >N</text>
<rect x="310.2" y="190.3" width="5.6" height="7.2" fill="#fff"/>
<text x="313" y="196.6" font-size="7.5" text-anchor="middle" fill="#333333" >N</text>
<text x="273.1" y="273.2" font-size="9" text-anchor="middle" fill="#231f20" >TmPyPB</text>
<text x="365.5" y="7.9" font-size="11" text-anchor="start" fill="#231f20" font-weight="bold">b</text>
<g clip-path="url(#gam)"><g filter="url(#blurv)"><rect x="439.9" y="47.9" width="183.3" height="4" fill="url(#cg0)"/><rect x="439.9" y="50.9" width="183.3" height="4" fill="url(#cg1)"/><rect x="439.9" y="53.9" width="183.3" height="4" fill="url(#cg2)"/><rect x="439.9" y="56.9" width="183.3" height="4" fill="url(#cg3)"/><rect x="439.9" y="59.9" width="183.3" height="4" fill="url(#cg4)"/><rect x="439.9" y="62.9" width="183.3" height="4" fill="url(#cg5)"/><rect x="439.9" y="65.9" width="183.3" height="4" fill="url(#cg6)"/><rect x="439.9" y="68.9" width="183.3" height="4" fill="url(#cg7)"/><rect x="439.9" y="71.9" width="183.3" height="4" fill="url(#cg8)"/><rect x="439.9" y="74.9" width="183.3" height="4" fill="url(#cg9)"/><rect x="439.9" y="77.9" width="183.3" height="4" fill="url(#cg10)"/><rect x="439.9" y="80.9" width="183.3" height="4" fill="url(#cg11)"/><rect x="439.9" y="83.9" width="183.3" height="4" fill="url(#cg12)"/><rect x="439.9" y="86.9" width="183.3" height="4" fill="url(#cg13)"/><rect x="439.9" y="89.9" width="183.3" height="4" fill="url(#cg14)"/><rect x="439.9" y="92.9" width="183.3" height="4" fill="url(#cg15)"/><rect x="439.9" y="95.9" width="183.3" height="4" fill="url(#cg16)"/><rect x="439.9" y="98.9" width="183.3" height="4" fill="url(#cg17)"/><rect x="439.9" y="101.9" width="183.3" height="4" fill="url(#cg18)"/><rect x="439.9" y="104.9" width="183.3" height="4" fill="url(#cg19)"/><rect x="439.9" y="107.9" width="183.3" height="4" fill="url(#cg20)"/><rect x="439.9" y="110.9" width="183.3" height="4" fill="url(#cg21)"/><rect x="439.9" y="113.9" width="183.3" height="4" fill="url(#cg22)"/><rect x="439.9" y="116.9" width="183.3" height="4" fill="url(#cg23)"/><rect x="439.9" y="119.9" width="183.3" height="4" fill="url(#cg24)"/><rect x="439.9" y="122.9" width="183.3" height="4" fill="url(#cg25)"/><rect x="439.9" y="125.9" width="183.3" height="4" fill="url(#cg26)"/><rect x="439.9" y="128.9" width="183.3" height="4" fill="url(#cg27)"/><rect x="439.9" y="131.9" width="183.3" height="4" fill="url(#cg28)"/><rect x="439.9" y="134.9" width="183.3" height="4" fill="url(#cg29)"/><rect x="439.9" y="137.9" width="183.3" height="4" fill="url(#cg30)"/><rect x="439.9" y="140.9" width="183.3" height="4" fill="url(#cg31)"/><rect x="439.9" y="143.9" width="183.3" height="4" fill="url(#cg32)"/><rect x="439.9" y="146.9" width="183.3" height="4" fill="url(#cg33)"/><rect x="439.9" y="149.9" width="183.3" height="4" fill="url(#cg34)"/><rect x="439.9" y="152.9" width="183.3" height="4" fill="url(#cg35)"/><rect x="439.9" y="155.9" width="183.3" height="4" fill="url(#cg36)"/><rect x="439.9" y="158.9" width="183.3" height="4" fill="url(#cg37)"/><rect x="439.9" y="161.9" width="183.3" height="4" fill="url(#cg38)"/><rect x="439.9" y="164.9" width="183.3" height="4" fill="url(#cg39)"/><rect x="439.9" y="167.9" width="183.3" height="4" fill="url(#cg40)"/><rect x="439.9" y="170.9" width="183.3" height="4" fill="url(#cg41)"/><rect x="439.9" y="173.9" width="183.3" height="4" fill="url(#cg42)"/><rect x="439.9" y="176.9" width="183.3" height="4" fill="url(#cg43)"/><rect x="439.9" y="179.9" width="183.3" height="4" fill="url(#cg44)"/><rect x="439.9" y="182.9" width="183.3" height="4" fill="url(#cg45)"/><rect x="439.9" y="185.9" width="183.3" height="4" fill="url(#cg46)"/><rect x="439.9" y="188.9" width="183.3" height="4" fill="url(#cg47)"/><rect x="439.9" y="191.9" width="183.3" height="4" fill="url(#cg48)"/><rect x="439.9" y="194.9" width="183.3" height="4" fill="url(#cg49)"/><rect x="439.9" y="197.9" width="183.3" height="4" fill="url(#cg50)"/><rect x="439.9" y="200.9" width="183.3" height="4" fill="url(#cg51)"/><rect x="439.9" y="203.9" width="183.3" height="4" fill="url(#cg52)"/><rect x="439.9" y="206.9" width="183.3" height="4" fill="url(#cg53)"/><rect x="439.9" y="209.9" width="183.3" height="4" fill="url(#cg54)"/><rect x="439.9" y="212.9" width="183.3" height="4" fill="url(#cg55)"/><rect x="439.9" y="215.9" width="183.3" height="4" fill="url(#cg56)"/><rect x="439.9" y="218.9" width="183.3" height="4" fill="url(#cg57)"/><rect x="439.9" y="221.9" width="183.3" height="4" fill="url(#cg58)"/><rect x="439.9" y="224.9" width="183.3" height="4" fill="url(#cg59)"/><rect x="439.9" y="227.9" width="183.3" height="4" fill="url(#cg60)"/><rect x="439.9" y="230.9" width="183.3" height="4" fill="url(#cg61)"/><rect x="439.9" y="233.9" width="183.3" height="4" fill="url(#cg62)"/><rect x="439.9" y="236.9" width="183.3" height="4" fill="url(#cg63)"/><rect x="439.9" y="239.9" width="183.3" height="4" fill="url(#cg64)"/><rect x="439.9" y="242.9" width="183.3" height="4" fill="url(#cg65)"/></g></g>
<line x1="397.7" y1="31.9" x2="397.7" y2="252.3" stroke="#555" stroke-width="0.8" />
<line x1="397.7" y1="252" x2="648" y2="252" stroke="#555" stroke-width="0.8" />
<line x1="397.7" y1="245.8" x2="402.5" y2="245.8" stroke="#555" stroke-width="0.8" />
<text x="392.7" y="249" font-size="9" text-anchor="end" fill="#231f20" >0</text>
<line x1="397.7" y1="198.8" x2="402.5" y2="198.8" stroke="#555" stroke-width="0.8" />
<text x="392.7" y="202" font-size="9" text-anchor="end" fill="#231f20" >0.2</text>
<line x1="397.7" y1="151.8" x2="402.5" y2="151.8" stroke="#555" stroke-width="0.8" />
<text x="392.7" y="155" font-size="9" text-anchor="end" fill="#231f20" >0.4</text>
<line x1="397.7" y1="104.8" x2="402.5" y2="104.8" stroke="#555" stroke-width="0.8" />
<text x="392.7" y="108" font-size="9" text-anchor="end" fill="#231f20" >0.6</text>
<line x1="397.7" y1="57.8" x2="402.5" y2="57.8" stroke="#555" stroke-width="0.8" />
<text x="392.7" y="61" font-size="9" text-anchor="end" fill="#231f20" >0.8</text>
<line x1="397.7" y1="222.3" x2="401.5" y2="222.3" stroke="#777" stroke-width="0.6" />
<line x1="397.7" y1="175.3" x2="401.5" y2="175.3" stroke="#777" stroke-width="0.6" />
<line x1="397.7" y1="128.3" x2="401.5" y2="128.3" stroke="#777" stroke-width="0.6" />
<line x1="397.7" y1="81.3" x2="401.5" y2="81.3" stroke="#777" stroke-width="0.6" />
<line x1="444.6" y1="252" x2="444.6" y2="247.5" stroke="#555" stroke-width="0.8" />
<text x="444.6" y="263.8" font-size="9" text-anchor="middle" fill="#231f20" >0</text>
<line x1="468.1" y1="252" x2="468.1" y2="247.5" stroke="#555" stroke-width="0.8" />
<text x="468.1" y="263.8" font-size="9" text-anchor="middle" fill="#231f20" >0.1</text>
<line x1="491.6" y1="252" x2="491.6" y2="247.5" stroke="#555" stroke-width="0.8" />
<text x="491.6" y="263.8" font-size="9" text-anchor="middle" fill="#231f20" >0.2</text>
<line x1="515.1" y1="252" x2="515.1" y2="247.5" stroke="#555" stroke-width="0.8" />
<text x="515.1" y="263.8" font-size="9" text-anchor="middle" fill="#231f20" >0.3</text>
<line x1="538.6" y1="252" x2="538.6" y2="247.5" stroke="#555" stroke-width="0.8" />
<text x="538.6" y="263.8" font-size="9" text-anchor="middle" fill="#231f20" >0.4</text>
<line x1="562.1" y1="252" x2="562.1" y2="247.5" stroke="#555" stroke-width="0.8" />
<text x="562.1" y="263.8" font-size="9" text-anchor="middle" fill="#231f20" >0.5</text>
<line x1="585.6" y1="252" x2="585.6" y2="247.5" stroke="#555" stroke-width="0.8" />
<text x="585.6" y="263.8" font-size="9" text-anchor="middle" fill="#231f20" >0.6</text>
<line x1="609.1" y1="252" x2="609.1" y2="247.5" stroke="#555" stroke-width="0.8" />
<text x="609.1" y="263.8" font-size="9" text-anchor="middle" fill="#231f20" >0.7</text>
<line x1="632.6" y1="252" x2="632.6" y2="247.5" stroke="#555" stroke-width="0.8" />
<text x="632.6" y="263.8" font-size="9" text-anchor="middle" fill="#231f20" >0.8</text>
<text x="538.6" y="274.5" font-size="9" text-anchor="middle" fill="#231f20" font-style="italic">x</text>
<text x="371" y="144" font-size="9" text-anchor="middle" fill="#231f20" font-style="italic">y</text>
<line x1="478.4" y1="238.8" x2="475.8" y2="241.2" stroke="#b4b4b4" stroke-width="0.6" />
<line x1="476.4" y1="236.4" x2="473.6" y2="238.4" stroke="#b4b4b4" stroke-width="0.6" />
<line x1="473.8" y1="232.2" x2="470.7" y2="233.9" stroke="#b4b4b4" stroke-width="0.6" />
<line x1="470.4" y1="225.4" x2="467.1" y2="226.8" stroke="#b4b4b4" stroke-width="0.6" />
<line x1="466.1" y1="214.6" x2="462.8" y2="215.8" stroke="#b4b4b4" stroke-width="0.6" />
<line x1="460.7" y1="198.6" x2="457.4" y2="199.6" stroke="#b4b4b4" stroke-width="0.6" />
<line x1="455.3" y1="176.5" x2="451.8" y2="177.2" stroke="#b4b4b4" stroke-width="0.6" />
<line x1="450.1" y1="148.8" x2="446.7" y2="149.3" stroke="#b4b4b4" stroke-width="0.6" />
<line x1="446.5" y1="119.3" x2="443" y2="119.6" stroke="#b4b4b4" stroke-width="0.6" />
<line x1="445.5" y1="91.9" x2="442" y2="91.8" stroke="#b4b4b4" stroke-width="0.6" />
<line x1="447.9" y1="69.5" x2="444.5" y2="68.7" stroke="#b4b4b4" stroke-width="0.6" />
<line x1="453.7" y1="55" x2="450.9" y2="52.9" stroke="#b4b4b4" stroke-width="0.6" />
<line x1="462.1" y1="49.9" x2="461.4" y2="46.4" stroke="#b4b4b4" stroke-width="0.6" />
<line x1="471.4" y1="51.6" x2="472.6" y2="48.3" stroke="#b4b4b4" stroke-width="0.6" />
<line x1="481" y1="56.4" x2="482.7" y2="53.4" stroke="#b4b4b4" stroke-width="0.6" />
<line x1="489.9" y1="62.1" x2="491.9" y2="59.2" stroke="#b4b4b4" stroke-width="0.6" />
<line x1="498.6" y1="68.5" x2="500.7" y2="65.8" stroke="#b4b4b4" stroke-width="0.6" />
<line x1="507.1" y1="75.6" x2="509.3" y2="72.9" stroke="#b4b4b4" stroke-width="0.6" />
<line x1="515.5" y1="83.1" x2="517.8" y2="80.5" stroke="#b4b4b4" stroke-width="0.6" />
<line x1="523.9" y1="91" x2="526.3" y2="88.4" stroke="#b4b4b4" stroke-width="0.6" />
<line x1="532.3" y1="99" x2="534.7" y2="96.5" stroke="#b4b4b4" stroke-width="0.6" />
<line x1="540.6" y1="107.2" x2="543.1" y2="104.7" stroke="#b4b4b4" stroke-width="0.6" />
<line x1="549" y1="115.4" x2="551.4" y2="113" stroke="#b4b4b4" stroke-width="0.6" />
<line x1="557.1" y1="123.6" x2="559.6" y2="121.1" stroke="#b4b4b4" stroke-width="0.6" />
<line x1="565" y1="131.4" x2="567.5" y2="129" stroke="#b4b4b4" stroke-width="0.6" />
<line x1="572.6" y1="139" x2="575.1" y2="136.5" stroke="#b4b4b4" stroke-width="0.6" />
<line x1="579.8" y1="146.1" x2="582.2" y2="143.6" stroke="#b4b4b4" stroke-width="0.6" />
<line x1="586.3" y1="152.6" x2="588.8" y2="150.1" stroke="#b4b4b4" stroke-width="0.6" />
<line x1="591.9" y1="158.3" x2="594.4" y2="155.8" stroke="#b4b4b4" stroke-width="0.6" />
<line x1="596.9" y1="163.2" x2="599.4" y2="160.7" stroke="#b4b4b4" stroke-width="0.6" />
<line x1="601.1" y1="167.3" x2="603.5" y2="164.8" stroke="#b4b4b4" stroke-width="0.6" />
<line x1="604.4" y1="170.7" x2="606.9" y2="168.2" stroke="#b4b4b4" stroke-width="0.6" />
<line x1="607.1" y1="173.3" x2="609.6" y2="170.9" stroke="#b4b4b4" stroke-width="0.6" />
<line x1="609.2" y1="175.5" x2="611.7" y2="173" stroke="#b4b4b4" stroke-width="0.6" />
<line x1="611" y1="177.2" x2="613.4" y2="174.7" stroke="#b4b4b4" stroke-width="0.6" />
<text x="460.8" y="43.5" font-size="8.5" text-anchor="middle" fill="#8dbd5c" >520</text>
<text x="433" y="71.2" font-size="8.5" text-anchor="middle" fill="#93c07a" >510</text>
<text x="507" y="64.6" font-size="8.5" text-anchor="middle" fill="#96c25a" >540</text>
<text x="545" y="99.9" font-size="8.5" text-anchor="middle" fill="#b4c94a" >560</text>
<text x="575" y="127.6" font-size="8.5" text-anchor="middle" fill="#e6b94a" >580</text>
<text x="601.8" y="154.2" font-size="8.5" text-anchor="middle" fill="#d8524a" >600</text>
<text x="618" y="168.2" font-size="8.5" text-anchor="middle" fill="#d0485a" >620</text>
<text x="630.5" y="185.5" font-size="8.5" text-anchor="middle" fill="#c84050" >700</text>
<text x="433" y="123" font-size="8.5" text-anchor="middle" fill="#86c4bd" >500</text>
<text x="440.7" y="183" font-size="8.5" text-anchor="middle" fill="#8ac9d3" >490</text>
<text x="452.3" y="222.2" font-size="8.5" text-anchor="middle" fill="#5f86b8" >480</text>
<text x="460.8" y="241.4" font-size="8.5" text-anchor="middle" fill="#6d67aa" >460</text>
<text x="497.6" y="249.9" font-size="8.5" text-anchor="middle" fill="#7a6cae" >380</text>
<circle cx="511.8" cy="113.4" r="3" fill="#c4ecc8" stroke="#1d6a3b" stroke-width="1.7"/>
<circle cx="500.8" cy="184.9" r="3" fill="#c8ecc8" stroke="#4aa866" stroke-width="1.4"/>
<circle cx="502.3" cy="198.5" r="3" fill="#d8ecb0" stroke="#c0dc98" stroke-width="1"/>
<text x="511.5" y="131" font-size="9" text-anchor="middle" fill="#231f20" >(0.28, 0.54)</text>
<text x="510" y="188.7" font-size="9" text-anchor="start" fill="#231f20" >(0.23, 0.26)</text>
<text x="510" y="201.9" font-size="9" text-anchor="start" fill="#231f20" >(0.24, 0.20)</text>
<text x="557" y="45.4" font-size="9" text-anchor="start" fill="#231f20" >NaGd<tspan font-size="6.7" dy="2.3">0.6</tspan><tspan dy="-2.3">F</tspan><tspan font-size="6.7" dy="2.3">4</tspan><tspan dy="-2.3">:Tb</tspan><tspan font-size="6.7" dy="2.3">0.4</tspan><tspan dy="-2.3">@ligand</tspan></text>
<text x="573.4" y="62.3" font-size="9" text-anchor="start" fill="#231f20" >Ligand =</text>
<circle cx="619.8" cy="59.6" r="2.8" fill="#d4dcc0" stroke="#a0ae90" stroke-width="1.2"/>
<text x="627.2" y="62.8" font-size="9" text-anchor="start" fill="#231f20" >OA</text>
<circle cx="619.8" cy="74" r="2.8" fill="#b0dcc0" stroke="#5aa87a" stroke-width="1.2"/>
<text x="627.2" y="77.2" font-size="9" text-anchor="start" fill="#231f20" >Null</text>
<circle cx="619.8" cy="88.8" r="2.8" fill="#7cc0a0" stroke="#1d6a4b" stroke-width="1.2"/>
<text x="627.2" y="92" font-size="9" text-anchor="start" fill="#231f20" >CzPPOA</text>
<text x="0" y="298.7" font-size="11" text-anchor="start" fill="#231f20" font-weight="bold">c</text>
<line x1="38" y1="298" x2="319.3" y2="298" stroke="#9a9a9a" stroke-width="0.9" />
<line x1="38" y1="298" x2="38" y2="507.5" stroke="#5a5a5a" stroke-width="0.8" />
<line x1="319.3" y1="298" x2="319.3" y2="507.5" stroke="#5a5a5a" stroke-width="0.8" />
<line x1="38" y1="507.5" x2="319.3" y2="507.5" stroke="#5a5a5a" stroke-width="0.8" />
<line x1="38" y1="507.5" x2="42" y2="507.5" stroke="#5a5a5a" stroke-width="0.8" />
<text x="33" y="511" font-size="9" text-anchor="end" fill="#231f20" >10<tspan font-size="6" dy="-4">0</tspan></text>
<line x1="38" y1="481.3" x2="40.5" y2="481.3" stroke="#5a5a5a" stroke-width="0.6" />
<line x1="38" y1="466" x2="40.5" y2="466" stroke="#5a5a5a" stroke-width="0.6" />
<line x1="38" y1="455.1" x2="40.5" y2="455.1" stroke="#5a5a5a" stroke-width="0.6" />
<line x1="38" y1="446.7" x2="40.5" y2="446.7" stroke="#5a5a5a" stroke-width="0.6" />
<line x1="38" y1="439.8" x2="40.5" y2="439.8" stroke="#5a5a5a" stroke-width="0.6" />
<line x1="38" y1="434" x2="40.5" y2="434" stroke="#5a5a5a" stroke-width="0.6" />
<line x1="38" y1="428.9" x2="40.5" y2="428.9" stroke="#5a5a5a" stroke-width="0.6" />
<line x1="38" y1="424.5" x2="40.5" y2="424.5" stroke="#5a5a5a" stroke-width="0.6" />
<line x1="38" y1="420.5" x2="42" y2="420.5" stroke="#5a5a5a" stroke-width="0.8" />
<text x="33" y="424" font-size="9" text-anchor="end" fill="#231f20" >10<tspan font-size="6" dy="-4">1</tspan></text>
<line x1="38" y1="394.3" x2="40.5" y2="394.3" stroke="#5a5a5a" stroke-width="0.6" />
<line x1="38" y1="379" x2="40.5" y2="379" stroke="#5a5a5a" stroke-width="0.6" />
<line x1="38" y1="368.1" x2="40.5" y2="368.1" stroke="#5a5a5a" stroke-width="0.6" />
<line x1="38" y1="359.7" x2="40.5" y2="359.7" stroke="#5a5a5a" stroke-width="0.6" />
<line x1="38" y1="352.8" x2="40.5" y2="352.8" stroke="#5a5a5a" stroke-width="0.6" />
<line x1="38" y1="347" x2="40.5" y2="347" stroke="#5a5a5a" stroke-width="0.6" />
<line x1="38" y1="341.9" x2="40.5" y2="341.9" stroke="#5a5a5a" stroke-width="0.6" />
<line x1="38" y1="337.5" x2="40.5" y2="337.5" stroke="#5a5a5a" stroke-width="0.6" />
<line x1="38" y1="333.5" x2="42" y2="333.5" stroke="#5a5a5a" stroke-width="0.8" />
<text x="33" y="337" font-size="9" text-anchor="end" fill="#231f20" >10<tspan font-size="6" dy="-4">2</tspan></text>
<line x1="38" y1="307.3" x2="40.5" y2="307.3" stroke="#5a5a5a" stroke-width="0.6" />
<line x1="315.8" y1="507.5" x2="319.3" y2="507.5" stroke="#5a5a5a" stroke-width="0.8" />
<text x="323.5" y="510.8" font-size="9" text-anchor="start" fill="#231f20" >0</text>
<line x1="317.3" y1="486.6" x2="319.3" y2="486.6" stroke="#5a5a5a" stroke-width="0.6" />
<line x1="315.8" y1="465.6" x2="319.3" y2="465.6" stroke="#5a5a5a" stroke-width="0.8" />
<text x="323.5" y="468.9" font-size="9" text-anchor="start" fill="#231f20" >10</text>
<line x1="317.3" y1="444.6" x2="319.3" y2="444.6" stroke="#5a5a5a" stroke-width="0.6" />
<line x1="315.8" y1="423.7" x2="319.3" y2="423.7" stroke="#5a5a5a" stroke-width="0.8" />
<text x="323.5" y="427" font-size="9" text-anchor="start" fill="#231f20" >20</text>
<line x1="317.3" y1="402.8" x2="319.3" y2="402.8" stroke="#5a5a5a" stroke-width="0.6" />
<line x1="315.8" y1="381.8" x2="319.3" y2="381.8" stroke="#5a5a5a" stroke-width="0.8" />
<text x="323.5" y="385.1" font-size="9" text-anchor="start" fill="#231f20" >30</text>
<line x1="317.3" y1="360.9" x2="319.3" y2="360.9" stroke="#5a5a5a" stroke-width="0.6" />
<line x1="315.8" y1="339.9" x2="319.3" y2="339.9" stroke="#5a5a5a" stroke-width="0.8" />
<text x="323.5" y="343.2" font-size="9" text-anchor="start" fill="#231f20" >40</text>
<line x1="317.3" y1="318.9" x2="319.3" y2="318.9" stroke="#5a5a5a" stroke-width="0.6" />
<line x1="315.8" y1="298" x2="319.3" y2="298" stroke="#5a5a5a" stroke-width="0.8" />
<text x="323.5" y="301.3" font-size="9" text-anchor="start" fill="#231f20" >50</text>
<line x1="61.2" y1="507.5" x2="61.2" y2="504.5" stroke="#5a5a5a" stroke-width="0.7" />
<line x1="89.5" y1="507.5" x2="89.5" y2="504.5" stroke="#5a5a5a" stroke-width="0.7" />
<line x1="118.4" y1="507.5" x2="118.4" y2="504.5" stroke="#5a5a5a" stroke-width="0.7" />
<line x1="148.1" y1="507.5" x2="148.1" y2="504" stroke="#5a5a5a" stroke-width="0.8" />
<text x="148.1" y="518" font-size="9" text-anchor="middle" fill="#231f20" >0</text>
<line x1="205.2" y1="507.5" x2="205.2" y2="504" stroke="#5a5a5a" stroke-width="0.8" />
<text x="205.2" y="518" font-size="9" text-anchor="middle" fill="#231f20" >5</text>
<line x1="262.4" y1="507.5" x2="262.4" y2="504" stroke="#5a5a5a" stroke-width="0.8" />
<text x="262.4" y="518" font-size="9" text-anchor="middle" fill="#231f20" >10</text>
<line x1="319.5" y1="507.5" x2="319.5" y2="504" stroke="#5a5a5a" stroke-width="0.8" />
<text x="319.5" y="518" font-size="9" text-anchor="middle" fill="#231f20" >15</text>
<line x1="176.7" y1="507.5" x2="176.7" y2="505" stroke="#5a5a5a" stroke-width="0.6" />
<line x1="233.8" y1="507.5" x2="233.8" y2="505" stroke="#5a5a5a" stroke-width="0.6" />
<line x1="291" y1="507.5" x2="291" y2="505" stroke="#5a5a5a" stroke-width="0.6" />
<text x="179" y="530.6" font-size="9" text-anchor="middle" fill="#231f20" >Voltage (V)</text>
<text transform="translate(10.5,400) rotate(-90)" x="0" y="3.2" font-size="9" text-anchor="middle" fill="#231f20" >Luminance (cd m<tspan font-size="6" dy="-3.5">−2</tspan><tspan dy="3.5">)</tspan></text>
<text transform="translate(347,402) rotate(-90)" x="0" y="3.2" font-size="9" text-anchor="middle" fill="#231f20" ><tspan font-style="italic">J</tspan> (mA cm<tspan font-size="6" dy="-3.5">−2</tspan><tspan dy="3.5">)</tspan></text>
<text x="55.6" y="315" font-size="9" text-anchor="start" fill="#231f20" >NaGd<tspan font-size="6.7" dy="2.3">0.6</tspan><tspan dy="-2.3">F</tspan><tspan font-size="6.7" dy="2.3">4</tspan><tspan dy="-2.3">:Tb</tspan><tspan font-size="6.7" dy="2.3">0.4</tspan><tspan dy="-2.3">@ligand</tspan></text>
<text x="54.7" y="331.4" font-size="9" text-anchor="start" fill="#231f20" >Ligand =</text>
<line x1="95.8" y1="328.6" x2="119.1" y2="328.6" stroke="#dcdcaa" stroke-width="1" />
<rect x="104.9" y="326" width="5.2" height="5.2" fill="#d0ce94" stroke="#d0ce94" stroke-width="0.8"/>
<text x="123.8" y="331.8" font-size="9" text-anchor="start" fill="#231f20" >OA</text>
<line x1="95.8" y1="342.6" x2="119.1" y2="342.6" stroke="#4aa650" stroke-width="1" />
<circle cx="107.5" cy="342.6" r="2.8" fill="#4aa650" stroke="#4aa650" stroke-width="0.8"/>
<text x="123.8" y="345.8" font-size="9" text-anchor="start" fill="#231f20" >Null</text>
<line x1="95.8" y1="358.3" x2="119.1" y2="358.3" stroke="#1d5e40" stroke-width="1" />
<path d="M107.5,355.1 L110.5,360.4 L104.5,360.4 Z" fill="#1d5e40" stroke="#1d5e40" stroke-width="0.8"/>
<text x="123.8" y="361.5" font-size="9" text-anchor="start" fill="#231f20" >CzPPOA</text>
<line x1="49.5" y1="465.4" x2="178.5" y2="465.4" stroke="#5a5a5a" stroke-width="0.8" />
<line x1="49.5" y1="465.4" x2="49.5" y2="462.4" stroke="#5a5a5a" stroke-width="0.7" />
<line x1="60.2" y1="465.4" x2="60.2" y2="462.4" stroke="#5a5a5a" stroke-width="0.7" />
<line x1="71" y1="465.4" x2="71" y2="462.4" stroke="#5a5a5a" stroke-width="0.7" />
<line x1="81.8" y1="465.4" x2="81.8" y2="462.4" stroke="#5a5a5a" stroke-width="0.7" />
<line x1="92.5" y1="465.4" x2="92.5" y2="462.4" stroke="#5a5a5a" stroke-width="0.7" />
<line x1="103.2" y1="465.4" x2="103.2" y2="462.4" stroke="#5a5a5a" stroke-width="0.7" />
<line x1="114" y1="465.4" x2="114" y2="462.4" stroke="#5a5a5a" stroke-width="0.7" />
<line x1="124.8" y1="465.4" x2="124.8" y2="462.4" stroke="#5a5a5a" stroke-width="0.7" />
<line x1="135.5" y1="465.4" x2="135.5" y2="462.4" stroke="#5a5a5a" stroke-width="0.7" />
<line x1="146.2" y1="465.4" x2="146.2" y2="462.4" stroke="#5a5a5a" stroke-width="0.7" />
<line x1="157" y1="465.4" x2="157" y2="462.4" stroke="#5a5a5a" stroke-width="0.7" />
<line x1="167.8" y1="465.4" x2="167.8" y2="462.4" stroke="#5a5a5a" stroke-width="0.7" />
<line x1="178.5" y1="465.4" x2="178.5" y2="462.4" stroke="#5a5a5a" stroke-width="0.7" />
<text x="49.5" y="476.8" font-size="9" text-anchor="middle" fill="#231f20" >400</text>
<text x="71.1" y="476.8" font-size="9" text-anchor="middle" fill="#231f20" >600</text>
<text x="92.5" y="476.8" font-size="9" text-anchor="middle" fill="#231f20" >800</text>
<text x="114" y="476.8" font-size="9" text-anchor="middle" fill="#231f20" >600</text>
<text x="135.5" y="476.8" font-size="9" text-anchor="middle" fill="#231f20" >800</text>
<text x="157" y="476.8" font-size="9" text-anchor="middle" fill="#231f20" >600</text>
<text x="178.5" y="476.8" font-size="9" text-anchor="middle" fill="#231f20" >800</text>
<text x="114.4" y="490.6" font-size="9" text-anchor="middle" fill="#231f20" >Wavelength (nm)</text>
<g><defs></defs></g>
<path d="M49.5,459.7 L49.5,459.7 L49.8,394.7 L50,394.7 L50.3,394.7 L50.5,398.3 L50.8,402 L51.1,405.5 L51.3,408.8 L51.6,411.8 L51.8,414.7 L52.1,417.4 L52.4,419.9 L52.6,422.3 L52.9,424.5 L53.1,426.6 L53.4,428.5 L53.7,430.3 L53.9,432.1 L54.2,433.7 L54.4,435.2 L54.7,436.6 L55,437.9 L55.2,439.1 L55.5,440.3 L55.7,441.4 L56,442.4 L56.3,443.3 L56.5,444.2 L56.8,445 L57,445.7 L57.3,446.4 L57.6,447 L57.8,447.5 L58.1,448 L58.3,448.5 L58.6,448.8 L58.9,449.2 L59.1,449.4 L59.4,449.7 L59.6,449.9 L59.9,450 L60.1,450.2 L60.4,450.3 L60.7,450.4 L60.9,450.5 L61.2,450.6 L61.4,450.7 L61.7,450.8 L62,451 L62.2,451.1 L62.5,451.3 L62.7,451.6 L63,451.8 L63.3,452.1 L63.5,452.5 L63.8,452.8 L64,453.2 L64.3,453.6 L64.6,453.9 L64.8,454.3 L65.1,454.7 L65.3,455.1 L65.6,455.5 L65.9,455.8 L66.1,456.1 L66.4,456.4 L66.6,456.7 L66.9,457 L67.2,457.2 L67.4,457.4 L67.7,457.6 L67.9,457.7 L68.2,457.9 L68.5,458 L68.7,458.1 L69,458.2 L69.2,458.3 L69.5,458.4 L69.8,458.4 L70,458.5 L70.3,458.6 L70.5,458.6 L70.8,458.7 L71.1,458.7 L71.3,458.8 L71.6,458.8 L71.8,458.8 L72.1,458.9 L72.4,458.9 L72.6,458.9 L72.9,459 L73.1,459 L73.4,459 L73.7,459 L73.9,459.1 L74.2,459.1 L74.4,459.1 L74.7,459.1 L75,459.1 L75.2,459.2 L75.5,459.2 L75.7,459.2 L76,459.2 L76.3,459.2 L76.5,459.2 L76.8,459.3 L77,459.3 L77.3,459.3 L77.6,459.3 L77.8,459.3 L78.1,459.3 L78.3,459.3 L78.6,459.4 L78.9,459.4 L79.1,459.4 L79.4,459.4 L79.6,459.4 L79.9,459.4 L80.2,459.4 L80.4,459.4 L80.7,459.4 L80.9,459.4 L81.2,459.5 L81.4,459.5 L81.7,459.5 L82,459.4 L82.2,459.3 L82.5,459.2 L82.7,459.1 L83,459 L83.3,458.9 L83.5,458.7 L83.8,458.5 L84,458.2 L84.3,458 L84.6,457.6 L84.8,457.3 L85.1,456.9 L85.3,456.5 L85.6,456 L85.9,455.5 L86.1,454.9 L86.4,454.4 L86.6,453.7 L86.9,453.1 L87.2,452.4 L87.4,451.7 L87.7,451 L87.9,450.3 L88.2,449.7 L88.5,449 L88.7,448.4 L89,447.8 L89.2,447.3 L89.5,446.8 L89.8,446.4 L90,446.1 L90.3,445.9 L90.5,445.7 L90.8,445.7 L90.8,459.7 Z" stroke="none" fill="url(#spg)" stroke-width="0.8" />
<g><defs></defs></g>
<path d="M93,459.7 L93,388.7 L93.3,388.7 L93.5,388.7 L93.8,391.5 L94,395.5 L94.3,399.4 L94.5,402.9 L94.8,406.3 L95,409.5 L95.3,412.4 L95.5,415.2 L95.8,417.8 L96.1,420.3 L96.3,422.6 L96.6,424.7 L96.8,426.8 L97.1,428.7 L97.3,430.5 L97.6,432.2 L97.8,433.7 L98.1,435.2 L98.3,436.6 L98.6,437.9 L98.9,439.1 L99.1,440.3 L99.4,441.3 L99.6,442.3 L99.9,443.2 L100.1,444 L100.4,444.8 L100.6,445.5 L100.9,446.1 L101.2,446.7 L101.4,447.1 L101.7,447.4 L101.9,447.4 L102.2,447 L102.4,446.2 L102.7,445 L102.9,443.8 L103.2,443.1 L103.4,443.3 L103.7,444.4 L104,445.9 L104.2,447.4 L104.5,448.7 L104.7,449.5 L105,450.1 L105.2,450.5 L105.5,450.9 L105.7,451.3 L106,451.7 L106.2,452.1 L106.5,452.5 L106.8,452.7 L107,452.4 L107.3,450.9 L107.5,447.9 L107.8,444.4 L108,442.4 L108.3,443.5 L108.5,447.2 L108.8,451.4 L109,454.5 L109.3,456.1 L109.6,456.9 L109.8,457.2 L110.1,457.4 L110.3,457.6 L110.6,457.7 L110.8,457.8 L111.1,457.9 L111.3,458 L111.6,458.1 L111.8,458.2 L112.1,458.2 L112.4,458.3 L112.6,458.4 L112.9,458.4 L113.1,458.5 L113.4,458.5 L113.6,458.6 L113.9,458.6 L114.1,458.7 L114.4,458.7 L114.7,458.7 L114.9,458.8 L115.2,458.8 L115.4,458.8 L115.7,458.9 L115.9,458.9 L116.2,458.9 L116.4,459 L116.7,459 L116.9,459 L117.2,459 L117.5,459.1 L117.7,459.1 L118,459.1 L118.2,459.1 L118.5,459.1 L118.7,459.2 L119,459.2 L119.2,459.2 L119.5,459.2 L119.7,459.2 L120,459.3 L120.3,459.3 L120.5,459.3 L120.8,459.3 L121,459.3 L121.3,459.3 L121.5,459.3 L121.8,459.3 L122,459.4 L122.3,459.4 L122.5,459.4 L122.8,459.4 L123.1,459.4 L123.3,459.4 L123.6,459.4 L123.8,459.4 L124.1,459.4 L124.3,459.4 L124.6,459.5 L124.8,459.5 L125.1,459.5 L125.3,459.5 L125.6,459.5 L125.9,459.5 L126.1,459.4 L126.4,459.3 L126.6,459.2 L126.9,459 L127.1,458.9 L127.4,458.6 L127.6,458.3 L127.9,458 L128.2,457.6 L128.4,457.1 L128.7,456.5 L128.9,455.9 L129.2,455.2 L129.4,454.4 L129.7,453.5 L129.9,452.6 L130.2,451.6 L130.4,450.6 L130.7,449.5 L131,448.4 L131.2,447.4 L131.5,446.4 L131.7,445.5 L132,444.7 L132.2,444 L132.5,443.4 L132.7,443 L133,442.8 L133.2,459.6 L133.5,459.6 L133.5,459.7 Z" stroke="none" fill="url(#spg)" stroke-width="0.8" />
<g><defs></defs></g>
<path d="M135.5,459.7 L135.5,459.4 L135.8,459.3 L136,459.2 L136.3,459.1 L136.6,458.9 L136.8,458.8 L137.1,458.6 L137.4,458.5 L137.7,458.3 L137.9,458.2 L138.2,458 L138.5,457.9 L138.7,457.8 L139,457.8 L139.3,457.7 L139.5,457.7 L139.8,457.7 L140.1,457.8 L140.3,457.9 L140.6,458 L140.9,458.1 L141.2,458.2 L141.4,458.3 L141.7,458.4 L142,458.5 L142.2,458.4 L142.5,458.1 L142.8,457.6 L143,456.6 L143.3,455.2 L143.6,453.3 L143.8,451 L144.1,448.5 L144.4,446 L144.7,444 L144.9,442.9 L145.2,442.7 L145.5,443.6 L145.7,445.4 L146,447.8 L146.3,450.4 L146.5,452.9 L146.8,455 L147.1,456.7 L147.3,457.9 L147.6,458.7 L147.9,459.2 L148.2,459.4 L148.4,459.6 L148.7,459.6 L149,459.6 L149.2,459.3 L149.5,458.3 L149.8,455.1 L150,447.7 L150.3,433.8 L150.6,414 L150.8,393.8 L151.1,381.9 L151.4,384.6 L151.7,400.4 L151.9,421.4 L152.2,439.4 L152.5,450.9 L152.7,456.6 L153,458.8 L153.3,459.5 L153.5,459.7 L153.8,459.7 L154.1,459.7 L154.3,459.5 L154.6,458.6 L154.9,456.2 L155.2,452.6 L155.4,449.9 L155.7,450.6 L156,454.1 L156.2,457.4 L156.5,459.1 L156.8,459.6 L157,459.7 L157.3,459.7 L157.6,459.7 L157.8,459.7 L158.1,459.5 L158.4,458.6 L158.6,456.6 L158.9,454.8 L159.2,455.4 L159.5,457.5 L159.7,459.1 L160,459.6 L160.3,459.7 L160.5,459.7 L160.8,459.7 L161.1,459.7 L161.3,459.7 L161.6,459.7 L161.9,459.6 L162.1,459.6 L162.4,459.6 L162.7,459.5 L163,459.4 L163.2,459.3 L163.5,459.2 L163.8,459 L164,458.8 L164.3,458.7 L164.6,458.5 L164.8,458.4 L165.1,458.3 L165.4,458.2 L165.6,458.2 L165.9,458.3 L166.2,458.4 L166.5,458.5 L166.7,458.7 L167,458.8 L167.3,459 L167.5,459.2 L167.8,459.3 L168.1,459.4 L168.3,459.5 L168.6,459.6 L168.9,459.6 L169.1,459.6 L169.4,459.6 L169.7,459.6 L170,459.6 L170.2,459.6 L170.5,459.5 L170.8,459.5 L171,459.4 L171.3,459.3 L171.6,459.1 L171.8,458.9 L172.1,458.8 L172.4,458.6 L172.6,458.4 L172.9,458.3 L173.2,458.2 L173.5,458.2 L173.7,458.2 L174,458.3 L174.3,458.4 L174.5,458.6 L174.8,458.7 L175.1,458.9 L175.3,459.1 L175.6,459.2 L175.9,459.3 L176.1,459.4 L176.4,459.5 L176.7,459.6 L177,459.6 L177.2,459.7 L177.5,459.7 L177.8,459.7 L178,459.7 L178.3,459.7 L178.3,459.7 Z" stroke="none" fill="url(#spg)" stroke-width="0.8" />
<ellipse cx="64.4" cy="455" rx="4.3" ry="4" fill="none" stroke="#222" stroke-width="0.8" stroke-dasharray="1.6,1.2"/>
<ellipse cx="110.2" cy="450.9" rx="10.2" ry="8.8" fill="none" stroke="#222" stroke-width="0.8" stroke-dasharray="2,1.5"/>
<text x="65.1" y="434.2" font-size="9" text-anchor="start" fill="#231f20" >Tb<tspan font-size="6.5" dy="-4">3+</tspan></text>
<text x="113" y="425.9" font-size="9" text-anchor="start" fill="#231f20" >Tb<tspan font-size="6.5" dy="-4">3+</tspan></text>
<line x1="65.8" y1="451.2" x2="68.6" y2="440.9" stroke="#111" stroke-width="0.9" />
<path d="M69.7,437 L70.8,441.4 L66.5,440.3 Z" stroke="none" fill="#111" stroke-width="0.8" />
<line x1="114.3" y1="442" x2="116.7" y2="433.4" stroke="#111" stroke-width="0.9" />
<path d="M117.8,429.5 L118.8,433.9 L114.6,432.8 Z" stroke="none" fill="#111" stroke-width="0.8" />
<line x1="150" y1="432.6" x2="135.3" y2="425.8" stroke="#111" stroke-width="0.9" />
<path d="M131.7,424.1 L136.3,423.8 L134.4,427.8 Z" stroke="none" fill="#111" stroke-width="0.8" />
<path d="M193.8,469.4 L205.2,382.8 L216.7,343 L228.1,327.4 L239.5,319.2" stroke="#1d5e40" fill="none" stroke-width="0.9" />
<path d="M193.8,466 L197,471.6 L190.6,471.6 Z" fill="#1d5e40" stroke="#1d5e40" stroke-width="0.8"/>
<path d="M205.2,379.4 L208.5,385 L202,385 Z" fill="#1d5e40" stroke="#1d5e40" stroke-width="0.8"/>
<path d="M216.7,339.6 L219.9,345.2 L213.5,345.2 Z" fill="#1d5e40" stroke="#1d5e40" stroke-width="0.8"/>
<path d="M228.1,324 L231.3,329.6 L224.9,329.6 Z" fill="#1d5e40" stroke="#1d5e40" stroke-width="0.8"/>
<path d="M239.5,315.8 L242.8,321.4 L236.3,321.4 Z" fill="#1d5e40" stroke="#1d5e40" stroke-width="0.8"/>
<line x1="242.5" y1="319.2" x2="273.4" y2="319.2" stroke="#c0c0c0" stroke-width="1.2" />
<line x1="273.4" y1="323" x2="273.4" y2="507" stroke="#111" stroke-width="0.9" stroke-dasharray="2.2,1.6"/>
<path d="M273.4,319.4 L271.4,324.5 L275.4,324.5 Z" stroke="none" fill="#111" stroke-width="0.8" />
<text x="255.2" y="403.8" font-size="9" text-anchor="start" fill="#231f20" >×71</text>
<path d="M239.5,505.5 L251,503.5 L262.4,500 L273.8,498 L285.3,495.8" stroke="#e0e0b0" fill="none" stroke-width="0.9" />
<rect x="237.2" y="503.2" width="4.6" height="4.6" fill="#f8f8e8" stroke="#d8d8a8" stroke-width="0.8"/>
<rect x="248.7" y="501.2" width="4.6" height="4.6" fill="#f8f8e8" stroke="#d8d8a8" stroke-width="0.8"/>
<rect x="260.1" y="497.7" width="4.6" height="4.6" fill="#f8f8e8" stroke="#d8d8a8" stroke-width="0.8"/>
<rect x="271.5" y="495.7" width="4.6" height="4.6" fill="#f8f8e8" stroke="#d8d8a8" stroke-width="0.8"/>
<rect x="283" y="493.5" width="4.6" height="4.6" fill="#f8f8e8" stroke="#d8d8a8" stroke-width="0.8"/>
<path d="M228.1,495.8 L239.5,483 L251,483 L262.4,482.2 L273.8,482 L285.3,481.8" stroke="#d8d6a0" fill="none" stroke-width="1" />
<rect x="225.5" y="493.2" width="5.2" height="5.2" fill="#cfcc90" stroke="#cfcc90" stroke-width="0.8"/>
<rect x="236.9" y="480.4" width="5.2" height="5.2" fill="#cfcc90" stroke="#cfcc90" stroke-width="0.8"/>
<rect x="248.4" y="480.4" width="5.2" height="5.2" fill="#cfcc90" stroke="#cfcc90" stroke-width="0.8"/>
<rect x="259.8" y="479.6" width="5.2" height="5.2" fill="#cfcc90" stroke="#cfcc90" stroke-width="0.8"/>
<rect x="271.2" y="479.4" width="5.2" height="5.2" fill="#cfcc90" stroke="#cfcc90" stroke-width="0.8"/>
<rect x="282.7" y="479.2" width="5.2" height="5.2" fill="#cfcc90" stroke="#cfcc90" stroke-width="0.8"/>
<path d="M193.8,507 L205.2,505.1 L216.7,502 L228.1,495.8 L239.5,481.3" stroke="#4c9a60" fill="none" stroke-width="0.8" />
<path d="M193.8,503.4 L197.2,509.3 L190.4,509.3 Z" fill="#eef6f0" stroke="#4c9a60" stroke-width="0.8"/>
<path d="M205.2,501.5 L208.7,507.4 L201.8,507.4 Z" fill="#eef6f0" stroke="#4c9a60" stroke-width="0.8"/>
<path d="M216.7,498.4 L220.1,504.3 L213.3,504.3 Z" fill="#eef6f0" stroke="#4c9a60" stroke-width="0.8"/>
<path d="M228.1,492.2 L231.5,498.1 L224.7,498.1 Z" fill="#eef6f0" stroke="#4c9a60" stroke-width="0.8"/>
<path d="M239.5,477.7 L243,483.6 L236.1,483.6 Z" fill="#eef6f0" stroke="#4c9a60" stroke-width="0.8"/>
<line x1="236.1" y1="507" x2="243" y2="470" stroke="#5cb060" stroke-width="0.8" />
<path d="M228.1,504.4 L239.5,502.8 L251,499.3 L262.4,493 L273.8,483.6 L285.3,467.7 L296.7,438.5 L308.1,391.7 L319.5,316.7" stroke="#3f8a58" fill="none" stroke-width="0.8" />
<circle cx="228.1" cy="504.4" r="2.6" fill="#ffffff" stroke="#3f8a58" stroke-width="0.8"/>
<circle cx="239.5" cy="502.8" r="2.6" fill="#ffffff" stroke="#3f8a58" stroke-width="0.8"/>
<circle cx="251" cy="499.3" r="2.6" fill="#ffffff" stroke="#3f8a58" stroke-width="0.8"/>
<circle cx="262.4" cy="493" r="2.6" fill="#ffffff" stroke="#3f8a58" stroke-width="0.8"/>
<circle cx="273.8" cy="483.6" r="2.6" fill="#ffffff" stroke="#3f8a58" stroke-width="0.8"/>
<circle cx="285.3" cy="467.7" r="2.6" fill="#ffffff" stroke="#3f8a58" stroke-width="0.8"/>
<circle cx="296.7" cy="438.5" r="2.6" fill="#ffffff" stroke="#3f8a58" stroke-width="0.8"/>
<circle cx="308.1" cy="391.7" r="2.6" fill="#ffffff" stroke="#3f8a58" stroke-width="0.8"/>
<circle cx="319.5" cy="316.7" r="2.6" fill="#ffffff" stroke="#3f8a58" stroke-width="0.8"/>
<path d="M239.5,492.3 L251,473.1 L262.4,461.9 L273.8,453.3 L285.3,445.1 L296.7,438.5 L308.1,432 L319.5,425.7" stroke="#4aa650" fill="none" stroke-width="1" />
<circle cx="239.5" cy="492.3" r="2.7" fill="#55aa58" stroke="#55aa58" stroke-width="0.8"/>
<circle cx="251" cy="473.1" r="2.7" fill="#55aa58" stroke="#55aa58" stroke-width="0.8"/>
<circle cx="262.4" cy="461.9" r="2.7" fill="#55aa58" stroke="#55aa58" stroke-width="0.8"/>
<circle cx="273.8" cy="453.3" r="2.7" fill="#55aa58" stroke="#55aa58" stroke-width="0.8"/>
<circle cx="285.3" cy="445.1" r="2.7" fill="#55aa58" stroke="#55aa58" stroke-width="0.8"/>
<circle cx="296.7" cy="438.5" r="2.7" fill="#55aa58" stroke="#55aa58" stroke-width="0.8"/>
<circle cx="308.1" cy="432" r="2.7" fill="#55aa58" stroke="#55aa58" stroke-width="0.8"/>
<circle cx="319.5" cy="425.7" r="2.7" fill="#55aa58" stroke="#55aa58" stroke-width="0.8"/>
<circle cx="238.4" cy="487" r="2.8" fill="#8ccf70" stroke="#8ccf70" stroke-width="0.8"/>
<text x="365.5" y="298.2" font-size="11" text-anchor="start" fill="#231f20" font-weight="bold">d</text>
<line x1="397.7" y1="298.2" x2="397.7" y2="507.2" stroke="#5a5a5a" stroke-width="0.8" />
<line x1="397.7" y1="507.2" x2="679.6" y2="507.2" stroke="#5a5a5a" stroke-width="0.8" />
<line x1="397.7" y1="507.2" x2="401.7" y2="507.2" stroke="#5a5a5a" stroke-width="0.8" />
<text x="392.5" y="510.5" font-size="9" text-anchor="end" fill="#231f20" >0</text>
<line x1="397.7" y1="478.8" x2="400.2" y2="478.8" stroke="#5a5a5a" stroke-width="0.6" />
<line x1="397.7" y1="450.3" x2="401.7" y2="450.3" stroke="#5a5a5a" stroke-width="0.8" />
<text x="392.5" y="453.6" font-size="9" text-anchor="end" fill="#231f20" >2</text>
<line x1="397.7" y1="421.9" x2="400.2" y2="421.9" stroke="#5a5a5a" stroke-width="0.6" />
<line x1="397.7" y1="393.4" x2="401.7" y2="393.4" stroke="#5a5a5a" stroke-width="0.8" />
<text x="392.5" y="396.7" font-size="9" text-anchor="end" fill="#231f20" >4</text>
<line x1="397.7" y1="364.9" x2="400.2" y2="364.9" stroke="#5a5a5a" stroke-width="0.6" />
<line x1="397.7" y1="336.5" x2="401.7" y2="336.5" stroke="#5a5a5a" stroke-width="0.8" />
<text x="392.5" y="339.8" font-size="9" text-anchor="end" fill="#231f20" >6</text>
<line x1="397.7" y1="308" x2="400.2" y2="308" stroke="#5a5a5a" stroke-width="0.6" />
<line x1="397.5" y1="507.2" x2="397.5" y2="503.2" stroke="#5a5a5a" stroke-width="0.8" />
<text x="398.5" y="519" font-size="9" text-anchor="middle" fill="#231f20" >10<tspan font-size="6" dy="-4">0</tspan></text>
<line x1="432.8" y1="507.2" x2="432.8" y2="504.7" stroke="#5a5a5a" stroke-width="0.6" />
<line x1="453.5" y1="507.2" x2="453.5" y2="504.7" stroke="#5a5a5a" stroke-width="0.6" />
<line x1="468.2" y1="507.2" x2="468.2" y2="504.7" stroke="#5a5a5a" stroke-width="0.6" />
<line x1="479.6" y1="507.2" x2="479.6" y2="504.7" stroke="#5a5a5a" stroke-width="0.6" />
<line x1="488.9" y1="507.2" x2="488.9" y2="504.7" stroke="#5a5a5a" stroke-width="0.6" />
<line x1="496.7" y1="507.2" x2="496.7" y2="504.7" stroke="#5a5a5a" stroke-width="0.6" />
<line x1="503.5" y1="507.2" x2="503.5" y2="504.7" stroke="#5a5a5a" stroke-width="0.6" />
<line x1="509.5" y1="507.2" x2="509.5" y2="504.7" stroke="#5a5a5a" stroke-width="0.6" />
<line x1="514.9" y1="507.2" x2="514.9" y2="503.2" stroke="#5a5a5a" stroke-width="0.8" />
<text x="515.9" y="519" font-size="9" text-anchor="middle" fill="#231f20" >10<tspan font-size="6" dy="-4">1</tspan></text>
<line x1="550.2" y1="507.2" x2="550.2" y2="504.7" stroke="#5a5a5a" stroke-width="0.6" />
<line x1="570.9" y1="507.2" x2="570.9" y2="504.7" stroke="#5a5a5a" stroke-width="0.6" />
<line x1="585.6" y1="507.2" x2="585.6" y2="504.7" stroke="#5a5a5a" stroke-width="0.6" />
<line x1="597" y1="507.2" x2="597" y2="504.7" stroke="#5a5a5a" stroke-width="0.6" />
<line x1="606.3" y1="507.2" x2="606.3" y2="504.7" stroke="#5a5a5a" stroke-width="0.6" />
<line x1="614.1" y1="507.2" x2="614.1" y2="504.7" stroke="#5a5a5a" stroke-width="0.6" />
<line x1="620.9" y1="507.2" x2="620.9" y2="504.7" stroke="#5a5a5a" stroke-width="0.6" />
<line x1="626.9" y1="507.2" x2="626.9" y2="504.7" stroke="#5a5a5a" stroke-width="0.6" />
<line x1="632.3" y1="507.2" x2="632.3" y2="503.2" stroke="#5a5a5a" stroke-width="0.8" />
<text x="633.3" y="519" font-size="9" text-anchor="middle" fill="#231f20" >10<tspan font-size="6" dy="-4">2</tspan></text>
<line x1="667.6" y1="507.2" x2="667.6" y2="504.7" stroke="#5a5a5a" stroke-width="0.6" />
<text x="539" y="534.2" font-size="9" text-anchor="middle" fill="#231f20" >Luminance (cd m<tspan font-size="6" dy="-3.5">−2</tspan><tspan dy="3.5">)</tspan></text>
<text transform="translate(377,402.5) rotate(-90)" x="0" y="3.2" font-size="9" text-anchor="middle" fill="#231f20" >EQE (%)</text>
<text x="555.4" y="314.6" font-size="9" text-anchor="start" fill="#231f20" >NaGd<tspan font-size="6.7" dy="2.3">0.6</tspan><tspan dy="-2.3">F</tspan><tspan font-size="6.7" dy="2.3">4</tspan><tspan dy="-2.3">:Tb</tspan><tspan font-size="6.7" dy="2.3">0.4</tspan><tspan dy="-2.3">@ligand</tspan></text>
<text x="559.4" y="331.3" font-size="9" text-anchor="start" fill="#231f20" >Ligand =</text>
<line x1="602" y1="328.6" x2="622.9" y2="328.6" stroke="#e4e4b8" stroke-width="1" />
<circle cx="612.5" cy="328.6" r="2.6" fill="#d8dc98" stroke="#d8dc98" stroke-width="0.8"/>
<text x="628.3" y="331.8" font-size="9" text-anchor="start" fill="#231f20" >OA</text>
<line x1="602" y1="342.7" x2="622.9" y2="342.7" stroke="#5a9a68" stroke-width="1" />
<circle cx="612.5" cy="342.7" r="2.8" fill="#5a9a68" stroke="#5a9a68" stroke-width="0.8"/>
<text x="628.3" y="345.9" font-size="9" text-anchor="start" fill="#231f20" >Null</text>
<line x1="602" y1="358.9" x2="622.9" y2="358.9" stroke="#1d5e40" stroke-width="1" />
<path d="M612.5,355.7 L615.5,361 L609.5,361 Z" fill="#1d5e40" stroke="#1d5e40" stroke-width="0.8"/>
<text x="628.3" y="362.1" font-size="9" text-anchor="start" fill="#231f20" >CzPPOA</text>
<line x1="397.7" y1="339.2" x2="447.5" y2="339.2" stroke="#555" stroke-width="0.8" />
<path d="M447.5,339.6 L561.6,348.3 L616.1,381.8 L638.5,429.2 L648.5,468.9" stroke="#1d5e40" fill="none" stroke-width="0.9" />
<path d="M447.5,336.2 L450.7,341.8 L444.3,341.8 Z" fill="#1d5e40" stroke="#1d5e40" stroke-width="0.8"/>
<path d="M561.6,344.9 L564.8,350.5 L558.4,350.5 Z" fill="#1d5e40" stroke="#1d5e40" stroke-width="0.8"/>
<path d="M616.1,378.4 L619.3,384 L612.9,384 Z" fill="#1d5e40" stroke="#1d5e40" stroke-width="0.8"/>
<path d="M638.5,425.8 L641.7,431.4 L635.3,431.4 Z" fill="#1d5e40" stroke="#1d5e40" stroke-width="0.8"/>
<path d="M648.5,465.5 L651.7,471.1 L645.3,471.1 Z" fill="#1d5e40" stroke="#1d5e40" stroke-width="0.8"/>
<line x1="407.7" y1="346" x2="407.7" y2="507" stroke="#111" stroke-width="0.9" stroke-dasharray="2.2,1.6"/>
<path d="M407.7,340.8 L405.7,346 L409.7,346 Z" stroke="none" fill="#111" stroke-width="0.8" />
<line x1="437.6" y1="346" x2="437.6" y2="507" stroke="#111" stroke-width="0.9" stroke-dasharray="2.2,1.6"/>
<path d="M437.6,340.8 L435.6,346 L439.6,346 Z" stroke="none" fill="#111" stroke-width="0.8" />
<text x="410" y="415" font-size="9" text-anchor="start" fill="#231f20" >×12</text>
<text x="440.4" y="415" font-size="9" text-anchor="start" fill="#231f20" >×76</text>
<line x1="397.7" y1="495.3" x2="416" y2="495.3" stroke="#777" stroke-width="0.8" />
<line x1="397.7" y1="505.6" x2="506" y2="505.6" stroke="#7ab088" stroke-width="0.8" />
<rect x="410.3" y="496" width="4.8" height="4.8" fill="#cfd09a" stroke="#cfd09a" stroke-width="0.8"/>
<circle cx="421" cy="501" r="2.6" fill="#cfdc98" stroke="#cfdc98" stroke-width="0.8"/>
<circle cx="424.6" cy="502" r="2.6" fill="#cfdc98" stroke="#cfdc98" stroke-width="0.8"/>
<circle cx="429" cy="503.5" r="2.6" fill="#cfdc98" stroke="#cfdc98" stroke-width="0.8"/>
<circle cx="432" cy="504.5" r="2.6" fill="#cfdc98" stroke="#cfdc98" stroke-width="0.8"/>
<circle cx="417.4" cy="505.4" r="2.5" fill="#4f9460" stroke="#4f9460" stroke-width="0.8"/>
<circle cx="442.6" cy="505.4" r="2.5" fill="#4f9460" stroke="#4f9460" stroke-width="0.8"/>
<circle cx="458.3" cy="505.4" r="2.5" fill="#4f9460" stroke="#4f9460" stroke-width="0.8"/>
<circle cx="470" cy="505.4" r="2.5" fill="#4f9460" stroke="#4f9460" stroke-width="0.8"/>
<circle cx="481" cy="505.4" r="2.5" fill="#4f9460" stroke="#4f9460" stroke-width="0.8"/>
<circle cx="490.3" cy="505.4" r="2.5" fill="#4f9460" stroke="#4f9460" stroke-width="0.8"/>
<circle cx="498" cy="505.4" r="2.5" fill="#4f9460" stroke="#4f9460" stroke-width="0.8"/>
<circle cx="506.2" cy="505.4" r="2.5" fill="#4f9460" stroke="#4f9460" stroke-width="0.8"/>
<text x="0" y="554.8" font-size="11" text-anchor="start" fill="#231f20" font-weight="bold">e</text>
<rect x="38" y="555.7" width="281.3" height="106.5" fill="#1d2e5c" />
<g clip-path="url(#eclip)"><g filter="url(#bl3)"><ellipse cx="40" cy="580" rx="14" ry="13" fill="#2858b0" opacity="0.85"/><ellipse cx="42" cy="613" rx="24" ry="13" fill="#2858b0" opacity="0.8"/></g><g filter="url(#bl15)"><path d="M38,568 Q43,577 52,581 Q43,585 38,594 Z" fill="#48b8e8"/><path d="M38,599 Q46,609 68,613 Q46,617 38,628 Z" fill="#50c0ec"/><ellipse cx="41" cy="613" rx="7" ry="4" fill="#a8ecf8"/><ellipse cx="41" cy="580" rx="4" ry="5" fill="#90e0f4"/></g><g filter="url(#bl1)"><rect x="38" y="609.8" width="60" height="1.5" fill="url(#lfade)"/><rect x="38" y="614.1" width="42" height="1.4" fill="url(#lfade)"/><rect x="38" y="642" width="88" height="0.9" fill="url(#lfade)" opacity="0.6"/><rect x="38" y="645.2" width="88" height="1.2" fill="url(#lfade)"/><rect x="38" y="649.1" width="52" height="1.2" fill="url(#lfade)"/></g><rect x="38" y="556" width="1.6" height="106" fill="#b8e0e8"/><rect x="39.6" y="570" width="1.8" height="20" fill="#d88050" opacity="0.9"/><rect x="39.6" y="604" width="1.8" height="18" fill="#d88050" opacity="0.9"/><rect x="39.6" y="638" width="1.8" height="16" fill="#c8d078" opacity="0.9"/></g>
<path d="M45.5,581.2 L48.8,585.2 L52,589 L55.3,592.5 L58.6,595.7 L61.8,598.8 L65.1,601.7 L68.3,604.4 L71.6,606.9 L74.9,609.2 L78.1,611.4 L81.4,613.5 L84.7,615.4 L87.9,617.2 L91.2,618.9 L94.4,620.4 L97.7,621.9 L101,623.3 L104.2,624.6 L107.5,625.8 L110.8,626.9 L114,628 L117.3,629 L120.5,629.9 L123.8,630.7 L127.1,631.6 L130.3,632.3 L133.6,633 L136.9,633.7 L140.1,634.3 L143.4,634.9 L146.6,635.4 L149.9,635.9 L153.2,636.4 L156.4,636.8 L159.7,637.3 L163,637.7 L166.2,638 L169.5,638.4 L172.7,638.7 L176,639 L179.3,639.3 L182.5,639.5 L185.8,639.8 L189.1,640 L192.3,640.2 L195.6,640.4 L198.8,640.6 L202.1,640.8 L205.4,640.9 L208.6,641.1 L211.9,641.2 L215.2,641.4 L218.4,641.5 L221.7,641.6 L224.9,641.7 L228.2,641.8 L231.5,641.9 L234.7,642 L238,642.1" stroke="#eef2fa" fill="none" stroke-width="1.5" stroke-linecap="round"/>
<path d="M249.5,643.2 L238,638.6 L240.5,643 L238,647.6 Z" stroke="none" fill="#eef2fa" stroke-width="0.8" />
<text x="33.9" y="559.7" font-size="9" text-anchor="end" fill="#231f20" >800</text>
<line x1="38" y1="556.4" x2="41" y2="556.4" stroke="#333" stroke-width="0.7" />
<text x="33.9" y="574.1" font-size="9" text-anchor="end" fill="#231f20" >600</text>
<line x1="38" y1="570.8" x2="41" y2="570.8" stroke="#333" stroke-width="0.7" />
<text x="33.9" y="589.3" font-size="9" text-anchor="end" fill="#231f20" >400</text>
<line x1="38" y1="586" x2="41" y2="586" stroke="#333" stroke-width="0.7" />
<text x="33.9" y="599.3" font-size="9" text-anchor="end" fill="#231f20" >800</text>
<line x1="38" y1="596" x2="41" y2="596" stroke="#333" stroke-width="0.7" />
<text x="33.9" y="609.3" font-size="9" text-anchor="end" fill="#231f20" >600</text>
<line x1="38" y1="606" x2="41" y2="606" stroke="#333" stroke-width="0.7" />
<text x="33.9" y="623.9" font-size="9" text-anchor="end" fill="#231f20" >400</text>
<line x1="38" y1="620.6" x2="41" y2="620.6" stroke="#333" stroke-width="0.7" />
<text x="33.9" y="633.9" font-size="9" text-anchor="end" fill="#231f20" >800</text>
<line x1="38" y1="630.6" x2="41" y2="630.6" stroke="#333" stroke-width="0.7" />
<text x="33.9" y="645.3" font-size="9" text-anchor="end" fill="#231f20" >600</text>
<line x1="38" y1="642" x2="41" y2="642" stroke="#333" stroke-width="0.7" />
<text x="33.9" y="660.1" font-size="9" text-anchor="end" fill="#231f20" >400</text>
<line x1="38" y1="656.8" x2="41" y2="656.8" stroke="#333" stroke-width="0.7" />
<text transform="translate(7.5,610) rotate(-90)" x="0" y="3.2" font-size="9" text-anchor="middle" fill="#231f20" >Wavelength (nm)</text>
<text x="53.3" y="568.5" font-size="9" text-anchor="start" fill="#ffffff" >NaGd<tspan font-size="6.7" dy="2.3">0.6</tspan><tspan dy="-2.3">F</tspan><tspan font-size="6.7" dy="2.3">4</tspan><tspan dy="-2.3">:Tb</tspan><tspan font-size="6.7" dy="2.3">0.4</tspan><tspan dy="-2.3">@ligand</tspan></text>
<text x="309.5" y="568.9" font-size="9" text-anchor="end" fill="#ffffff" >Ligand = OA</text>
<text x="309.5" y="603.8" font-size="9" text-anchor="end" fill="#ffffff" >Null</text>
<text x="309.5" y="638.5" font-size="9" text-anchor="end" fill="#ffffff" >CzPPOA</text>
<line x1="39.5" y1="662.2" x2="39.5" y2="756.5" stroke="#5a5a5a" stroke-width="0.8" />
<line x1="39.5" y1="756.5" x2="319.3" y2="756.5" stroke="#5a5a5a" stroke-width="0.8" />
<line x1="319.3" y1="662.2" x2="319.3" y2="756.5" stroke="#bbb" stroke-width="0.6" />
<line x1="39.5" y1="756.5" x2="42.5" y2="756.5" stroke="#5a5a5a" stroke-width="0.8" />
<text x="34" y="760" font-size="9" text-anchor="end" fill="#231f20" >10<tspan font-size="6" dy="-4">0</tspan></text>
<line x1="39.5" y1="748.2" x2="41.3" y2="748.2" stroke="#5a5a5a" stroke-width="0.5" />
<line x1="39.5" y1="743.3" x2="41.3" y2="743.3" stroke="#5a5a5a" stroke-width="0.5" />
<line x1="39.5" y1="739.9" x2="41.3" y2="739.9" stroke="#5a5a5a" stroke-width="0.5" />
<line x1="39.5" y1="737.2" x2="41.3" y2="737.2" stroke="#5a5a5a" stroke-width="0.5" />
<line x1="39.5" y1="735" x2="41.3" y2="735" stroke="#5a5a5a" stroke-width="0.5" />
<line x1="39.5" y1="733.2" x2="41.3" y2="733.2" stroke="#5a5a5a" stroke-width="0.5" />
<line x1="39.5" y1="731.6" x2="41.3" y2="731.6" stroke="#5a5a5a" stroke-width="0.5" />
<line x1="39.5" y1="730.2" x2="41.3" y2="730.2" stroke="#5a5a5a" stroke-width="0.5" />
<line x1="39.5" y1="728.9" x2="42.5" y2="728.9" stroke="#5a5a5a" stroke-width="0.8" />
<text x="34" y="732.4" font-size="9" text-anchor="end" fill="#231f20" >10<tspan font-size="6" dy="-4">1</tspan></text>
<line x1="39.5" y1="720.6" x2="41.3" y2="720.6" stroke="#5a5a5a" stroke-width="0.5" />
<line x1="39.5" y1="715.7" x2="41.3" y2="715.7" stroke="#5a5a5a" stroke-width="0.5" />
<line x1="39.5" y1="712.3" x2="41.3" y2="712.3" stroke="#5a5a5a" stroke-width="0.5" />
<line x1="39.5" y1="709.6" x2="41.3" y2="709.6" stroke="#5a5a5a" stroke-width="0.5" />
<line x1="39.5" y1="707.4" x2="41.3" y2="707.4" stroke="#5a5a5a" stroke-width="0.5" />
<line x1="39.5" y1="705.6" x2="41.3" y2="705.6" stroke="#5a5a5a" stroke-width="0.5" />
<line x1="39.5" y1="704" x2="41.3" y2="704" stroke="#5a5a5a" stroke-width="0.5" />
<line x1="39.5" y1="702.6" x2="41.3" y2="702.6" stroke="#5a5a5a" stroke-width="0.5" />
<line x1="39.5" y1="701.3" x2="42.5" y2="701.3" stroke="#5a5a5a" stroke-width="0.8" />
<text x="34" y="704.8" font-size="9" text-anchor="end" fill="#231f20" >10<tspan font-size="6" dy="-4">2</tspan></text>
<line x1="39.5" y1="693" x2="41.3" y2="693" stroke="#5a5a5a" stroke-width="0.5" />
<line x1="39.5" y1="688.1" x2="41.3" y2="688.1" stroke="#5a5a5a" stroke-width="0.5" />
<line x1="39.5" y1="684.7" x2="41.3" y2="684.7" stroke="#5a5a5a" stroke-width="0.5" />
<line x1="39.5" y1="682" x2="41.3" y2="682" stroke="#5a5a5a" stroke-width="0.5" />
<line x1="39.5" y1="679.8" x2="41.3" y2="679.8" stroke="#5a5a5a" stroke-width="0.5" />
<line x1="39.5" y1="678" x2="41.3" y2="678" stroke="#5a5a5a" stroke-width="0.5" />
<line x1="39.5" y1="676.4" x2="41.3" y2="676.4" stroke="#5a5a5a" stroke-width="0.5" />
<line x1="39.5" y1="675" x2="41.3" y2="675" stroke="#5a5a5a" stroke-width="0.5" />
<line x1="39.5" y1="673.7" x2="42.5" y2="673.7" stroke="#5a5a5a" stroke-width="0.8" />
<text x="34" y="677.2" font-size="9" text-anchor="end" fill="#231f20" >10<tspan font-size="6" dy="-4">3</tspan></text>
<line x1="39.5" y1="665.4" x2="41.3" y2="665.4" stroke="#5a5a5a" stroke-width="0.5" />
<line x1="39.7" y1="756.5" x2="39.7" y2="753.5" stroke="#5a5a5a" stroke-width="0.8" />
<text x="39.7" y="766.7" font-size="9" text-anchor="middle" fill="#231f20" >0</text>
<line x1="74.5" y1="756.5" x2="74.5" y2="754.5" stroke="#5a5a5a" stroke-width="0.6" />
<line x1="109.2" y1="756.5" x2="109.2" y2="753.5" stroke="#5a5a5a" stroke-width="0.8" />
<text x="109.2" y="766.7" font-size="9" text-anchor="middle" fill="#231f20" >1</text>
<line x1="143.9" y1="756.5" x2="143.9" y2="754.5" stroke="#5a5a5a" stroke-width="0.6" />
<line x1="178.7" y1="756.5" x2="178.7" y2="753.5" stroke="#5a5a5a" stroke-width="0.8" />
<text x="178.7" y="766.7" font-size="9" text-anchor="middle" fill="#231f20" >2</text>
<line x1="213.4" y1="756.5" x2="213.4" y2="754.5" stroke="#5a5a5a" stroke-width="0.6" />
<line x1="248.2" y1="756.5" x2="248.2" y2="753.5" stroke="#5a5a5a" stroke-width="0.8" />
<text x="248.2" y="766.7" font-size="9" text-anchor="middle" fill="#231f20" >3</text>
<line x1="282.9" y1="756.5" x2="282.9" y2="754.5" stroke="#5a5a5a" stroke-width="0.6" />
<line x1="317.7" y1="756.5" x2="317.7" y2="753.5" stroke="#5a5a5a" stroke-width="0.8" />
<text x="317.7" y="766.7" font-size="9" text-anchor="middle" fill="#231f20" >4</text>
<text x="178" y="780" font-size="9" text-anchor="middle" fill="#231f20" >Time (ms)</text>
<text transform="translate(7,708) rotate(-90)" x="0" y="3.2" font-size="9" text-anchor="middle" fill="#231f20" >EL intensity (counts)</text>
<rect x="40" y="664" width="3.5" height="92.5" fill="#e6e6b8" opacity="0.7"/>
<g clip-path="url(#dclip)"><path transform="translate(39.7,0) scale(0.106964,0.1)" d="M0,6925 l1,3 1,19 1,-7 1,20 1,8 1,0 1,15 1,-6 1,10 1,1 1,11 1,-1 1,17 1,-10 1,27 1,-4 1,2 1,35 1,-19 1,11 1,34 1,-21 1,-16 1,14 1,2 1,17 1,7 1,-42 1,39 1,-8 1,23 1,26 1,-18 1,-15 1,24 1,12 1,4 1,11 1,0 1,-27 1,23 1,20 1,-27 1,31 1,-24 1,7 1,47 1,6 1,-71 1,59 1,-55 1,45 1,-10 1,26 1,6 1,52 1,-33 1,-36 1,30 1,21 1,-56 1,22 1,0 1,27 1,-14 1,-7 1,90 1,-96 1,-17 1,-5 1,215 1,-141 1,9 1,11 1,-89 1,23 1,13 1,8 1,-27 1,52 1,44 1,-83 1,-13 1,34 1,0 1,-7 1,34 1,35 1,-62 1,27 1,-9 1,58 1,0 1,-91 1,53 1,24 1,-24 1,-20 1,58 1,0 1,-97 1,70 1,-31 1,20 1,0 1,-29 1,123 1,-132 1,62 1,30 1,-92 1,-21 1,30 1,9 1,-9 1,40 1,-11 1,0 1,11 1,-64 1,107 1,-99 1,117 1,-72 1,-20 1,-25 1,25 1,31 1,27 1,-58 1,58 1,16 1,18 1,-101 1,83 1,-16 1,0 1,-49 1,65 1,-107 1,15 1,92 1,-30 1,14 1,-91 1,33 1,9 1,35 1,-24 1,11 1,27 1,-58 1,74 1,18 1,-48 1,-24 1,-11 1,49 1,0 1,-27 1,61 1,-101 1,67 1,56 1,-56 1,0 1,-14 1,97 1,-132 1,11 1,54 1,18 1,-48 1,30 1,67 1,-67 1,-43 1,13 1,48 1,-117 1,69 1,-13 1,43 1,-16 1,-14 1,70 1,61 1,-34 1,34 1,-83 1,83 1,-117 1,16 1,0 1,0 1,67 1,-67 1,-16 1,0 1,0 1,83 1,-110 1,27 1,0 1,-14 1,70 1,-22 1,-61 1,83 1,27 1,-49 1,-34 1,-38 1,0 1,94 1,-56 1,-14 1,48 1,-18 1,-16 1,56 1,-56 1,0 1,-27 1,61 1,-18 1,-30 1,30 1,0 1,316 1,-370 1,11 1,110 1,-27 1,-22 1,49 1,-83 1,56 1,-83 1,61 1,-83 1,83 1,-48 1,48 1,-34 1,-27 1,144 1,-61 1,0 1,-40 1,-16 1,-27 1,27 1,83 1,-141 1,114 1,-40 1,-16 1,56 1,-40 1,0 1,67 1,0 1,-97 1,97 1,-110 1,61 1,22 1,-70 1,263 1,-233 1,-30 1,131 1,-34 1,-49 1,22 1,-83 1,27 1,117 1,-34 1,83 1,-180 1,97 1,-49 1,-72 1,155 1,-83 1,49 1,-83 1,16 1,67 1,166 1,-166 1,-49 1,49 1,-27 1,27 1,-49 1,22 1,-56 1,117 1,-34 1,-83 1,117 1,-83 1,-34 1,117 1,49 1,-150 1,-16 1,34 1,83 1,49 1,-110 1,-22 1,-18 1,0 1,-16 1,117 1,-117 1,-14 1,70 1,-56 1,0 1,249 1,-193 1,-40 1,40 1,-70 1,30 1,18 1,0 1,-61 1,110 1,-27 1,-40 1,67 1,-110 1,61 1,49 1,-67 1,67 1,-27 1,27 1,-83 1,117 1,-34 1,-27 1,0 1,27 1,34 1,-83 1,49 1,-27 1,61 1,-83 1,0 1,22 1,61 1,-83 1,49 1,-97 1,180 1,-83 1,-27 1,27 1,-27 1,-83 1,61 1,22 1,0 1,-56 1,-14 1,131 1,0 1,49 1,-49 1,-83 1,22 1,-22 1,132 1,0 1,-166 1,-27 1,144 1,49 1,-110 1,27 1,83 1,-49 1,-34 1,83 1,-150 1,40 1,61 1,0 1,-101 1,150 1,-49 1,0 1,-101 1,150 1,-193 1,144 1,49 1,-132 1,49 1,34 1,132 1,-249 1,16 1,233 1,-193 1,-56 1,16 1,40 1,61 1,0 1,-34 1,-49 1,-34 1,34 1,22 1,61 1,-61 1,27 1,-97 1,180 1,-150 1,67 1,-97 1,14 1,56 1,-56 1,249 1,-132 1,-117 1,56 1,0 1,-22 1,-18 1,18 1,49 1,83 1,-166 1,56 1,-22 1,83 1,49 1,-110 1,193 1,-193 1,61 1,49 1,0 1,-110 1,61 1,-34 1,34 1,215 1,-298 1,0 1,83 1,132 1,-132 1,-61 1,61 1,-34 1,-49 1,-34 1,166 1,-166 1,117 1,0 1,132 1,-132 1,0 1,-34 1,-27 1,-40 1,18 1,22 1,193 1,-132 1,-101 1,101 1,-34 1,83 1,-150 1,67 1,83 1,-110 1,-22 1,-18 1,150 1,0 1,-83 1,83 1,-49 1,-61 1,61 1,-34 1,-49 1,22 1,0 1,27 1,34 1,132 1,-233 1,40 1,193 1,-166 1,-27 1,276 1,-249 1,-27 1,0 1,27 1,34 1,49 1,-49 1,-34 1,83 1,-49 1,-34 1,166 1,-193 1,-56 1,166 1,-83 1,0 1,-27 1,61 1,49 1,-49 1,-34 1,-83 1,332 1,-249 1,0 1,0 1,-27 1,110 1,-132 1,0 1,83 1,49 1,83 1,-215 1,132 1,-83 1,34 1,-61 1,110 1,-110 1,193 1,0 1,-83 1,0 1,-110 1,61 1,-34 1,34 1,-83 1,83 1,49 1,0 1,83 1,-132 1,-61 1,0 1,61 1,-101 1,150 1,-110 1,0 1,110 1,0 1,-110 1,110 1,0 1,-132 1,215 1,83 1,-249 1,34 1,-117 1,249 1,83 1,-215 1,-61 1,61 1,-34 1,0 1,83 1,-110 1,110 1,-49 1,49 1,-49 1,0 1,-34 1,-27 1,61 1,-83 1,132 1,-49 1,-83 1,132 1,-150 1,-30 1,131 1,215 1,-276 1,193 1,-132 1,-34 1,34 1,-34 1,83 1,0 1,0 1,-150 1,18 1,22 1,193 1,-132 1,-61 1,61 1,0 1,49 1,-110 1,110 1,-49 1,0 1,49 1,0 1,0 1,0 1,-132 1,49 1,83 1,0 1,-49 1,0 1,-34 1,166 1,-132 1,49 1,166 1,-215 1,0 1,0 1,49 1,-83 1,34 1,49 1,83 1,-263 1,180 1,-49 1,132 1,-83 1,0 1,83 1,-132 1,-83 1,49 1,34 1,-34 1,34 1,-101 1,67 1,34 1,49 1,-83 1,34 1,132 1,-83 1,-49 1,0 1,-34 1,83 1,-49 1,-61 1,-40 1,150 1,-49 1,49 1,-83 1,83 1,-83 1,166 1,0 1,-83 1,0 1,83 1,-132 1,215 1,-166 1,0 1,0 1,0 1,-49 1,0 1,0 1,-34 1,83 1,-110 1,110 1,-132 1,49 1,-27 1,276 1,-166 1,83 1,-193 1,110 1,0 1,0 1,0 1,0 1,0 1,-83 1,83 1,-49 1,-34 1,0 1,166 1,-83 1,-49 1,49 1,83 1,0 1,-132 1,132 1,0 1,-83 1,-132 1,215 1,0 1,-132 1,-34 1,166 1,83 1,-83 1,0 1,-193 1,27 1,83 1,166 1,-166 1,166 1,0 1,-166 1,83 1,-132 1,49 1,0 1,83 1,-166 1,166 1,-83 1,-83 1,166 1,-83 1,0 1,-110 1,27 1,83 1,83 1,-166 1,166 1,-132 1,132 1,0 1,-166 1,83 1,0 1,0 1,-83 1,0 1,83 1,0 1,0 1,0 1,-110 1,61 1,132 1,-83 1,-49 1,-34 1,83 1,83 1,0 1,-83 1,0 1,83 1,-132 1,132 1,-193 1,110 1,0 1,-49 1,132 1,-83 1,166 1,-166 1,83 1,83 1,-215 1,-34 1,166 1,0 1,-83 1,0 1,0 1,-49 1,-34 1,83 1,-49 1,-83 1,215 1,0 1,-166 1,83 1,0 1,-49 1,49 1,166 1,-249 1,0 1,166 1,0 1,-83 1,166 1,-83 1,-83 1,83 1,-132 1,215 1,0 1,-215 1,49 1,0 1,-49 1,0 1,49 1,0 1,83 1,83 1,-83 1,-166 1,83 1,83 1,-166 1,83 1,166 1,-166 1,0 1,0 1,-49 1,49 1,83 1,-193 1,110 1,83 1,-132 1,132 1,-83 1,-49 1,132 1,-132 1,49 1,0 1,0 1,83 1,-166 1,34 1,49 1,0 1,-49 1,215 1,-249 1,166 1,0 1,-132 1,49 1,-83 1,166 1,-83 1,0 1,166 1,-83 1,-166 1,166 1,0 1,-215 1,215 1,-83 1,-49 1,-34 1,83 1,83 1,0 1,83 1,-249 1,249 1,-215 1,215 1,-249 1,166 1,-83 1,83 1,0 1,-83 1,83 1,0 1,83 1,0 1,-83 1,83 1,-276 1,110 1,83 1,-83 1,0 1,-49 1,0 1,215 1,-249 1,166 1,0 1,0 1,-132 1,49 1,166 1,-166 1,0 1,-49 1,49 1,-83 1,83 1,166 1,-83 1,-166 1,34 1,132 1,0 1,-132 1,49 1,0 1,-49 1,-34 1,34 1,49 1,83 1,-166 1,83 1,166 1,-215 1,0 1,-34 1,249 1,-249 1,-49 1,132 1,-83 1,34 1,215 1,-215 1,49 1,-83 1,0 1,-49 1,49 1,0 1,249 1,-83 1,0 1,-193 1,110 1,-83 1,249 1,-215 1,215 1,-83 1,0 1,0 1,83 1,-83 1,-132 1,49 1,-83 1,166 1,-83 1,166 1,-83 1,0 1,-132 1,132 1,0 1,0 1,-132 1,132 1,0 1,0 1,-83 1,166 1,-166 1,0 1,0 1,0 1,0 1,83 1,83 1,-166 1,-49 1,132 1,83 1,0 1,0 1,-166 1,83 1,83 1,-83 1,83 1,-166 1,-49 1,49 1,0 1,83 1,0 1,-166 1,166 1,-132 1,-34 1,34 1,49 1,83 1,-132 1,132 1,-132 1,132 1,-132 1,49 1,-49 1,49 1,-83 1,0 1,34 1,-34 1,249 1,0 1,0 1,-215 1,132 1,0 1,-132 1,0 1,49 1,-83 1,249 1,-215 1,0 1,49 1,0 1,0 1,83 1,0 1,0 1,83 1,-83 1,-132 1,132 1,-83 1,83 1,-166 1,166 1,-83 1,83 1,-132 1,215 1,-166 1,83 1,0 1,83 1,-215 1,0 1,215 1,-215 1,-34 1,249 1,0 1,-249 1,166 1,-132 1,215 1,-215 1,0 1,132 1,83 1,-166 1,0 1,0 1,0 1,83 1,-132 1,49 1,0 1,-49 1,132 1,83 1,0 1,-249 1,166 1,-132 1,49 1,166 1,-166 1,-49 1,0 1,215 1,-298 1,132 1,166 1,-166 1,-49 1,0 1,132 1,-83 1,-83 1,83 1,83 1,0 1,-83 1,0 1,-49 1,132 1,-83 1,-49 1,0 1,49 1,-49 1,132 1,83 1,-83 1,-83 1,-110 1,193 1,83 1,-83 1,0 1,83 1,-83 1,83 1,-166 1,0 1,0 1,83 1,83 1,-83 1,0 1,83 1,0 1,0 1,-83 1,-166 1,34 1,-34 1,166 1,-132 1,49 1,0 1,83 1,0 1,83 1,-215 1,49 1,83 1,83 1,-215 1,215 1,-83 1,83 1,0 1,-83 1,-132 1,132 1,-83 1,83 1,-83 1,-49 1,49 1,83 1,-166 1,249 1,-83 1,0 1,83 1,-83 1,0 1,0 1,-83 1,166 1,0 1,0 1,-249 1,249 1,-166 1,-49 1,215 1,-249 1,166 1,-132 1,-34 1,249 1,0 1,-215 1,132 1,-166 1,34 1,0 1,132 1,0 1,0 1,-83 1,83 1,0 1,-83 1,166 1,-215 1,49 1,83 1,0 1,-83 1,-110 1,27 1,166 1,-132 1,215 1,-249 1,34 1,0 1,49 1,166 1,0 1,-83 1,-83 1,-49 1,132 1,0 1,0 1,0 1,-166 1,166 1,0 1,0 1,0 1,0 1,83 1,-166 1,166 1,-166 1,83 1,-83 1,166 1,0 1,-83 1,-132 1,215 1,-83 1,0 1,83 1,-166 1,83 1,-132 1,49 1,83 1,83 1,-215 1,0 1,215 1,0 1,-166 1,83 1,0 1,-83 1,0 1,83 1,-166 1,166 1,0 1,-132 1,132 1,0 1,0 1,0 1,-83 1,0 1,83 1,-166 1,166 1,0 1,83 1,0 1,-83 1,0 1,-83 1,-49 1,0 1,132 1,-132 1,215 1,-166 1,166 1,-83 1,83 1,0 1,0 1,0 1,0 1,0 1,-166 1,0 1,166 1,0 1,-249 1,166 1,-83 1,83 1,-132 1,215 1,-83 1,83 1,-83 1,0 1,-83 1,83 1,0 1,0 1,0 1,0 1,0 1,83 1,0 1,-83 1,0 1,-83 1,166 1,-83 1,0 1,0 1,83 1,-83 1,-132 1,215 1,0 1,-166 1,166 1,0 1,-166 1,83 1,0 1,-132 1,132 1,-83 1,166 1,-83 1,-83 1,0 1,166 1,-83 1,0 1,83 1,-166 1,83 1,83 1,-83 1,0 1,0 1,0 1,0 1,-83 1,166 1,0 1,-83 1,83 1,0 1,-166 1,83 1,-132 1,49 1,-49 1,132 1,83 1,-215 1,49 1,0 1,83 1,-166 1,166 1,83 1,-249 1,-27 1,193 1,83 1,-83 1,0 1,-132 1,0 1,215 1,-249 1,83 1,166 1,0 1,0 1,0 1,-83 1,-83 1,-49 1,49 1,166 1,-166 1,83 1,83 1,-83 1,0 1,83 1,-166 1,83 1,83 1,-83 1,0 1,0 1,83 1,0 1,-215 1,132 1,-83 1,166 1,-83 1,83 1,-83 1,-83 1,83 1,83 1,0 1,-83 1,83 1,-83 1,0 1,-132 1,215 1,-166 1,0 1,0 1,83 1,83 1,-166 1,166 1,-166 1,0 1,166 1,-83 1,-132 1,215 1,0 1,-83 1,83 1,-166 1,166 1,-166 1,-49 1,49 1,83 1,83 1,0 1,-166 1,83 1,0 1,-83 1,83 1,-83 1,83 1,0 1,83 1,0 1,0 1,0 1,-83 1,-132 1,132 1,-83 1,83 1,0 1,-132 1,132 1,-132 1,132 1,-83 1,0 1,166 1,0 1,-83 1,0 1,83 1,-83 1,0 1,0 1,0 1,83 1,-215 1,132 1,0 1,83 1,-166 1,0 1,166 1,-83 1,0 1,0 1,-132 1,49 1,-49 1,215 1,-166 1,166 1,0 1,0 1,0 1,-215 1,132 1,83 1,-83 1,-83 1,83 1,-83 1,0 1,83 1,83 1,0 1,-166 1,166 1,-83 1,0 1,83 1,0 1,-215 1,215 1,-166 1,-83 1,166 1,0 1,83 1,-166 1,83 1,83 1,-83 1,0 1,-132 1,215 1,0 1,-249 1,34 1,0 1,132 1,-166 1,34 1,215 1,-215 1,49 1,83 1,-83 1,166 1,0 1,-83 1,0 1,0 1,0 1,83 1,-166 1,83 1,83 1,-83 1,83 1,0 1,-83 1,-132 1,215 1,-83 1,83 1,-83 1,0 1,0 1,-132 1,215 1,-166 1,-49 1,215 1,-166 1,166 1,0 1,-166 1,0 1,83 1,0 1,0 1,-83 1,166 1,-83 1,83 1,-166 1,83 1,83 1,0 1,0 1,-83 1,-83 1,166 1,0 1,-166 1,166 1,0 1,-166 1,83 1,0 1,0 1,-166 1,34 1,215 1,-166 1,83 1,-83 1,83 1,83 1,0 1,-83 1,-83 1,166 1,0 1,-166 1,0 1,83 1,0 1,83 1,-166 1,83 1,0 1,-132 1,215 1,-166 1,83 1,0 1,0 1,-83 1,166 1,0 1,-83 1,83 1,-83 1,-132 1,132 1,0 1,83 1,0 1,0 1,-83 1,0 1,0 1,83 1,-83 1,0 1,83 1,0 1,-83 1,83 1,-83 1,83 1,0 1,-83 1,0 1,-83 1,83 1,83 1,-166 1,0 1,166 1,-166 1,-49 1,215 1,-83 1,0 1,-83 1,0 1,0 1,83 1,83 1,-83 1,0 1,0 1,0 1,0 1,0 1,-83 1,166 1,-83 1,0 1,0 1,-83 1,83 1,0 1,-83 1,83 1,83 1,-166 1,166 1,-166 1,83 1,0 1,-83 1,0 1,166 1,-166 1,0 1,0 1,83 1,83 1,0 1,-166 1,83 1,83 1,-83 1,83 1,0 1,0 1,-166 1,83 1,-166 1,249 1,0 1,0 1,-166 1,166 1,0 1,-83 1,0 1,83 1,-166 1,83 1,83 1,-83 1,0 1,0 1,83 1,-83 1,83 1,0 1,-215 1,132 1,0 1,-83 1,83 1,0 1,0 1,-83 1,83 1,0 1,0 1,-83 1,83 1,0 1,0 1,0 1,83 1,-166 1,83 1,0 1,0 1,0 1,83 1,-83 1,-132 1,132 1,83 1,-83 1,0 1,83 1,-83 1,83 1,-166 1,0 1,0 1,166 1,0 1,-83 1,0 1,-83 1,166 1,-83 1,-83 1,83 1,-166 1,83 1,0 1,83 1,-166 1,249 1,0 1,-215 1,49 1,0 1,166 1,-166 1,83 1,0 1,-132 1,132 1,83 1,0 1,0 1,0 1,-83 1,0 1,-83 1,0 1,0 1,83 1,83 1,-166 1,0 1,83 1,83 1,-83 1,-83 1,166 1,0 1,-83 1,-132 1,132 1,-83 1,83 1,0 1,0 1,0 1,0 1,-83 1,83 1,-83 1,83 1,83 1,-83 1,83 1,0 1,-166 1,83 1,0 1,-83 1,83 1,83 1,0 1,-83 1,0 1,0 1,0 1,-132 1,132 1,0 1,83 1,-166 1,83 1,83 1,0 1,-83 1,-132 1,49 1,0 1,83 1,0 1,83 1,-83 1,-83 1,166 1,0 1,-166 1,166 1,-83 1,0 1,-83 1,0 1,83 1,83 1,-215 1,49 1,166 1,-83 1,0 1,0 1,83 1,-249 1,249 1,-83 1,0 1,83 1,0 1,-166 1,83 1,0 1,-83 1,83 1,83 1,0 1,-83 1,83 1,-83 1,0 1,-83 1,83 1,0 1,83 1,-83 1,0 1,0 1,-83 1,0 1,83 1,0 1,83 1,-215 1,215 1,-83 1,-166 1,83 1,0 1,166 1,0 1,-83 1,83 1,-249 1,166 1,0 1,83 1,-83 1,0 1,83 1,0 1,0 1,0 1,-166 1,166 1,-83 1,83 1,-83 1,83 1,-215 1,215 1,0 1,-83 1,83 1,0 1,0 1,0 1,0 1,0 1,-83 1,0 1,83 1,-215 1,49 1,166 1,0 1,0 1,0 1,0 1,-83 1,83 1,0 1,0 1,0 1,0 1,-83 1,-132 1,215 1,-215 1,132 1,0 1,83 1,-83 1,0 1,83 1,0 1,0 1,0 1,0 1,-83 1,0 1,83 1,0 1,-83 1,83 1,-83 1,0 1,83 1,-83 1,83 1,-83 1,83 1,0 1,-83 1,83 1,-166 1,166 1,-83 1,83 1,-83 1,0 1,0 1,0 1,83 1,-166 1,-49 1,0 1,49 1,166 1,0 1,-166 1,166 1,-83 1,83 1,-83 1,83 1,-83 1,83 1,-166 1,83 1,83 1,-166 1,83 1,83 1,-166 1,166 1,0 1,0 1,-83 1,-83 1,83 1,-132 1,132 1,83 1,-83 1,0 1,0 1,-83 1,83 1,83 1,-83 1,83 1,-166 1,83 1,0 1,0 1,0 1,83 1,0 1,0 1,-83 1,83 1,-83 1,0 1,83 1,-166 1,166 1,0 1,-166 1,166 1,0 1,0 1,-166 1,166 1,0 1,-83 1,83 1,0 1,-83 1,0 1,0 1,83 1,0 1,0 1,0 1,-166 1,83 1,-83 1,83 1,0 1,0 1,-83 1,166 1,-166 1,0 1,166 1,-83 1,83 1,0 1,0 1,0 1,0 1,-83 1,83 1,-83 1,0 1,0 1,0 1,0 1,-83 1,83 1,0 1,83 1,-83 1,83 1,0 1,-83 1,83 1,-215 1,215 1,0 1,-215 1,215 1,0 1,-166 1,166 1,-83 1,0 1,83 1,0 1,0 1,0 1,-166 1,83 1,83 1,-215 1,132 1,83 1,-83 1,83 1,0 1,-83 1,83 1,0 1,-83 1,83 1,-83 1,0 1,83 1,-83 1,83 1,0 1,-83 1,83 1,0 1,0 1,0 1,-83 1,0 1,83 1,0 1,-83 1,83 1,0 1,-166 1,83 1,83 1,-83 1,83 1,-249 1,166 1,83 1,0 1,-166 1,166 1,-83 1,0 1,83 1,0 1,0 1,0 1,0 1,0 1,-166 1,83 1,83 1,-83 1,83 1,-83 1,-83 1,83 1,83 1,0 1,-83 1,-83 1,83 1,83 1,-83 1,83 1,0 1,-83 1,0 1,-166 1,249 1,-83 1,83 1,-83 1,83 1,0 1,0 1,-166 1,0 1,83 1,0 1,-83 1,0 1,166 1,0 1,-83 1,83 1,-83 1,83 1,0 1,0 1,-83 1,0 1,83 1,0 1,-166 1,166 1,0 1,-166 1,166 1,0 1,-83 1,-83 1,166 1,0 1,-249 1,83 1,83 1,83 1,-83 1,0 1,0 1,0 1,83 1,0 1,-83 1,0 1,83 1,-83 1,0 1,83 1,0 1,-83 1,0 1,83 1,-83 1,0 1,83 1,0 1,-166 1,166 1,-83 1,0 1,83 1,0 1,0 1,0 1,0 1,-166 1,83 1,0 1,83 1,-83 1,83 1,0 1,-83 1,-83 1,83 1,0 1,83 1,0 1,0 1,0 1,-166 1,166 1,0 1,-83 1,83 1,0 1,-83 1,0 1,0 1,0 1,83 1,0 1,0 1,-166 1,166 1,0 1,-83 1,83 1,-83 1,83 1,-166 1,83 1,83 1,-83 1,0 1,83 1,-166 1,166 1,0 1,-166 1,0 1,166 1,0 1,-166 1,166 1,0 1,0 1,-83 1,0 1,83 1,0 1,0 1,0 1,-215 1,215 1,0 1,-83 1,-83 1,83 1,83 1,-166 1,83 1,0 1,83 1,0 1,0 1,-83 1,0 1,0 1,83 1,-83 1,0 1,83 1,-166 1,166 1,0 1,0 1,0 1,-166 1,166 1,0 1,-83 1,0 1,83 1,-166 1,83 1,83 1,0 1,-83 1,0 1,83 1,0 1,0 1,0 1,0 1,-83 1,83 1,-83 1,83 1,0 1,-166 1,166 1,-83 1,0 1,0 1,0 1,83 1,-83 1,83 1,0 1,0 1,-83 1,83 1,0 1,-83 1,0 1,83 1,-83 1,83 1,0 1,0 1,0 1,-83 1,83 1,-83 1,83 1,0 1,0 1,-83 1,0 1,-83 1,83 1,83 1,0 1,-83 1,0 1,0 1,83 1,0 1,0 1,-83 1,0 1,83 1,-83 1,0 1,83 1,0 1,0 1,0 1,0 1,0 1,-166 1,83 1,83 1,-83 1,0 1,-83 1,0 1,83 1,83 1,-83 1,0 1,0 1,83 1,-83 1,83 1,0 1,-83 1,-166 1,249 1,0 1,0 1,0 1,0 1,0 1,-83 1,0 1,83 1,0 1,0 1,0 1,0 1,0 1,-83 1,0 1,83 1,0 1,-83 1,0 1,83 1,0 1,0 1,0 1,-83 1,83 1,0 1,0 1,-83 1,83 1,0 1,-166 1,83 1,83 1,-83 1,-83 1,0 1,166 1,0 1,0 1,0 1,0 1,0 1,0 1,0 1,-83 1,0 1,0 1,83 1,0 1,-83 1,83 1,0 1,-83 1,83 1,-83 1,83 1,0 1,-83 1,0 1,83 1,0 1,0 1,0 1,0 1,-83 1,83 1,-166 1,166 1,0 1,0 1,0 1,0 1,-166 1,83 1,0 1,0 1,83 1,-83 1,83 1,0 1,-83 1,0 1,0 1,0 1,83 1,-83 1,83 1,0 1,-166 1,166 1,0 1,0 1,-215 1,215 1,0 1,-83 1,83 1,0 1,0 1,-83 1,0 1,83 1,0 1,-166 1,-49 1,215 1,0 1,0 1,0 1,0 1,-83 1,83 1,0 1,0 1,-83 1,83 1,0 1,-83 1,83 1,-166 1,83 1,-83 1,0 1,0 1,83 1,83 1,0 1,0 1,0 1,0 1,-166 1,83 1,0 1,83 1,0 1,0 1,-83 1,-83 1,166 1,-83 1,-83 1,166 1,-83 1,-83 1,83 1,0 1,83 1,-83" fill="none" stroke="#66b054" stroke-width="1.0" vector-effect="non-scaling-stroke"/></g>
<g clip-path="url(#dclip)"><path transform="translate(39.7,0) scale(0.106964,0.1)" d="M0,6657 l1,2 1,0 1,2 1,8 1,-2 1,5 1,3 1,3 1,0 1,6 1,6 1,0 1,12 1,-9 1,4 1,11 1,0 1,7 1,-4 1,11 1,-2 1,-1 1,-3 1,6 1,8 1,5 1,-5 1,1 1,11 1,-8 1,9 1,10 1,-4 1,1 1,-1 1,3 1,10 1,-3 1,0 1,0 1,11 1,3 1,-1 1,5 1,2 1,-2 1,7 1,-5 1,14 1,-6 1,4 1,-2 1,-7 1,7 1,-2 1,12 1,7 1,-9 1,5 1,1 1,-2 1,6 1,-19 1,19 1,25 1,-15 1,-3 1,-5 1,8 1,-1 1,8 1,3 1,0 1,-4 1,-4 1,10 1,-10 1,-7 1,4 1,7 1,3 1,6 1,7 1,9 1,-5 1,6 1,0 1,-18 1,7 1,3 1,3 1,13 1,-14 1,9 1,8 1,-5 1,8 1,-10 1,7 1,-2 1,-1 1,-5 1,-9 1,24 1,-2 1,-8 1,-1 1,-10 1,26 1,-27 1,19 1,-11 1,5 1,5 1,-2 1,8 1,11 1,-12 1,3 1,8 1,-12 1,-3 1,3 1,-3 1,3 1,0 1,0 1,22 1,-12 1,-3 1,4 1,2 1,-5 1,22 1,-22 1,21 1,-21 1,-1 1,6 1,7 1,-1 1,-4 1,6 1,-6 1,15 1,-7 1,-5 1,-5 1,26 1,-21 1,1 1,2 1,9 1,-22 1,17 1,2 1,-4 1,-10 1,33 1,-12 1,-8 1,26 1,-20 1,1 1,-5 1,10 1,-5 1,-13 1,13 1,-2 1,-21 1,5 1,23 1,-11 1,20 1,-8 1,-3 1,3 1,-3 1,-9 1,17 1,-1 1,-9 1,14 1,-8 1,-22 1,18 1,1 1,10 1,12 1,-5 1,-10 1,0 1,-8 1,0 1,21 1,-8 1,-8 1,17 1,6 1,-13 1,-12 1,29 1,-16 1,0 1,-11 1,-8 1,5 1,0 1,29 1,-6 1,-4 1,-24 1,3 1,28 1,0 1,-3 1,-4 1,9 1,4 1,-21 1,20 1,-12 1,-2 1,24 1,-25 1,-3 1,2 1,12 1,3 1,23 1,-43 1,10 1,6 1,2 1,-1 1,-11 1,-6 1,30 1,-27 1,3 1,19 1,9 1,-23 1,-16 1,14 1,-8 1,26 1,3 1,10 1,18 1,-40 1,-12 1,29 1,-23 1,9 1,0 1,1 1,7 1,-3 1,8 1,-17 1,-5 1,32 1,-4 1,-9 1,-15 1,3 1,21 1,2 1,-23 1,-9 1,18 1,0 1,24 1,-10 1,-4 1,6 1,-7 1,19 1,-12 1,-26 1,17 1,4 1,-10 1,-9 1,25 1,-1 1,-9 1,-30 1,10 1,23 1,-2 1,-5 1,42 1,-57 1,11 1,29 1,-11 1,8 1,-27 1,14 1,3 1,-14 1,27 1,-21 1,-12 1,33 1,-29 1,0 1,-3 1,13 1,30 1,-18 1,-2 1,21 1,-7 1,-8 1,-4 1,-6 1,15 1,-19 1,17 1,-13 1,20 1,-21 1,-5 1,3 1,0 1,28 1,-30 1,23 1,-14 1,21 1,-31 1,-7 1,30 1,0 1,-16 1,14 1,-9 1,-5 1,19 1,2 1,-16 1,4 1,10 1,-3 1,5 1,18 1,-26 1,-5 1,32 1,-19 1,-7 1,23 1,-21 1,3 1,13 1,-9 1,-24 1,24 1,24 1,-21 1,23 1,-30 1,-5 1,20 1,-10 1,-10 1,-10 1,25 1,-9 1,-4 1,11 1,-3 1,-15 1,12 1,-2 1,-3 1,24 1,2 1,-8 1,-11 1,-9 1,30 1,-23 1,-2 1,-7 1,2 1,12 1,18 1,-17 1,-8 1,12 1,-28 1,21 1,33 1,-47 1,2 1,11 1,-6 1,23 1,-3 1,-3 1,1 1,22 1,-18 1,5 1,3 1,39 1,-35 1,-37 1,53 1,-41 1,5 1,9 1,-6 1,-7 1,26 1,-13 1,11 1,-28 1,1 1,11 1,7 1,30 1,-56 1,8 1,33 1,19 1,-37 1,-12 1,-6 1,36 1,2 1,-25 1,27 1,-26 1,12 1,10 1,15 1,-35 1,22 1,10 1,-22 1,0 1,-13 1,47 1,-18 1,-26 1,28 1,-18 1,-5 1,-5 1,20 1,26 1,-46 1,0 1,54 1,-36 1,2 1,4 1,-24 1,-5 1,27 1,-27 1,64 1,-43 1,-22 1,15 1,0 1,35 1,7 1,-21 1,9 1,-9 1,-10 1,-15 1,7 1,12 1,20 1,-16 1,-12 1,2 1,21 1,-17 1,13 1,-28 1,32 1,0 1,-11 1,4 1,0 1,-25 1,15 1,13 1,21 1,0 1,14 1,-19 1,-21 1,-6 1,11 1,14 1,-40 1,26 1,9 1,-3 1,27 1,-29 1,-9 1,26 1,-12 1,-22 1,43 1,-30 1,9 1,-22 1,-2 1,2 1,46 1,-27 1,29 1,-2 1,-29 1,29 1,-29 1,-9 1,2 1,9 1,3 1,-3 1,-19 1,46 1,-38 1,2 1,-8 1,27 1,-5 1,0 1,-24 1,15 1,28 1,-16 1,25 1,-44 1,29 1,-57 1,47 1,13 1,-21 1,21 1,-18 1,30 1,-52 1,48 1,-48 1,40 1,12 1,-12 1,8 1,-26 1,7 1,-2 1,-8 1,-4 1,60 1,-32 1,0 1,-11 1,16 1,4 1,0 1,-6 1,2 1,-11 1,-29 1,38 1,-9 1,-8 1,-14 1,50 1,-7 1,-3 1,-23 1,8 1,32 1,-11 1,0 1,-13 1,4 1,23 1,-27 1,-8 1,-18 1,33 1,-26 1,23 1,3 1,6 1,-29 1,11 1,22 1,-13 1,6 1,-24 1,34 1,-22 1,9 1,6 1,-24 1,18 1,-3 1,-18 1,24 1,-26 1,11 1,0 1,9 1,9 1,18 1,-18 1,18 1,-31 1,-11 1,3 1,28 1,-16 1,-20 1,36 1,-31 1,21 1,-10 1,-29 1,49 1,0 1,-10 1,-6 1,-6 1,22 1,7 1,0 1,-23 1,20 1,-24 1,62 1,-55 1,-3 1,16 1,-13 1,-28 1,34 1,7 1,19 1,28 1,-47 1,11 1,26 1,-53 1,-18 1,14 1,-19 1,32 1,30 1,-48 1,9 1,0 1,23 1,-20 1,-7 1,35 1,4 1,-4 1,22 1,-30 1,-7 1,-16 1,39 1,-36 1,32 1,13 1,-9 1,5 1,-53 1,12 1,-18 1,42 1,-24 1,17 1,7 1,4 1,-11 1,11 1,-28 1,41 1,-17 1,17 1,-17 1,31 1,-27 1,0 1,8 1,-23 1,-13 1,24 1,-4 1,-3 1,3 1,12 1,-4 1,37 1,6 1,-6 1,-15 1,-47 1,68 1,-51 1,16 1,-4 1,23 1,-27 1,43 1,-11 1,-15 1,-57 1,25 1,19 1,18 1,-33 1,15 1,-12 1,30 1,-30 1,-20 1,55 1,-10 1,-9 1,-4 1,4 1,-16 1,-7 1,-3 1,18 1,-11 1,15 1,-12 1,0 1,30 1,10 1,-75 1,35 1,4 1,36 1,0 1,5 1,-41 1,21 1,26 1,-58 1,28 1,19 1,-19 1,30 1,-35 1,-16 1,21 1,4 1,10 1,34 1,-39 1,27 1,-64 1,28 1,14 1,-19 1,-16 1,25 1,26 1,-58 1,32 1,15 1,-15 1,-9 1,0 1,-8 1,37 1,-15 1,-9 1,-21 1,30 1,-9 1,19 1,-36 1,17 1,-21 1,4 1,21 1,5 1,10 1,-10 1,-5 1,51 1,-46 1,-5 1,15 1,-10 1,46 1,-46 1,-9 1,-5 1,35 1,48 1,-69 1,21 1,-16 1,16 1,-11 1,23 1,-28 1,10 1,-20 1,-25 1,63 1,-63 1,57 1,34 1,-56 1,83 1,-73 1,12 1,-12 1,-10 1,16 1,6 1,-6 1,25 1,-25 1,-11 1,5 1,38 1,-14 1,-18 1,18 1,-48 1,48 1,-61 1,-4 1,72 1,15 1,8 1,-16 1,-48 1,41 1,-31 1,-29 1,24 1,5 1,-15 1,15 1,54 1,-8 1,-61 1,33 1,-47 1,29 1,12 1,-17 1,0 1,-15 1,38 1,6 1,0 1,-34 1,-23 1,128 1,-115 1,15 1,17 1,12 1,0 1,22 1,-46 1,24 1,0 1,39 1,-51 1,-32 1,32 1,6 1,-23 1,29 1,-12 1,-17 1,-19 1,87 1,-63 1,-10 1,-23 1,33 1,31 1,-36 1,-5 1,34 1,59 1,-52 1,-36 1,29 1,-6 1,13 1,-36 1,-10 1,69 1,-30 1,-34 1,34 1,49 1,-83 1,56 1,-28 1,20 1,0 1,-7 1,-31 1,63 1,-78 1,15 1,6 1,67 1,-73 1,24 1,-18 1,0 1,25 1,42 1,-73 1,63 1,-17 1,-8 1,-53 1,61 1,-15 1,-25 1,-26 1,20 1,18 1,20 1,16 1,-30 1,-24 1,18 1,0 1,6 1,-18 1,18 1,-12 1,12 1,14 1,0 1,57 1,-12 1,-37 1,-34 1,12 1,-29 1,100 1,-83 1,26 1,-14 1,0 1,49 1,0 1,-19 1,-48 1,101 1,-61 1,61 1,-34 1,-27 1,-28 1,13 1,-41 1,41 1,-31 1,46 1,-46 1,46 1,49 1,-105 1,117 1,-53 1,41 1,-77 1,65 1,-20 1,-32 1,-31 1,6 1,12 1,45 1,10 1,-10 1,32 1,-22 1,-67 1,-21 1,46 1,23 1,-48 1,57 1,-32 1,64 1,-41 1,-23 1,-25 1,6 1,12 1,83 1,-24 1,-65 1,65 1,73 1,-118 1,-7 1,7 1,57 1,-57 1,25 1,-68 1,161 1,-132 1,7 1,15 1,0 1,0 1,-8 1,83 1,-90 1,-41 1,22 1,6 1,103 1,-90 1,7 1,57 1,12 1,-44 1,44 1,14 1,-14 1,-76 1,42 1,0 1,-27 1,-15 1,64 1,-57 1,-7 1,76 1,-34 1,34 1,-61 1,37 1,-65 1,119 1,-83 1,-54 1,63 1,0 1,74 1,-16 1,-48 1,22 1,-57 1,35 1,-35 1,25 1,58 1,-26 1,-57 1,0 1,45 1,-20 1,10 1,34 1,-24 1,-29 1,41 1,-32 1,44 1,-61 1,-8 1,57 1,-49 1,-34 1,12 1,113 1,-64 1,-42 1,32 1,-9 1,29 1,12 1,-32 1,-39 1,7 1,52 1,54 1,-83 1,53 1,-24 1,24 1,-24 1,0 1,0 1,-65 1,-6 1,51 1,-57 1,18 1,22 1,0 1,110 1,0 1,-102 1,83 1,-74 1,-39 1,132 1,-83 1,48 1,-26 1,109 1,-150 1,-23 1,15 1,8 1,67 1,-14 1,-61 1,0 1,75 1,-26 1,0 1,-41 1,67 1,83 1,-48 1,-83 1,-19 1,124 1,-115 1,32 1,26 1,-75 1,27 1,-19 1,0 1,185 1,-176 1,44 1,30 1,-106 1,106 1,-42 1,12 1,-12 1,12 1,14 1,83 1,-141 1,-17 1,37 1,54 1,19 1,-83 1,48 1,-97 1,97 1,-14 1,0 1,49 1,-102 1,-16 1,57 1,-22 1,0 1,22 1,-41 1,41 1,-32 1,-17 1,110 1,0 1,-125 1,64 1,12 1,-12 1,-57 1,8 1,61 1,-12 1,12 1,-83 1,154 1,-95 1,24 1,0 1,30 1,0 1,-64 1,48 1,-38 1,12 1,0 1,0 1,-22 1,0 1,0 1,48 1,-26 1,-32 1,93 1,-35 1,35 1,-61 1,42 1,-64 1,10 1,54 1,-16 1,16 1,-74 1,0 1,44 1,0 1,-44 1,74 1,-16 1,35 1,-61 1,12 1,-24 1,38 1,-26 1,42 1,-54 1,95 1,-95 1,-20 1,58 1,-48 1,10 1,38 1,-26 1,0 1,0 1,-12 1,-29 1,41 1,26 1,-26 1,42 1,0 1,-30 1,-12 1,83 1,-22 1,83 1,-166 1,22 1,0 1,12 1,0 1,-34 1,64 1,-54 1,-10 1,64 1,0 1,41 1,-22 1,-61 1,61 1,22 1,-71 1,71 1,-41 1,41 1,-71 1,14 1,0 1,-75 1,75 1,57 1,-41 1,-64 1,48 1,0 1,83 1,-83 1,-48 1,22 1,0 1,42 1,-54 1,54 1,-16 1,0 1,16 1,-83 1,150 1,-97 1,-44 1,74 1,0 1,-30 1,14 1,35 1,-35 1,35 1,-35 1,-26 1,26 1,-38 1,73 1,-73 1,54 1,19 1,-35 1,-38 1,12 1,12 1,-61 1,27 1,0 1,64 1,0 1,-42 1,42 1,-42 1,-12 1,12 1,42 1,-16 1,57 1,-57 1,0 1,0 1,-83 1,83 1,-26 1,109 1,-26 1,-71 1,14 1,-48 1,105 1,-41 1,151 1,-84 1,-97 1,30 1,-30 1,181 1,-151 1,41 1,-57 1,16 1,-16 1,-14 1,49 1,-19 1,-16 1,57 1,-22 1,-73 1,38 1,-58 1,58 1,16 1,-54 1,24 1,14 1,-48 1,131 1,-48 1,-19 1,0 1,-16 1,57 1,-105 1,34 1,0 1,30 1,-54 1,38 1,35 1,-49 1,0 1,14 1,83 1,-141 1,93 1,-61 1,0 1,26 1,-14 1,71 1,-57 1,-14 1,14 1,16 1,-74 1,0 1,74 1,0 1,0 1,0 1,41 1,-71 1,132 1,-118 1,0 1,0 1,-26 1,61 1,22 1,26 1,-141 1,93 1,-61 1,0 1,83 1,-83 1,42 1,19 1,-35 1,57 1,-22 1,-49 1,132 1,-35 1,-83 1,16 1,0 1,0 1,67 1,-48 1,22 1,-57 1,16 1,-30 1,49 1,48 1,-67 1,-16 1,0 1,118 1,-144 1,61 1,22 1,61 1,-83 1,-35 1,0 1,118 1,-102 1,67 1,35 1,-61 1,-41 1,-16 1,0 1,16 1,-30 1,49 1,-19 1,0 1,67 1,-48 1,-35 1,16 1,151 1,-151 1,-16 1,57 1,-83 1,0 1,26 1,0 1,0 1,16 1,41 1,61 1,-35 1,-26 1,-57 1,0 1,35 1,22 1,-22 1,0 1,-83 1,105 1,-71 1,-12 1,26 1,-38 1,288 1,-132 1,-83 1,48 1,-67 1,102 1,-35 1,-83 1,0 1,83 1,-26 1,-71 1,181 1,-132 1,22 1,110 1,-49 1,-83 1,-35 1,0 1,0 1,0 1,57 1,-22 1,0 1,0 1,-19 1,151 1,-84 1,-83 1,-14 1,14 1,83 1,-83 1,57 1,61 1,-35 1,-67 1,19 1,83 1,-118 1,118 1,0 1,0 1,-118 1,0 1,0 1,16 1,151 1,-167 1,83 1,-83 1,57 1,193 1,-167 1,-83 1,35 1,83 1,-83 1,22 1,-22 1,48 1,-48 1,0 1,22 1,61 1,0 1,-61 1,-22 1,48 1,-67 1,-30 1,-12 1,26 1,57 1,-22 1,-35 1,16 1,19 1,0 1,22 1,-124 1,317 1,-167 1,-67 1,41 1,-22 1,22 1,26 1,-67 1,41 1,-57 1,57 1,26 1,-141 1,225 1,-205 1,121 1,0 1,-83 1,0 1,35 1,48 1,-97 1,97 1,35 1,-102 1,67 1,-26 1,-105 1,83 1,215 1,-264 1,49 1,-19 1,41 1,193 1,-193 1,26 1,84 1,-49 1,-61 1,110 1,-110 1,-41 1,102 1,-83 1,22 1,26 1,-48 1,48 1,-26 1,61 1,-166 1,131 1,0 1,0 1,-48 1,22 1,-41 1,0 1,41 1,-71 1,30 1,0 1,-54 1,156 1,-83 1,-19 1,0 1,102 1,-83 1,48 1,-121 1,121 1,0 1,-67 1,41 1,-57 1,83 1,-67 1,0 1,102 1,-132 1,181 1,0 1,-110 1,26 1,-26 1,-22 1,-19 1,234 1,-234 1,-16 1,35 1,48 1,-48 1,215 1,-132 1,-35 1,-121 1,38 1,167 1,0 1,83 1,-193 1,61 1,-102 1,19 1,-35 1,16 1,-42 1,109 1,-67 1,67 1,0 1,0 1,84 1,-151 1,41 1,-57 1,118 1,49 1,-49 1,-61 1,-41 1,234 1,-288 1,38 1,83 1,-83 1,57 1,110 1,-181 1,97 1,35 1,-35 1,-67 1,151 1,83 1,-215 1,83 1,49 1,-49 1,49 1,-49 1,-35 1,-26 1,-22 1,132 1,-49 1,-102 1,19 1,48 1,35 1,-83 1,0 1,48 1,-26 1,26 1,-109 1,144 1,0 1,0 1,-118 1,35 1,48 1,0 1,-26 1,26 1,-83 1,118 1,-83 1,22 1,26 1,35 1,-61 1,26 1,-48 1,215 1,-83 1,-110 1,-22 1,0 1,22 1,-41 1,234 1,-215 1,48 1,-48 1,22 1,-22 1,48 1,-26 1,26 1,167 1,-193 1,0 1,26 1,84 1,-110 1,-41 1,19 1,83 1,132 1,-132 1,49 1,-151 1,102 1,-61 1,-41 1,67 1,-48 1,48 1,167 1,-193 1,-83 1,276 1,-250 1,83 1,-26 1,61 1,-61 1,0 1,110 1,-84 1,-48 1,22 1,61 1,49 1,-49 1,-61 1,110 1,-49 1,49 1,83 1,-250 1,83 1,0 1,-26 1,-22 1,48 1,167 1,-132 1,-132 1,97 1,167 1,-193 1,-71 1,132 1,-102 1,102 1,-35 1,-83 1,250 1,-167 1,84 1,-84 1,0 1,35 1,0 1,-61 1,26 1,167 1,-167 1,167 1,-193 1,-41 1,151 1,-151 1,102 1,-61 1,-22 1,48 1,35 1,-102 1,102 1,0 1,-61 1,110 1,-110 1,110 1,-110 1,332 1,-332 1,26 1,84 1,0 1,83 1,-83 1,-49 1,0 1,-61 1,110 1,-110 1,61 1,-61 1,0 1,26 1,35 1,-102 1,373 1,-306 1,35 1,132 1,-193 1,61 1,-132 1,71 1,110 1,0 1,0 1,-132 1,83 1,-118 1,57 1,26 1,-67 1,67 1,-26 1,193 1,-132 1,-61 1,110 1,222 1,-139 1,-132 1,-83 1,83 1,271 1,-222 1,222 1,-306 1,167 1,-132 1,271 1,-222 1,-84 1,84 1,83 1,-193 1,332 1,-139 1,-83 1,-84 1,0 1,-48 1,83 1,-102 1,102 1,-61 1,0 1,193 1,0 1,-132 1,49 1,-49 1,-61 1,110 1,-84 1,0 1,35 1,-83 1,0 1,83 1,-61 1,0 1,110 1,-110 1,0 1,26 1,84 1,-151 1,151 1,83 1,-83 1,0 1,-49 1,-83 1,132 1,-84 1,35 1,-61 1,110 1,-49 1,-61 1,61 1,-35 1,84 1,-132 1,48 1,84 1,-110 1,26 1,-67 1,41 1,332 1,-306 1,0 1,84 1,-49 1,-35 1,167 1,-83 1,-49 1,132 1,-167 1,84 1,-84 1,35 1,-132 1,132 1,132 1,-234 1,102 1,0 1,-102 1,151 1,0 1,-110 1,110 1,-49 1,-102 1,67 1,0 1,167 1,-132 1,-35 1,-26 1,193 1,-132 1,-102 1,151 1,-84 1,-26 1,26 1,35 1,-35 1,167 1,-83 1,83 1,-132 1,-83 1,48 1,0 1,-26 1,-22 1,132 1,-49 1,-83 1,22 1,61 1,-118 1,118 1,-35 1,-26 1,0 1,193 1,-83 1,-84 1,84 1,-49 1,0 1,132 1,-83 1,-110 1,110 1,-49 1,49 1,-84 1,35 1,-35 1,-26 1,61 1,-83 1,83 1,-61 1,193 1,0 1,-132 1,49 1,-49 1,49 1,-151 1,67 1,167 1,0 1,-167 1,35 1,0 1,-35 1,84 1,-84 1,-26 1,110 1,-181 1,132 1,0 1,132 1,-167 1,35 1,-35 1,0 1,0 1,-26 1,110 1,-84 1,-26 1,0 1,26 1,0 1,35 1,132 1,-167 1,0 1,-26 1,0 1,26 1,35 1,49 1,-49 1,49 1,-84 1,84 1,-49 1,132 1,-193 1,0 1,332 1,-389 1,83 1,35 1,0 1,132 1,-193 1,61 1,49 1,-84 1,167 1,139 1,-271 1,49 1,83 1,-167 1,-26 1,332 1,-354 1,83 1,-35 1,84 1,0 1,-49 1,49 1,0 1,-49 1,132 1,0 1,-83 1,-110 1,61 1,0 1,132 1,139 1,-332 1,110 1,0 1,0 1,-84 1,84 1,-49 1,49 1,83 1,-193 1,0 1,110 1,-49 1,-83 1,48 1,35 1,-61 1,26 1,35 1,49 1,-84 1,35 1,-35 1,35 1,-61 1,61 1,49 1,-84 1,35 1,0 1,-35 1,-26 1,-22 1,48 1,167 1,-167 1,84 1,222 1,-139 1,-132 1,49 1,-110 1,-22 1,48 1,167 1,0 1,0 1,-132 1,-35 1,-26 1,61 1,0 1,-61 1,110 1,222 1,-222 1,222 1,-139 1,-193 1,61 1,49 1,83 1,-193 1,0 1,26 1,35 1,132 1,-83 1,-110 1,0 1,26 1,35 1,-35 1,0 1,35 1,132 1,0 1,139 1,-222 1,0 1,222 1,-306 1,84 1,-49 1,49 1,222 1,-222 1,-84 1,167 1,139 1,-222 1,0 1,-84 1,0 1,167 1,139 1,-306 1,35 1,-35 1,0 1,0 1,84 1,83 1,-167 1,84 1,0 1,-49 1,132 1,-250 1,118 1,-61 1,193 1,-132 1,-83 1,215 1,-167 1,84 1,-84 1,0 1,-97 1,71 1,0 1,26 1,84 1,0 1,-132 1,83 1,0 1,271 1,-139 1,-132 1,0 1,-83 1,354 1,-332 1,61 1,-83 1,132 1,83 1,-83 1,83 1,-167 1,167 1,-167 1,84 1,-49 1,-61 1,110 1,83 1,0 1,-132 1,0 1,49 1,-49 1,271 1,-306 1,306 1,-139 1,-167 1,-26 1,-57 1,57 1,26 1,0 1,35 1,49 1,-84 1,84 1,-110 1,26 1,167 1,-83 1,0 1,-84 1,35 1,49 1,-110 1,332 1,-271 1,0 1,0 1,-35 1,0 1,84 1,-110 1,193 1,139 1,-271 1,49 1,83 1,-83 1,-49 1,0 1,132 1,0 1,139 1,-139 1,-132 1,0 1,49 1,-84 1,35 1,0 1,49 1,-49 1,-35 1,35 1,49 1,0 1,-84 1,0 1,-26 1,26 1,35 1,0 1,-83 1,215 1,0 1,-193 1,0 1,110 1,-49 1,-61 1,61 1,49 1,222 1,-306 1,35 1,-61 1,26 1,35 1,132 1,-132 1,132 1,-83 1,-84 1,84 1,-49 1,-61 1,0 1,110 1,0 1,0 1,0 1,0 1,-49 1,-61 1,110 1,-84 1,0 1,84 1,-49 1,-35 1,35 1,49 1,83 1,-193 1,0 1,61 1,132 1,0 1,0 1,-83 1,0 1,-49 1,-35 1,35 1,49 1,222 1,-139 1,0 1,0 1,-83 1,-110 1,193 1,-193 1,193 1,-167 1,-67 1,151 1,83 1,-167 1,84 1,0 1,0 1,222 1,-271 1,-61 1,-22 1,83 1,49 1,0 1,0 1,0 1,83 1,-132 1,132 1,-132 1,-35 1,-67 1,41 1,110 1,0 1,-49 1,0 1,271 1,-332 1,193 1,-167 1,167 1,-167 1,-26 1,110 1,83 1,0 1,-167 1,35 1,132 1,-132 1,49 1,-49 1,-35 1,35 1,0 1,-61 1,26 1,84 1,-49 1,-35 1,84 1,-84 1,167 1,-215 1,83 1,49 1,-84 1,0 1,167 1,-83 1,0 1,-110 1,0 1,193 1,-167 1,167 1,-167 1,0 1,0 1,167 1,-132 1,132 1,0 1,-132 1,132 1,-234 1,102 1,49 1,0 1,83 1,0 1,-132 1,271 1,-139 1,-167 1,0 1,-26 1,61 1,-35 1,167 1,-167 1,84 1,0 1,0 1,0 1,0 1,0 1,-84 1,167 1,-132 1,-61 1,26 1,0 1,-26 1,193 1,-132 1,0 1,132 1,-132 1,-118 1,250 1,-215 1,48 1,84 1,83 1,-132 1,-35 1,0 1,0 1,0 1,35 1,0 1,-35 1,35 1,0 1,-61 1,193 1,-83 1,-84 1,167 1,-167 1,306 1,-222 1,83 1,-193 1,110 1,0 1,-110 1,193 1,0 1,-83 1,-84 1,0 1,167 1,-132 1,132 1,0 1,0 1,-167 1,0 1,35 1,0 1,-61 1,110 1,0 1,83 1,-83 1,0 1,-110 1,193 1,0 1,139 1,-139 1,-167 1,35 1,0 1,-102 1,151" fill="none" stroke="#1b6a3b" stroke-width="1.05" vector-effect="non-scaling-stroke"/></g>
<g clip-path="url(#dclip)"><path transform="translate(39.7,0) scale(0.106964,0.1)" d="M0,6756 l1,27 1,8 1,21 1,15 1,2 1,25 1,19 1,14 1,11 1,17 1,16 1,18 1,6 1,8 1,18 1,12 1,44 1,9 1,0 1,10 1,16 1,48 1,-14 1,47 1,-44 1,57 1,8 1,-21 1,59 1,-51 1,58 1,-13 1,34 1,-15 1,24 1,-9 1,76 1,16 1,-65 1,83 1,-18 1,18 1,22 1,-56 1,166 1,-132 1,-18 1,40 1,-40 1,0 1,101 1,215 1,-249 1,-67 1,150 1,-49 1,0 1,49 1,-83 1,-49 1,49 1,-67 1,101 1,-131 1,97 1,34 1,49 1,166 1,-166 1,-83 1,-27 1,193 1,-193 1,110 1,0 1,-49 1,49 1,0 1,-83 1,0 1,0 1,-27 1,61 1,-61 1,0 1,27 1,-27 1,0 1,27 1,-27 1,61 1,-34 1,83 1,-49 1,49 1,83 1,-132 1,-83 1,132 1,0 1,-83 1,-27 1,61 1,-34 1,249 1,-166 1,166 1,-215 1,0 1,0 1,0 1,49 1,-49 1,49 1,0 1,-49 1,0 1,132 1,-132 1,49 1,-83 1,0 1,166 1,0 1,-83 1,0 1,0 1,0 1,83 1,0 1,-83 1,0 1,-49 1,-61 1,61 1,215 1,-215 1,49 1,-83 1,83 1,-110 1,276 1,-276 1,110 1,166 1,-166 1,-49 1,-61 1,110 1,0 1,0 1,0 1,0 1,83 1,-166 1,34 1,132 1,0 1,0 1,-83 1,166 1,-166 1,83 1,-83 1,-83 1,83 1,83 1,-132 1,215 1,-166 1,166 1,-83 1,0 1,-132 1,215 1,-215 1,49 1,166 1,0 1,-166 1,166 1,-166 1,166 1,-249 1,166 1,-83 1,0 1,0 1,0 1,83 1,-83 1,166 1,-166 1,83 1,-83 1,83 1,-83 1,166 1,-249 1,166 1,-83 1,0 1,166 1,-83 1,-83 1,83 1,-166 1,83 1,83 1,83 1,-166 1,-49 1,215 1,-215 1,0 1,-34 1,249 1,-83 1,0 1,-83 1,166 1,0 1,0 1,-83 1,-132 1,0 1,132 1,0 1,0 1,-83 1,83 1,0 1,-83 1,166 1,-166 1,-83 1,249 1,-83 1,0 1,0 1,0 1,83 1,-166 1,0 1,83 1,0 1,-132 1,132 1,-83 1,83 1,0 1,-83 1,166 1,-166 1,0 1,0 1,166 1,0 1,-83 1,-83 1,83 1,83 1,0 1,-83 1,0 1,83 1,-166 1,83 1,-83 1,166 1,-83 1,0 1,-132 1,49 1,166 1,0 1,-166 1,166 1,-83 1,83 1,-83 1,0 1,-83 1,-49 1,215 1,-215 1,132 1,0 1,-132 1,215 1,-83 1,-132 1,49 1,0 1,83 1,0 1,83 1,-166 1,166 1,0 1,-83 1,83 1,-166 1,166 1,-166 1,83 1,83 1,-83 1,-166 1,249 1,0 1,0 1,-83 1,83 1,-83 1,0 1,83 1,-83 1,83 1,-166 1,83 1,83 1,-276 1,276 1,0 1,-83 1,83 1,0 1,-83 1,83 1,0 1,-83 1,83 1,-83 1,0 1,83 1,-83 1,83 1,0 1,-249 1,83 1,166 1,-83 1,83 1,-83 1,83 1,-83 1,83 1,-83 1,0 1,83 1,-83 1,83 1,0 1,0 1,-83 1,-83 1,83 1,83 1,-83 1,0 1,0 1,0 1,83 1,-215 1,132 1,83 1,0 1,-166 1,0 1,83 1,83 1,0 1,0 1,-166 1,166 1,0 1,-83 1,0 1,0 1,-132 1,49 1,166 1,-83 1,83 1,-83 1,0 1,83 1,-83 1,83 1,0 1,0 1,-83 1,83 1,-83 1,83 1,0 1,-83 1,83 1,0 1,0 1,-83 1,-83 1,166 1,-83 1,-83 1,83 1,83 1,0 1,-83 1,83 1,0 1,0 1,0 1,-83 1,83 1,-83 1,83 1,0 1,-83 1,83 1,0 1,0 1,0 1,0 1,0 1,0 1,0 1,0 1,0 1,0 1,0 1,-83 1,83 1,-83 1,83 1,-83 1,83 1,-166 1,-49 1,215 1,0 1,0 1,0 1,0 1,0 1,-83 1,83 1,0 1,-83 1,83 1,0 1,0 1,0 1,0 1,-83 1,83 1,-83 1,83 1,0 1,-83 1,0 1,83 1,-83 1,83 1,0 1,0 1,0 1,0 1,0 1,0 1,0 1,0 1,-83 1,83 1,-83 1,83 1,0 1,0 1,0 1,0 1,0 1,0 1,-83 1,83 1,0 1,0 1,-166 1,166 1,-83 1,83 1,-83 1,83 1,-83 1,83 1,0 1,0 1,-83 1,83 1,0 1,0 1,0 1,0 1,-83 1,83 1,0 1,0 1,0 1,0 1,0 1,-166 1,166 1,-83 1,83 1,0 1,0 1,-83 1,83 1,0 1,0 1,0 1,0 1,0 1,0 1,0 1,0 1,0 1,0 1,-83 1,83 1,0 1,0 1,-83 1,0 1,83 1,0 1,0 1,-83 1,0 1,83 1,0 1,0 1,0 1,0 1,0 1,0 1,0 1,-83 1,83 1,0 1,0 1,-83 1,83 1,0 1,0 1,0 1,0 1,0 1,0 1,0 1,0 1,0 1,0 1,0 1,0 1,-83 1,83 1,0 1,0 1,0 1,0 1,0 1,-83 1,0 1,83 1,0 1,0 1,0 1,-83 1,83 1,0 1,0 1,0 1,0 1,-83 1,0 1,83 1,0 1,0 1,0 1,0 1,0 1,0 1,0 1,0 1,0 1,0 1,-83 1,83 1,0 1,0 1,-83 1,83 1,0 1,0 1,0 1,0 1,0 1,0 1,0 1,-83 1,83 1,-83 1,83 1,0 1,0 1,0 1,0 1,-83 1,83 1,0 1,0 1,0 1,-83 1,83 1,0 1,-83 1,83 1,0 1,0 1,0 1,0 1,0 1,0 1,0 1,0 1,0 1,0 1,0 1,0 1,-83 1,83 1,0 1,0 1,0 1,0 1,-83 1,83 1,-83 1,83 1,0 1,-83 1,83 1,-83 1,83 1,0 1,0 1,0 1,0 1,0 1,0 1,0 1,0 1,0 1,0 1,0 1,0 1,0 1,0 1,0 1,0 1,0 1,0 1,-83 1,83 1,0 1,0 1,0 1,0 1,-83 1,83 1,0 1,0 1,0 1,0 1,0 1,0 1,0 1,-166 1,166 1,0 1,0 1,0 1,0 1,0 1,0 1,0 1,0 1,0 1,0 1,0 1,0 1,0 1,0 1,-83 1,83 1,0 1,-215 1,215 1,0 1,0 1,0 1,0 1,0 1,0 1,0 1,0 1,0 1,-83 1,83 1,-83 1,83 1,0 1,0 1,0 1,0 1,0 1,0 1,0 1,0 1,-83 1,83 1,0 1,0 1,0 1,0 1,0 1,0 1,0 1,0 1,0 1,0 1,0 1,0 1,0 1,0 1,0 1,0 1,0 1,0 1,0 1,0 1,0 1,-83 1,83 1,0 1,0 1,-83 1,83 1,0 1,0 1,0 1,0 1,0 1,0 1,-83 1,83 1,0 1,0 1,0 1,0 1,0 1,0 1,0 1,0 1,0 1,0 1,0 1,0 1,0 1,0 1,0 1,0 1,0 1,0 1,0 1,0 1,0 1,0 1,0 1,0 1,0 1,0 1,0 1,0 1,0 1,0 1,0 1,0 1,0 1,-83 1,83 1,0 1,0 1,0 1,0 1,0 1,0 1,0 1,0 1,0 1,0 1,0 1,0 1,0 1,0 1,0 1,0 1,0 1,0 1,0 1,0 1,-83 1,83 1,0 1,0 1,0 1,0 1,0 1,-83 1,83 1,0 1,0 1,-83 1,83 1,0 1,-83 1,83 1,0 1,0 1,0 1,0 1,0 1,0 1,0 1,0 1,-83 1,83 1,0 1,0 1,0 1,0 1,0 1,0 1,0 1,0 1,0 1,-83 1,83 1,0 1,0 1,0 1,0 1,0 1,0 1,0 1,0 1,0 1,0 1,0 1,0 1,0 1,0 1,0 1,0 1,0 1,0 1,0 1,-83 1,83 1,0 1,0 1,0 1,-83 1,83 1,0 1,0 1,0 1,0 1,0 1,-83 1,83 1,0 1,0 1,0 1,0 1,0 1,-83 1,83 1,0 1,0 1,0 1,0 1,0 1,0 1,0 1,0 1,0 1,0 1,0 1,0 1,0 1,0 1,0 1,0 1,0 1,0 1,0 1,0 1,0 1,0 1,0 1,0 1,0 1,0 1,0 1,0 1,0 1,0 1,-83 1,83 1,0 1,0 1,0 1,0 1,0 1,-83 1,0 1,83 1,0 1,0 1,0 1,0 1,0 1,0 1,0 1,0 1,0 1,0 1,0 1,0 1,0 1,0 1,0 1,0 1,0 1,0 1,0 1,0 1,0 1,0 1,0 1,0 1,0 1,0 1,0 1,0 1,0 1,0 1,0 1,0 1,0 1,0 1,0 1,0 1,0 1,0 1,0 1,-83 1,83 1,0 1,0 1,0 1,0 1,0 1,0 1,0 1,-83 1,83 1,0 1,0 1,0 1,0 1,0 1,0 1,-83 1,83 1,0 1,0 1,0 1,0 1,0 1,0 1,0 1,0 1,0 1,0 1,0 1,0 1,0 1,0 1,0 1,0 1,0 1,0 1,0 1,-83 1,83 1,0 1,0 1,0 1,0 1,0 1,0 1,0 1,0 1,0 1,0 1,0 1,0 1,0 1,0 1,0 1,0 1,0 1,0 1,0 1,0 1,0 1,0 1,0 1,0 1,0 1,0 1,0 1,0 1,0 1,0 1,0 1,0 1,0 1,0 1,0 1,0 1,0 1,0 1,0 1,0 1,0 1,0 1,0 1,0 1,-83 1,83 1,0 1,0 1,0 1,-83 1,83 1,0 1,0 1,0 1,0 1,0 1,0 1,0 1,0 1,0 1,0 1,0 1,0 1,0 1,0 1,0 1,0 1,0 1,0 1,0 1,0 1,0 1,0 1,0 1,0 1,0 1,0 1,0 1,0 1,0 1,0 1,0 1,0 1,0 1,0 1,0 1,0 1,0 1,0 1,0 1,0 1,0 1,0 1,0 1,0 1,0 1,0 1,0 1,0 1,0 1,0 1,0 1,0 1,0 1,0 1,0 1,0 1,0 1,0 1,-83 1,83 1,0 1,0 1,0 1,0 1,0 1,-83 1,83 1,0 1,0 1,0 1,0 1,0 1,0 1,0 1,0 1,0 1,0 1,0 1,0 1,0 1,0 1,0 1,0 1,0 1,0 1,0 1,0 1,0 1,0 1,0 1,0 1,0 1,0 1,0 1,0 1,0 1,0 1,0 1,0 1,0 1,0 1,0 1,0 1,0 1,0 1,0 1,0 1,0 1,0 1,0 1,0 1,0 1,0 1,0 1,-166 1,166 1,0 1,0 1,0 1,0 1,0 1,-83 1,83 1,0 1,0 1,-83 1,83 1,0 1,0 1,0 1,0 1,0 1,0 1,0 1,0 1,0 1,0 1,0 1,0 1,0 1,0 1,0 1,0 1,0 1,0 1,0 1,0 1,0 1,-83 1,83 1,0 1,0 1,0 1,0 1,0 1,0 1,0 1,0 1,0 1,0 1,0 1,0 1,0 1,0 1,0 1,0 1,0 1,0 1,0 1,0 1,0 1,0 1,0 1,0 1,0 1,0 1,0 1,0 1,0 1,0 1,0 1,0 1,0 1,0 1,0 1,0 1,0 1,0 1,0 1,0 1,0 1,0 1,0 1,0 1,0 1,0 1,0 1,0 1,0 1,0 1,0 1,0 1,0 1,0 1,0 1,0 1,0 1,0 1,0 1,0 1,0 1,0 1,0 1,0 1,0 1,0 1,0 1,0 1,0 1,0 1,0 1,0 1,0 1,0 1,0 1,0 1,0 1,0 1,0 1,0 1,0 1,0 1,0 1,0 1,0 1,0 1,0 1,0 1,0 1,0 1,0 1,0 1,0 1,0 1,0 1,0 1,0 1,0 1,0 1,0 1,0 1,0 1,0 1,0 1,0 1,0 1,0 1,0 1,0 1,0 1,0 1,0 1,0 1,0 1,0 1,0 1,0 1,0 1,0 1,0 1,0 1,0 1,0 1,0 1,0 1,0 1,0 1,0 1,0 1,0 1,0 1,0 1,0 1,0 1,0 1,0 1,0 1,0 1,0 1,0 1,-83 1,83 1,0 1,0 1,0 1,0 1,0 1,0 1,0 1,0 1,0 1,0 1,0 1,0 1,0 1,0 1,0 1,0 1,0 1,0 1,0 1,0 1,0 1,0 1,0 1,0 1,0 1,0 1,0 1,-83 1,83 1,0 1,0 1,0 1,0 1,0 1,0 1,0 1,0 1,0 1,0 1,0 1,0 1,0 1,0 1,0 1,0 1,0 1,0 1,0 1,0 1,0 1,0 1,0 1,0 1,0 1,0 1,0 1,0 1,0 1,0 1,0 1,0 1,0 1,0 1,0 1,0 1,0 1,0 1,0 1,0 1,0 1,0 1,0 1,0 1,0 1,0 1,0 1,0 1,0 1,0 1,0 1,0 1,0 1,0 1,0 1,0 1,0 1,0 1,0 1,0 1,0 1,0 1,0 1,0 1,0 1,0 1,0 1,0 1,0 1,0 1,0 1,0 1,0 1,0 1,0 1,0 1,0 1,0 1,0 1,0 1,0 1,0 1,0 1,0 1,0 1,0 1,0 1,0 1,0 1,0 1,0 1,0 1,0 1,0 1,0 1,0 1,0 1,0 1,0 1,0 1,0 1,0 1,0 1,0 1,0 1,0 1,0 1,0 1,0 1,0 1,0 1,0 1,0 1,0 1,0 1,0 1,0 1,0 1,0 1,0 1,0 1,0 1,0 1,0 1,0 1,0 1,0 1,0 1,0 1,0 1,0 1,0 1,-83 1,83 1,0 1,-166 1,166 1,0 1,0 1,0 1,0 1,0 1,0 1,0 1,0 1,0 1,0 1,0 1,0 1,0 1,0 1,0 1,0 1,0 1,0 1,0 1,0 1,0 1,0 1,0 1,0 1,0 1,0 1,-83 1,83 1,0 1,0 1,0 1,0 1,0 1,0 1,0 1,0 1,0 1,0 1,0 1,0 1,0 1,0 1,0 1,0 1,0 1,0 1,0 1,0 1,0 1,0 1,0 1,0 1,0 1,0 1,0 1,0 1,0 1,0 1,0 1,0 1,0 1,-83 1,83 1,0 1,0 1,0 1,0 1,0 1,0 1,0 1,0 1,0 1,0 1,0 1,0 1,0 1,0 1,0 1,0 1,0 1,0 1,0 1,0 1,0 1,0 1,0 1,0 1,0 1,0 1,0 1,0 1,0 1,0 1,0 1,0 1,0 1,0 1,0 1,0 1,0 1,0 1,0 1,0 1,0 1,0 1,0 1,0 1,0 1,0 1,0 1,0 1,-83 1,83 1,0 1,0 1,0 1,0 1,0 1,0 1,0 1,0 1,0 1,0 1,0 1,0 1,-83 1,83 1,0 1,0 1,0 1,0 1,0 1,0 1,0 1,0 1,0 1,0 1,0 1,0 1,0 1,0 1,0 1,-83 1,83 1,0 1,-83 1,83 1,0 1,0 1,0 1,0 1,0 1,0 1,0 1,-83 1,83 1,0 1,0 1,0 1,0 1,0 1,0 1,0 1,0 1,0 1,0 1,0 1,0 1,0 1,0 1,0 1,0 1,0 1,0 1,0 1,0 1,0 1,0 1,0 1,0 1,0 1,0 1,0 1,0 1,0 1,0 1,0 1,0 1,0 1,0 1,0 1,0 1,0 1,0 1,0 1,0 1,0 1,0 1,0 1,0 1,0 1,0 1,0 1,0 1,0 1,0 1,0 1,0 1,0 1,0 1,0 1,0 1,0 1,0 1,0 1,0 1,0 1,0 1,-83 1,83 1,0 1,0 1,0 1,0 1,0 1,0 1,0 1,0 1,0 1,0 1,0 1,0 1,-83 1,83 1,0 1,0 1,0 1,0 1,0 1,0 1,0 1,0 1,0 1,0 1,0 1,0 1,0 1,0 1,0 1,0 1,0 1,0 1,0 1,0 1,0 1,0 1,0 1,0 1,0 1,0 1,0 1,0 1,0 1,-83 1,83 1,0 1,0 1,0 1,0 1,0 1,0 1,-83 1,83 1,0 1,0 1,0 1,0 1,0 1,0 1,0 1,0 1,0 1,0 1,0 1,0 1,0 1,0 1,0 1,0 1,0 1,0 1,0 1,0 1,0 1,0 1,0 1,0 1,0 1,0 1,0 1,0 1,0 1,0 1,0 1,0 1,0 1,0 1,0 1,0 1,0 1,0 1,0 1,0 1,0 1,0 1,0 1,0 1,0 1,0 1,0 1,0 1,0 1,0 1,0 1,0 1,0 1,0 1,0 1,0 1,0 1,0 1,0 1,0 1,0 1,0 1,0 1,0 1,0 1,0 1,0 1,0 1,0 1,0 1,0 1,0 1,0 1,0 1,0 1,0 1,0 1,0 1,0 1,0 1,0 1,0 1,0 1,0 1,0 1,0 1,0 1,0 1,0 1,0 1,0 1,0 1,0 1,0 1,0 1,0 1,0 1,0 1,0 1,0 1,0 1,0 1,-83 1,83 1,0 1,0 1,0 1,0 1,0 1,0 1,-83 1,83 1,0 1,0 1,0 1,0 1,0 1,0 1,0 1,-83 1,83 1,0 1,0 1,0 1,0 1,0 1,0 1,0 1,0 1,0 1,0 1,0 1,0 1,0 1,0 1,0 1,0 1,0 1,0 1,0 1,0 1,0 1,0 1,0 1,0 1,0 1,0 1,0 1,0 1,0 1,0 1,0 1,0 1,0 1,0 1,0 1,0 1,0 1,0 1,0 1,0 1,0 1,0 1,0 1,0 1,0 1,0 1,0 1,0 1,0 1,0 1,0 1,0 1,0 1,0 1,0 1,0 1,0 1,0 1,0 1,0 1,0 1,0 1,0 1,0 1,0 1,0 1,0 1,0 1,0 1,0 1,0 1,0 1,0 1,0 1,0 1,0 1,0 1,0 1,0 1,0 1,0 1,0 1,0 1,0 1,0 1,0 1,0 1,0 1,0 1,0 1,0 1,0 1,0 1,0 1,0 1,0 1,0 1,0 1,0 1,0 1,0 1,0 1,0 1,0 1,0 1,0 1,0 1,0 1,0 1,0 1,0 1,0 1,0 1,0 1,0 1,0 1,0 1,0 1,0 1,0 1,0 1,0 1,0 1,0 1,0 1,0 1,0 1,0 1,0 1,0 1,0 1,0 1,0 1,0 1,0 1,0 1,0 1,0 1,0 1,0 1,0 1,0 1,0 1,0 1,0 1,0 1,0 1,0 1,0 1,0 1,0 1,0 1,0 1,0 1,0 1,0 1,0 1,0 1,0 1,0 1,0 1,0 1,0 1,0 1,0 1,0 1,0 1,0 1,0 1,0 1,0 1,0 1,0 1,0 1,0 1,0 1,0 1,0 1,0 1,0 1,0 1,0 1,0 1,0 1,0 1,0 1,0 1,0 1,-83 1,83 1,0 1,0 1,0 1,0 1,0 1,0 1,0 1,0 1,0 1,0 1,0 1,0 1,0 1,0 1,0 1,0 1,0 1,0 1,0 1,0 1,0 1,0 1,0 1,0 1,0 1,-83 1,83 1,0 1,0 1,0 1,0 1,0 1,0 1,0 1,0 1,-83 1,83 1,0 1,0 1,0 1,0 1,0 1,0 1,0 1,0 1,0 1,0 1,0 1,0 1,0 1,0 1,0 1,0 1,0 1,0 1,0 1,0 1,0 1,0 1,0 1,0 1,0 1,0 1,0 1,0 1,0 1,0 1,0 1,0 1,0 1,0 1,0 1,0 1,0 1,0 1,0 1,0 1,0 1,0 1,0 1,0 1,0 1,0 1,0 1,0 1,0 1,0 1,0 1,0 1,0 1,0 1,0 1,0 1,0 1,0 1,0 1,0 1,0 1,0 1,0 1,0 1,0 1,0 1,0 1,0 1,-83 1,83 1,0 1,0 1,0 1,0 1,0 1,0 1,0 1,-83 1,83 1,0 1,0 1,0 1,0 1,0 1,0 1,0 1,0 1,0 1,0 1,0 1,0 1,0 1,0 1,-83 1,83 1,0 1,0 1,0 1,0 1,0 1,0 1,0 1,0 1,0 1,0 1,0 1,0 1,0 1,0 1,0 1,0 1,0 1,0 1,0 1,0 1,0 1,0 1,0 1,0 1,0 1,0 1,0 1,0 1,0 1,0 1,0 1,0 1,0 1,0 1,0 1,0 1,0 1,0 1,0 1,0 1,0 1,0 1,0 1,0 1,0 1,0 1,0 1,0 1,0 1,0 1,0 1,0 1,0 1,0 1,0 1,0 1,0 1,0 1,0 1,0 1,0 1,0 1,0 1,0 1,0 1,0 1,0 1,0 1,0 1,0 1,0 1,0 1,0 1,0 1,0 1,0 1,0 1,0 1,0 1,0 1,0 1,0 1,0 1,0 1,0 1,0 1,0 1,0 1,0 1,0 1,0 1,0 1,0 1,0 1,0 1,0 1,0 1,0 1,0 1,0 1,0 1,0 1,0 1,0 1,0 1,0 1,0 1,0 1,0 1,0 1,-83 1,83 1,0 1,0 1,0 1,0 1,0 1,0 1,0 1,0 1,0 1,0 1,0 1,0 1,0 1,0 1,0 1,0 1,0 1,0 1,0 1,0 1,-83 1,83 1,0 1,0 1,0 1,0 1,0 1,0 1,0 1,0 1,0 1,0 1,0 1,0 1,0 1,0 1,0 1,0 1,0 1,0 1,0 1,0 1,0 1,0 1,0 1,0 1,0 1,0 1,0 1,0 1,0 1,0 1,0 1,0 1,0 1,0 1,0 1,0 1,0 1,0 1,0 1,0 1,0 1,0 1,0 1,0 1,0 1,0 1,0 1,0 1,0 1,0 1,0 1,0 1,0 1,0 1,0 1,0 1,0 1,0 1,0 1,0 1,0 1,0 1,0 1,0 1,0 1,0 1,0 1,0 1,0 1,0 1,0 1,0 1,0 1,0 1,0 1,0 1,0 1,0 1,0 1,0 1,0 1,0 1,0 1,0 1,0 1,0 1,0 1,0 1,0 1,0 1,0 1,0 1,0 1,0 1,0 1,0 1,0 1,0 1,0 1,0 1,0 1,0 1,0 1,0 1,0 1,0 1,0 1,0 1,0 1,0 1,0 1,0 1,0 1,0 1,0 1,0 1,0 1,0 1,0 1,0 1,0 1,0 1,0 1,0 1,0 1,0 1,0 1,0 1,0 1,0 1,0 1,0 1,0 1,0 1,0 1,0 1,0 1,0 1,0 1,0 1,0 1,0 1,0 1,0 1,0 1,0 1,0 1,0 1,0 1,0 1,0 1,0 1,0 1,0 1,0 1,0 1,0 1,0 1,0 1,0 1,0 1,0 1,0 1,0 1,0 1,0 1,0 1,0 1,0 1,0 1,0 1,0 1,0 1,0 1,0 1,0 1,0 1,0 1,0 1,0 1,0 1,0 1,0 1,0 1,0 1,0 1,0 1,0 1,0 1,0 1,0 1,0 1,0 1,0 1,0 1,0 1,0 1,0 1,0 1,0 1,0 1,0 1,0 1,0 1,-83 1,83 1,-83 1,83 1,0 1,0 1,0 1,0 1,0 1,0 1,0 1,0 1,0 1,0 1,0 1,0 1,0 1,0" fill="none" stroke="#d8d860" stroke-width="0.9" vector-effect="non-scaling-stroke"/></g>
<text x="56.6" y="676.1" font-size="9" text-anchor="start" fill="#231f20" >NaGd<tspan font-size="6.7" dy="2.3">0.6</tspan><tspan dy="-2.3">F</tspan><tspan font-size="6.7" dy="2.3">4</tspan><tspan dy="-2.3">:Tb</tspan><tspan font-size="6.7" dy="2.3">0.4</tspan><tspan dy="-2.3">@ligand</tspan></text>
<text x="203.4" y="676.8" font-size="9" text-anchor="start" fill="#231f20" >Ligand =</text>
<line x1="244.4" y1="673.6" x2="266.2" y2="673.6" stroke="#e2de98" stroke-width="1.6" />
<text x="270.4" y="676.8" font-size="9" text-anchor="start" fill="#231f20" >OA</text>
<line x1="244.4" y1="686" x2="266.2" y2="686" stroke="#8cc070" stroke-width="1.6" />
<text x="270.4" y="689.2" font-size="9" text-anchor="start" fill="#231f20" >Null</text>
<line x1="244.4" y1="698.4" x2="266.2" y2="698.4" stroke="#3c7a58" stroke-width="1.6" />
<text x="270.4" y="701.6" font-size="9" text-anchor="start" fill="#231f20" >CzPPOA</text>
<line x1="44.7" y1="748" x2="86.8" y2="705.9" stroke="#000" stroke-width="1.2" />
<path d="M91.8,701 L89.1,708.2 L84.6,703.7 Z" stroke="none" fill="#000" stroke-width="0.8" />
<text x="366" y="553" font-size="11" text-anchor="start" fill="#231f20" font-weight="bold">f</text>
<rect x="396.5" y="576" width="282.5" height="4.6" fill="url(#cbar)" />
<text x="397.8" y="572" font-size="9" text-anchor="middle" fill="#231f20" >0</text>
<line x1="442.2" y1="576" x2="442.2" y2="580.6" stroke="#333" stroke-width="0.6" />
<text x="442.2" y="572" font-size="9" text-anchor="middle" fill="#231f20" >0.5</text>
<line x1="486.6" y1="576" x2="486.6" y2="580.6" stroke="#333" stroke-width="0.6" />
<text x="486.6" y="572" font-size="9" text-anchor="middle" fill="#231f20" >1.0</text>
<line x1="531" y1="576" x2="531" y2="580.6" stroke="#333" stroke-width="0.6" />
<text x="531" y="572" font-size="9" text-anchor="middle" fill="#231f20" >1.5</text>
<line x1="575.4" y1="576" x2="575.4" y2="580.6" stroke="#333" stroke-width="0.6" />
<text x="575.4" y="572" font-size="9" text-anchor="middle" fill="#231f20" >2.0</text>
<line x1="619.8" y1="576" x2="619.8" y2="580.6" stroke="#333" stroke-width="0.6" />
<text x="619.8" y="572" font-size="9" text-anchor="middle" fill="#231f20" >2.5</text>
<line x1="664.2" y1="576" x2="664.2" y2="580.6" stroke="#333" stroke-width="0.6" />
<text x="664.2" y="572" font-size="9" text-anchor="middle" fill="#231f20" >3.0</text>
<text x="507" y="559" font-size="9" text-anchor="start" fill="#231f20" >Log count (10<tspan font-size="6" dy="-4">3</tspan><tspan dy="4">)</tspan></text>
<rect x="396.5" y="586" width="281.9" height="168.8" fill="#1d2e5c" />
<g clip-path="url(#fclip)"><g filter="url(#fbl)"><rect x="396.5" y="606" width="281.9" height="2" fill="url(#h1_0)"/><rect x="396.5" y="607.5" width="281.9" height="2" fill="url(#h1_1)"/><rect x="396.5" y="609" width="281.9" height="2" fill="url(#h1_2)"/><rect x="396.5" y="610.5" width="281.9" height="2" fill="url(#h1_3)"/><rect x="396.5" y="612" width="281.9" height="2" fill="url(#h1_4)"/><rect x="396.5" y="613.5" width="281.9" height="2" fill="url(#h1_5)"/><rect x="396.5" y="615" width="281.9" height="2" fill="url(#h1_6)"/><rect x="396.5" y="616.5" width="281.9" height="2" fill="url(#h1_7)"/><rect x="396.5" y="618" width="281.9" height="2" fill="url(#h1_8)"/><rect x="396.5" y="619.5" width="281.9" height="2" fill="url(#h1_9)"/><rect x="396.5" y="621" width="281.9" height="2" fill="url(#h1_10)"/><rect x="396.5" y="622.5" width="281.9" height="2" fill="url(#h1_11)"/><rect x="396.5" y="624" width="281.9" height="2" fill="url(#h1_12)"/><rect x="396.5" y="625.5" width="281.9" height="2" fill="url(#h1_13)"/><rect x="396.5" y="627" width="281.9" height="2" fill="url(#h1_14)"/><rect x="396.5" y="628.5" width="281.9" height="2" fill="url(#h1_15)"/><rect x="396.5" y="630" width="281.9" height="2" fill="url(#h1_16)"/><rect x="396.5" y="631.5" width="281.9" height="2" fill="url(#h1_17)"/><rect x="396.5" y="633" width="281.9" height="2" fill="url(#h1_18)"/><rect x="396.5" y="634.5" width="281.9" height="2" fill="url(#h1_19)"/><rect x="396.5" y="636" width="281.9" height="2" fill="url(#h1_20)"/><rect x="396.5" y="637.5" width="281.9" height="2" fill="url(#h1_21)"/><rect x="396.5" y="639" width="281.9" height="2" fill="url(#h1_22)"/><rect x="396.5" y="640.5" width="281.9" height="2" fill="url(#h1_23)"/><rect x="396.5" y="642" width="281.9" height="2" fill="url(#h1_24)"/><rect x="396.5" y="643.5" width="281.9" height="2" fill="url(#h1_25)"/><rect x="396.5" y="645" width="281.9" height="2" fill="url(#h1_26)"/><rect x="396.5" y="663" width="281.9" height="2" fill="url(#h2_0)"/><rect x="396.5" y="664.5" width="281.9" height="2" fill="url(#h2_1)"/><rect x="396.5" y="666" width="281.9" height="2" fill="url(#h2_2)"/><rect x="396.5" y="667.5" width="281.9" height="2" fill="url(#h2_3)"/><rect x="396.5" y="669" width="281.9" height="2" fill="url(#h2_4)"/><rect x="396.5" y="670.5" width="281.9" height="2" fill="url(#h2_5)"/><rect x="396.5" y="672" width="281.9" height="2" fill="url(#h2_6)"/><rect x="396.5" y="673.5" width="281.9" height="2" fill="url(#h2_7)"/><rect x="396.5" y="675" width="281.9" height="2" fill="url(#h2_8)"/><rect x="396.5" y="676.5" width="281.9" height="2" fill="url(#h2_9)"/><rect x="396.5" y="678" width="281.9" height="2" fill="url(#h2_10)"/><rect x="396.5" y="679.5" width="281.9" height="2" fill="url(#h2_11)"/><rect x="396.5" y="681" width="281.9" height="2" fill="url(#h2_12)"/><rect x="396.5" y="682.5" width="281.9" height="2" fill="url(#h2_13)"/><rect x="396.5" y="684" width="281.9" height="2" fill="url(#h2_14)"/><rect x="396.5" y="685.5" width="281.9" height="2" fill="url(#h2_15)"/><rect x="396.5" y="687" width="281.9" height="2" fill="url(#h2_16)"/><rect x="396.5" y="688.5" width="281.9" height="2" fill="url(#h2_17)"/><rect x="396.5" y="690" width="281.9" height="2" fill="url(#h2_18)"/><rect x="396.5" y="691.5" width="281.9" height="2" fill="url(#h2_19)"/><rect x="396.5" y="693" width="281.9" height="2" fill="url(#h2_20)"/><rect x="396.5" y="694.5" width="281.9" height="2" fill="url(#h2_21)"/><rect x="396.5" y="696" width="281.9" height="2" fill="url(#h2_22)"/><rect x="396.5" y="697.5" width="281.9" height="2" fill="url(#h2_23)"/><rect x="396.5" y="699" width="281.9" height="2" fill="url(#h2_24)"/><rect x="396.5" y="700.5" width="281.9" height="2" fill="url(#h2_25)"/><rect x="396.5" y="712" width="281.9" height="2" fill="url(#h3_0)"/><rect x="396.5" y="713.5" width="281.9" height="2" fill="url(#h3_1)"/><rect x="396.5" y="715" width="281.9" height="2" fill="url(#h3_2)"/><rect x="396.5" y="716.5" width="281.9" height="2" fill="url(#h3_3)"/><rect x="396.5" y="718" width="281.9" height="2" fill="url(#h3_4)"/><rect x="396.5" y="719.5" width="281.9" height="2" fill="url(#h3_5)"/><rect x="396.5" y="721" width="281.9" height="2" fill="url(#h3_6)"/><rect x="396.5" y="722.5" width="281.9" height="2" fill="url(#h3_7)"/><rect x="396.5" y="724" width="281.9" height="2" fill="url(#h3_8)"/><rect x="396.5" y="725.5" width="281.9" height="2" fill="url(#h3_9)"/><rect x="396.5" y="727" width="281.9" height="2" fill="url(#h3_10)"/><rect x="396.5" y="728.5" width="281.9" height="2" fill="url(#h3_11)"/><rect x="396.5" y="730" width="281.9" height="2" fill="url(#h3_12)"/><rect x="396.5" y="731.5" width="281.9" height="2" fill="url(#h3_13)"/><rect x="396.5" y="733" width="281.9" height="2" fill="url(#h3_14)"/><rect x="396.5" y="734.5" width="281.9" height="2" fill="url(#h3_15)"/><rect x="396.5" y="736" width="281.9" height="2" fill="url(#h3_16)"/><rect x="396.5" y="737.5" width="281.9" height="2" fill="url(#h3_17)"/><rect x="396.5" y="739" width="281.9" height="2" fill="url(#h3_18)"/><rect x="396.5" y="740.5" width="281.9" height="2" fill="url(#h3_19)"/><rect x="396.5" y="742" width="281.9" height="2" fill="url(#h3_20)"/><rect x="396.5" y="743.5" width="281.9" height="2" fill="url(#h3_21)"/><rect x="396.5" y="745" width="281.9" height="2" fill="url(#h3_22)"/><rect x="396.5" y="746.5" width="281.9" height="2" fill="url(#h3_23)"/><rect x="396.5" y="748" width="281.9" height="2" fill="url(#h3_24)"/><rect x="396.5" y="749.5" width="281.9" height="2" fill="url(#h3_25)"/><rect x="396.5" y="751" width="281.9" height="2" fill="url(#h3_26)"/><rect x="396.5" y="752.5" width="281.9" height="2" fill="url(#h3_27)"/><rect x="396.5" y="754" width="281.9" height="2" fill="url(#h3_28)"/></g></g>
<text x="392.5" y="591.3" font-size="9" text-anchor="end" fill="#231f20" >40</text>
<text x="392.5" y="618.2" font-size="9" text-anchor="end" fill="#231f20" >20</text>
<text x="392.5" y="641.8" font-size="9" text-anchor="end" fill="#231f20" >0</text>
<text x="392.5" y="653.1" font-size="9" text-anchor="end" fill="#231f20" >40</text>
<text x="392.5" y="674.3" font-size="9" text-anchor="end" fill="#231f20" >20</text>
<text x="392.5" y="695.9" font-size="9" text-anchor="end" fill="#231f20" >0</text>
<text x="392.5" y="708.5" font-size="9" text-anchor="end" fill="#231f20" >40</text>
<text x="392.5" y="729.5" font-size="9" text-anchor="end" fill="#231f20" >20</text>
<text x="392.5" y="757.1" font-size="9" text-anchor="end" fill="#231f20" >0</text>
<text x="443.8" y="765.6" font-size="9" text-anchor="middle" fill="#231f20" >400</text>
<text x="502.5" y="765.6" font-size="9" text-anchor="middle" fill="#231f20" >500</text>
<text x="561.1" y="765.6" font-size="9" text-anchor="middle" fill="#231f20" >600</text>
<text x="619.8" y="765.6" font-size="9" text-anchor="middle" fill="#231f20" >700</text>
<text x="678.4" y="765.6" font-size="9" text-anchor="middle" fill="#231f20" >800</text>
<text x="538" y="778.7" font-size="9" text-anchor="middle" fill="#231f20" >Wavelength (nm)</text>
<text transform="translate(370.2,671) rotate(-90)" x="0" y="3.2" font-size="9" text-anchor="middle" fill="#231f20" >Time (µs)</text>
<text x="412.3" y="603.8" font-size="9" text-anchor="start" fill="#ffffff" >NaGd<tspan font-size="6.7" dy="2.3">0.6</tspan><tspan dy="-2.3">F</tspan><tspan font-size="6.7" dy="2.3">4</tspan><tspan dy="-2.3">:Tb</tspan><tspan font-size="6.7" dy="2.3">0.4</tspan><tspan dy="-2.3">@ligand</tspan></text>
<text x="669.2" y="604.4" font-size="9" text-anchor="end" fill="#ffffff" >Ligand = OA</text>
<text x="669.2" y="659.5" font-size="9" text-anchor="end" fill="#ffffff" >Null</text>
<text x="669.2" y="715.2" font-size="9" text-anchor="end" fill="#ffffff" >CzPPOA</text>
<line x1="425.4" y1="623.5" x2="502" y2="623.5" stroke="#f4f4f4" stroke-width="1.4" />
<path d="M463,623.5 L458,626.2 L460,623.5 L458,620.8 Z" stroke="none" fill="#f4f4f4" stroke-width="0.8" />
<path d="M506,623.5 L501,626.2 L503,623.5 L501,620.8 Z" stroke="none" fill="#f4f4f4" stroke-width="0.8" />
<line x1="477.2" y1="618" x2="488.2" y2="629" stroke="#f4f4f4" stroke-width="1.6" />
<line x1="477.2" y1="629" x2="488.2" y2="618" stroke="#f4f4f4" stroke-width="1.6" />
<line x1="425.4" y1="677.6" x2="502" y2="677.6" stroke="#f4f4f4" stroke-width="1.4" />
<path d="M463,677.6 L458,680.4 L460,677.6 L458,674.9 Z" stroke="none" fill="#f4f4f4" stroke-width="0.8" />
<path d="M506,677.6 L501,680.4 L503,677.6 L501,674.9 Z" stroke="none" fill="#f4f4f4" stroke-width="0.8" />
<line x1="477.2" y1="672.1" x2="488.2" y2="683.1" stroke="#f4f4f4" stroke-width="1.6" />
<line x1="477.2" y1="683.1" x2="488.2" y2="672.1" stroke="#f4f4f4" stroke-width="1.6" />
<path d="M425.4,734.6 L510,734.6 Q522,734.6 524,723" stroke="#f4f4f4" stroke-width="1.4" fill="none"/>
<path d="M457,734.6 L452,737.4 L454,734.6 L452,731.9 Z" stroke="none" fill="#f4f4f4" stroke-width="0.8" />
<path d="M503,734.6 L498,737.4 L500,734.6 L498,731.9 Z" stroke="none" fill="#f4f4f4" stroke-width="0.8" />
<path d="M524.7,719.5 L526.5,724.9 L524.2,722.5 L521.1,723.9 Z" stroke="none" fill="#f4f4f4" stroke-width="0.8" />
<text x="407.8" y="713" font-size="9" text-anchor="start" fill="#f4f4f4" >Host</text>
<line x1="430.6" y1="709.8" x2="439" y2="709.8" stroke="#f4f4f4" stroke-width="1" />
<path d="M442,709.8 L438.2,711.9 L439.7,709.8 L438.2,707.7 Z" stroke="none" fill="#f4f4f4" stroke-width="0.8" />
<text x="445" y="713" font-size="9" text-anchor="start" fill="#f4f4f4" >ligand</text>
<line x1="476" y1="709.8" x2="496" y2="709.8" stroke="#f4f4f4" stroke-width="1" />
<path d="M499.5,709.8 L495.7,711.9 L497.2,709.8 L495.7,707.7 Z" stroke="none" fill="#f4f4f4" stroke-width="0.8" />
<text x="502.4" y="713" font-size="9" text-anchor="start" fill="#f4f4f4" >NaGd<tspan font-size="6.2" dy="2.2">1−x</tspan><tspan dy="-2.2">F</tspan><tspan font-size="6.2" dy="2.2">4</tspan><tspan dy="-2.2">:Tb</tspan><tspan font-size="6.2" dy="2.2">x</tspan></text></svg></body></html>
